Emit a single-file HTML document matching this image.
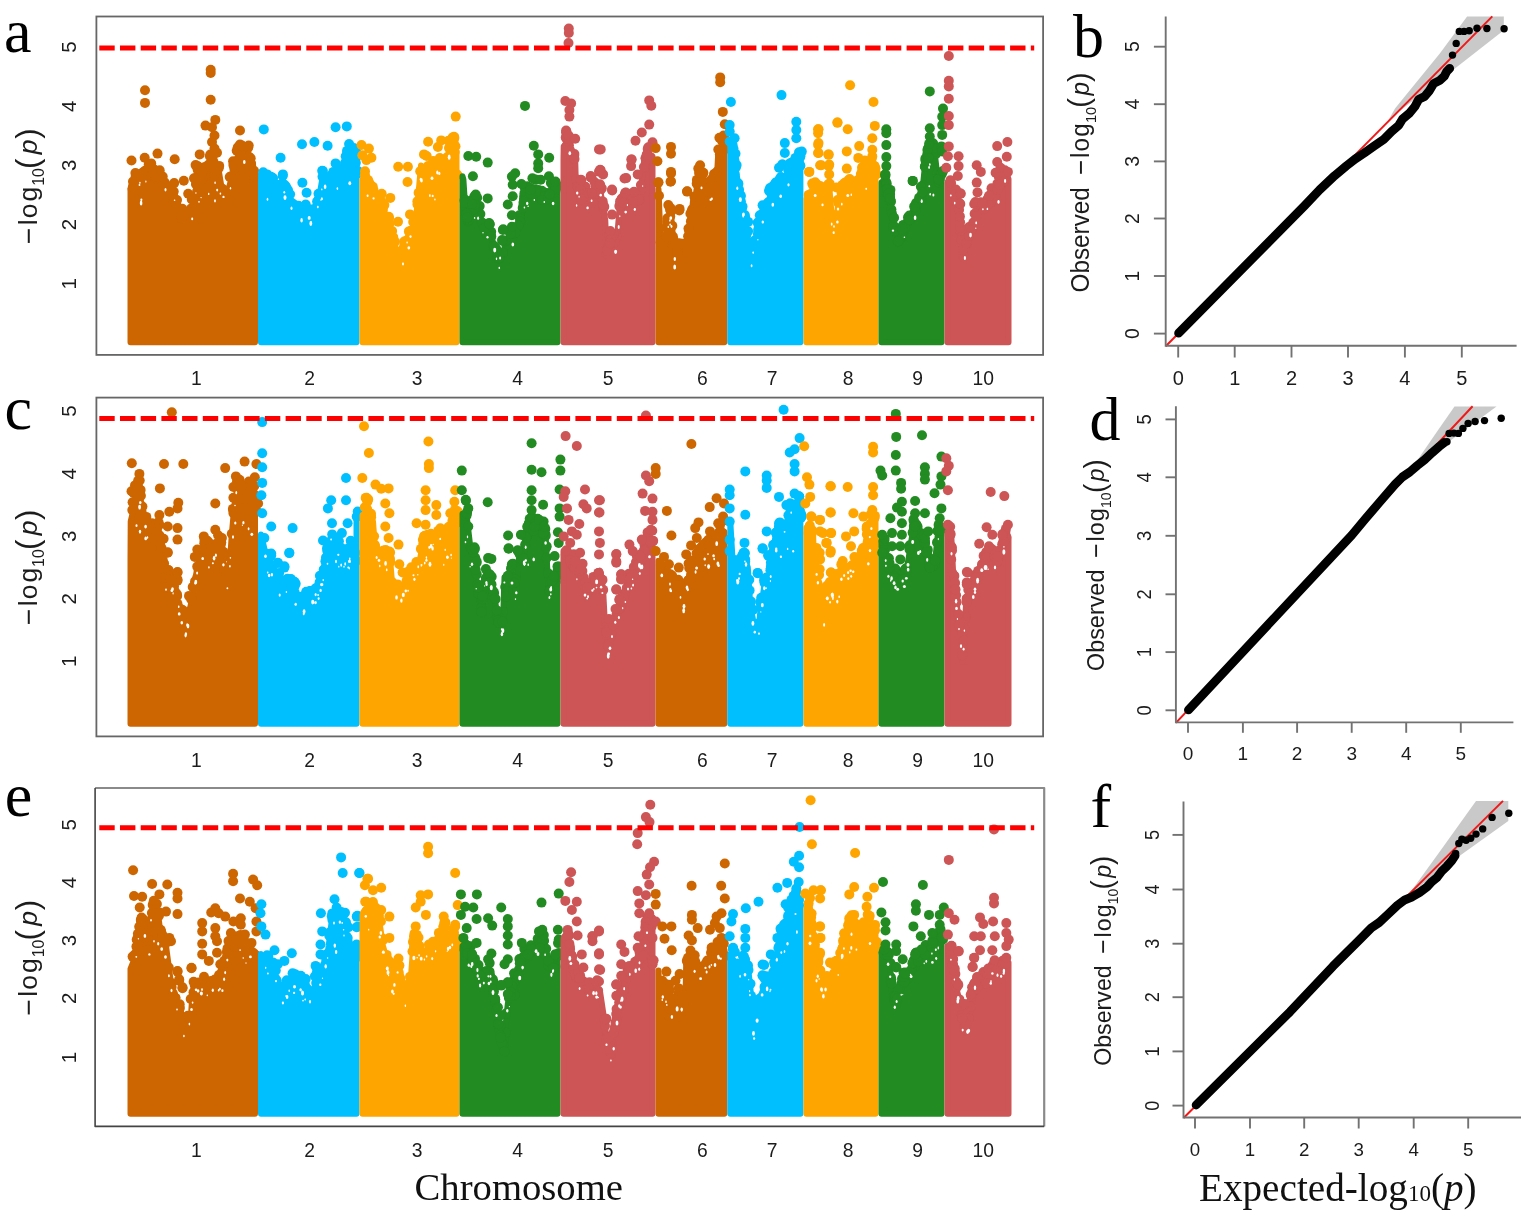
<!DOCTYPE html><html><head><meta charset="utf-8"><title>Manhattan and QQ plots</title><style>html,body{margin:0;padding:0;background:#fff}svg{display:block}.m circle{r:5px}</style></head><body><svg width="1535" height="1217" viewBox="0 0 1535 1217">
<rect width="100%" height="100%" fill="#fff"/>
<g class="m"><path d="M130.5,342.3L130.5,189.5L130.5,189.5L136.4,182.9L144.7,173.1L152.9,173.1L161.1,182.9L169.3,189.5L174.2,197.7L179.2,215.8L185.7,224.0L189.0,215.8L194.0,205.9L197.3,176.3L202.2,182.9L208.8,165.6L218.6,169.8L221.9,189.5L226.8,197.7L231.8,176.3L238.3,159.2L249.8,159.2L253.1,176.3L255.0,182.9L255.0,182.9L255.0,342.3Z" fill="#CD6600" stroke="#CD6600" stroke-width="6.0" stroke-linejoin="round"/>
<g fill="#CD6600"><circle cx="172.7" cy="196.3" r="5"/><circle cx="213.2" cy="169.0" r="5"/><circle cx="198.9" cy="178.6" r="5"/><circle cx="139.7" cy="177.8" r="5"/><circle cx="137.1" cy="181.5" r="5"/><circle cx="141.2" cy="178.8" r="5"/><circle cx="185.1" cy="217.4" r="5"/><circle cx="147.9" cy="173.9" r="5"/><circle cx="210.3" cy="154.6" r="5"/><circle cx="204.1" cy="177.5" r="5"/><circle cx="253.6" cy="179.6" r="5"/><circle cx="239.0" cy="158.9" r="5"/><circle cx="150.4" cy="174.5" r="5"/><circle cx="170.8" cy="186.3" r="5"/><circle cx="154.9" cy="173.6" r="5"/><circle cx="211.7" cy="166.5" r="5"/><circle cx="200.4" cy="182.3" r="5"/><circle cx="139.9" cy="179.7" r="5"/><circle cx="216.9" cy="168.4" r="5"/><circle cx="171.5" cy="191.1" r="5"/><circle cx="188.7" cy="217.0" r="5"/><circle cx="231.0" cy="176.3" r="5"/><circle cx="162.8" cy="182.4" r="5"/><circle cx="197.6" cy="169.5" r="5"/><circle cx="223.0" cy="191.7" r="5"/><circle cx="254.0" cy="181.0" r="5"/><circle cx="184.3" cy="217.9" r="5"/><circle cx="151.3" cy="172.0" r="5"/><circle cx="137.4" cy="178.8" r="5"/><circle cx="227.3" cy="193.8" r="5"/><circle cx="241.1" cy="158.6" r="5"/><circle cx="218.7" cy="168.3" r="5"/><circle cx="204.4" cy="176.1" r="5"/><circle cx="236.7" cy="150.7" r="5"/><circle cx="191.3" cy="208.4" r="5"/><circle cx="140.0" cy="175.2" r="5"/><circle cx="212.7" cy="155.8" r="5"/><circle cx="234.4" cy="168.9" r="5"/><circle cx="180.3" cy="214.3" r="5"/><circle cx="135.3" cy="183.4" r="5"/><circle cx="153.3" cy="175.1" r="5"/><circle cx="139.8" cy="174.3" r="5"/><circle cx="148.5" cy="173.8" r="5"/><circle cx="181.0" cy="210.8" r="5"/><circle cx="142.5" cy="175.0" r="5"/><circle cx="200.6" cy="173.2" r="5"/><circle cx="234.1" cy="162.4" r="5"/><circle cx="167.0" cy="187.2" r="5"/><circle cx="177.0" cy="200.1" r="5"/><circle cx="251.3" cy="166.9" r="5"/><circle cx="154.4" cy="175.6" r="5"/><circle cx="161.4" cy="182.2" r="5"/><circle cx="205.6" cy="174.3" r="5"/><circle cx="133.0" cy="186.3" r="5"/><circle cx="178.3" cy="210.8" r="5"/><circle cx="250.7" cy="158.3" r="5"/><circle cx="196.4" cy="181.5" r="5"/><circle cx="216.3" cy="170.4" r="5"/><circle cx="244.0" cy="150.9" r="5"/><circle cx="240.9" cy="150.3" r="5"/><circle cx="181.2" cy="218.0" r="5"/><circle cx="145.3" cy="170.5" r="5"/><circle cx="140.2" cy="180.1" r="5"/><circle cx="158.4" cy="180.9" r="5"/><circle cx="174.7" cy="201.0" r="5"/><circle cx="132.5" cy="188.5" r="5"/><circle cx="145.1" cy="173.0" r="5"/><circle cx="135.7" cy="176.4" r="5"/><circle cx="208.6" cy="167.0" r="5"/><circle cx="163.8" cy="185.1" r="5"/><circle cx="177.7" cy="211.6" r="5"/><circle cx="237.8" cy="147.3" r="5"/><circle cx="190.3" cy="212.3" r="5"/><circle cx="143.1" cy="176.4" r="5"/><circle cx="175.0" cy="201.1" r="5"/><circle cx="235.3" cy="167.5" r="5"/><circle cx="135.4" cy="173.1" r="5"/><circle cx="198.0" cy="178.6" r="5"/><circle cx="199.9" cy="181.7" r="5"/><circle cx="198.0" cy="166.3" r="5"/><circle cx="239.6" cy="153.1" r="5"/><circle cx="164.9" cy="185.9" r="5"/><circle cx="153.2" cy="168.8" r="5"/><circle cx="198.5" cy="173.3" r="5"/><circle cx="173.4" cy="197.1" r="5"/><circle cx="233.1" cy="161.3" r="5"/><circle cx="238.2" cy="150.4" r="5"/><circle cx="234.0" cy="165.7" r="5"/><circle cx="160.6" cy="181.1" r="5"/><circle cx="176.6" cy="208.2" r="5"/><circle cx="136.0" cy="184.0" r="5"/><circle cx="164.6" cy="182.4" r="5"/><circle cx="251.1" cy="163.9" r="5"/><circle cx="248.7" cy="145.6" r="5"/><circle cx="250.9" cy="163.7" r="5"/><circle cx="159.8" cy="182.3" r="5"/><circle cx="156.9" cy="178.8" r="5"/><circle cx="209.9" cy="156.3" r="5"/><circle cx="236.7" cy="161.2" r="5"/><circle cx="213.5" cy="161.9" r="5"/><circle cx="143.0" cy="172.2" r="5"/><circle cx="245.3" cy="150.8" r="5"/><circle cx="225.5" cy="194.6" r="5"/><circle cx="154.6" cy="170.2" r="5"/><circle cx="173.7" cy="191.6" r="5"/><circle cx="253.0" cy="175.2" r="5"/><circle cx="182.3" cy="208.7" r="5"/><circle cx="222.4" cy="191.4" r="5"/><circle cx="148.3" cy="174.3" r="5"/><circle cx="244.7" cy="150.0" r="5"/><circle cx="150.6" cy="167.2" r="5"/><circle cx="254.1" cy="176.8" r="5"/><circle cx="176.0" cy="202.4" r="5"/><circle cx="148.7" cy="175.0" r="5"/><circle cx="252.9" cy="172.1" r="5"/><circle cx="197.8" cy="166.9" r="5"/><circle cx="186.3" cy="215.4" r="5"/><circle cx="234.9" cy="168.0" r="5"/><circle cx="163.7" cy="185.5" r="5"/><circle cx="162.3" cy="181.9" r="5"/><circle cx="164.7" cy="185.3" r="5"/><circle cx="148.8" cy="164.2" r="5"/><circle cx="176.4" cy="204.8" r="5"/><circle cx="204.8" cy="167.1" r="5"/><circle cx="184.7" cy="213.4" r="5"/><circle cx="194.7" cy="197.9" r="5"/><circle cx="197.4" cy="178.5" r="5"/><circle cx="187.1" cy="221.8" r="5"/><circle cx="133.0" cy="181.5" r="5"/><circle cx="153.9" cy="173.4" r="5"/><circle cx="222.4" cy="188.7" r="5"/><circle cx="172.9" cy="194.2" r="5"/><circle cx="201.4" cy="176.9" r="5"/><circle cx="145.7" cy="171.4" r="5"/><circle cx="163.3" cy="185.2" r="5"/><circle cx="228.3" cy="190.4" r="5"/><circle cx="202.2" cy="178.5" r="5"/><circle cx="245.6" cy="157.2" r="5"/><circle cx="208.5" cy="164.7" r="5"/><circle cx="196.0" cy="184.2" r="5"/><circle cx="188.6" cy="215.5" r="5"/><circle cx="191.8" cy="199.5" r="5"/><circle cx="219.2" cy="165.9" r="5"/><circle cx="249.3" cy="159.1" r="5"/><circle cx="201.9" cy="171.6" r="5"/><circle cx="236.7" cy="164.3" r="5"/><circle cx="147.6" cy="172.4" r="5"/><circle cx="141.5" cy="177.6" r="5"/><circle cx="141.6" cy="173.8" r="5"/><circle cx="229.7" cy="177.0" r="5"/><circle cx="151.7" cy="169.4" r="5"/><circle cx="214.4" cy="169.1" r="5"/><circle cx="242.0" cy="145.6" r="5"/><circle cx="159.7" cy="170.3" r="5"/><circle cx="181.9" cy="218.2" r="5"/><circle cx="255.2" cy="176.9" r="5"/><circle cx="152.5" cy="172.5" r="5"/><circle cx="196.4" cy="183.8" r="5"/><circle cx="156.8" cy="178.0" r="5"/><circle cx="222.0" cy="191.6" r="5"/><circle cx="201.2" cy="181.0" r="5"/><circle cx="134.7" cy="185.0" r="5"/><circle cx="209.9" cy="164.4" r="5"/><circle cx="145.0" cy="90.3" r="5"/><circle cx="145.0" cy="102.9" r="5"/><circle cx="210.7" cy="69.7" r="5"/><circle cx="210.7" cy="73.0" r="5"/><circle cx="210.7" cy="99.8" r="5"/><circle cx="240.0" cy="130.5" r="5"/><circle cx="131.5" cy="160.5" r="5"/><circle cx="174.7" cy="159.3" r="5"/><circle cx="183.8" cy="180.7" r="5"/><circle cx="188.2" cy="193.8" r="5"/><circle cx="157.5" cy="153.6" r="5"/><circle cx="144.7" cy="157.7" r="5"/><circle cx="199.7" cy="154.4" r="5"/><circle cx="215.3" cy="119.9" r="5"/><circle cx="205.5" cy="125.6" r="5"/><circle cx="212.0" cy="127.3" r="5"/><circle cx="214.5" cy="135.5" r="5"/><circle cx="212.0" cy="142.0" r="5"/><circle cx="214.5" cy="148.6" r="5"/><circle cx="217.0" cy="152.7" r="5"/><circle cx="240.0" cy="144.5" r="5"/><circle cx="248.2" cy="147.8" r="5"/><circle cx="241.6" cy="155.2" r="5"/><circle cx="249.0" cy="156.8" r="5"/><circle cx="233.4" cy="165.1" r="5"/><circle cx="240.0" cy="165.1" r="5"/><circle cx="248.2" cy="165.1" r="5"/><circle cx="254.0" cy="170.8" r="5"/><circle cx="151.2" cy="163.4" r="5"/><circle cx="138.1" cy="174.9" r="5"/><circle cx="162.7" cy="176.6" r="5"/><circle cx="174.2" cy="183.1" r="5"/><circle cx="195.6" cy="165.1" r="5"/><circle cx="194.0" cy="178.2" r="5"/><circle cx="197.3" cy="191.4" r="5"/></g>
<g fill="#fff"><ellipse cx="141.1" cy="202.9" rx="1.3" ry="2.5"/><ellipse cx="145.9" cy="181.6" rx="0.6" ry="1.1"/><ellipse cx="165.5" cy="189.8" rx="1.0" ry="1.8"/><ellipse cx="230.5" cy="188.2" rx="0.7" ry="1.3"/><ellipse cx="201.1" cy="197.6" rx="0.7" ry="0.7"/><ellipse cx="215.1" cy="182.8" rx="0.7" ry="1.2"/><ellipse cx="208.7" cy="193.9" rx="0.7" ry="1.2"/><ellipse cx="141.4" cy="199.7" rx="1.0" ry="1.3"/><ellipse cx="199.0" cy="201.8" rx="0.8" ry="0.9"/><ellipse cx="195.9" cy="193.0" rx="0.7" ry="0.8"/><ellipse cx="139.5" cy="185.0" rx="0.9" ry="1.1"/><ellipse cx="223.5" cy="196.9" rx="1.1" ry="1.2"/><ellipse cx="174.6" cy="200.3" rx="0.8" ry="0.8"/><ellipse cx="220.4" cy="193.7" rx="0.8" ry="1.1"/><ellipse cx="244.3" cy="162.0" rx="1.3" ry="1.9"/><ellipse cx="192.2" cy="218.9" rx="1.0" ry="1.4"/><ellipse cx="215.0" cy="200.8" rx="0.9" ry="1.6"/><ellipse cx="217.2" cy="190.1" rx="1.0" ry="1.3"/><ellipse cx="139.9" cy="182.8" rx="0.7" ry="1.1"/></g>
<path d="M261.0,342.3L261.0,179.6L261.0,179.6L263.0,176.3L267.9,181.3L276.1,186.2L282.7,184.6L286.0,197.7L290.9,205.9L295.9,215.8L300.8,217.4L305.7,212.5L310.7,215.8L317.2,209.2L322.2,179.6L327.1,182.9L333.7,182.9L340.2,182.9L345.2,161.7L351.8,155.3L356.5,164.3L356.5,173.1L356.5,173.1L356.5,342.3Z" fill="#00BFFF" stroke="#00BFFF" stroke-width="6.0" stroke-linejoin="round"/>
<g fill="#00BFFF"><circle cx="287.3" cy="201.0" r="5"/><circle cx="271.0" cy="176.8" r="5"/><circle cx="345.7" cy="156.3" r="5"/><circle cx="289.8" cy="204.8" r="5"/><circle cx="290.8" cy="205.0" r="5"/><circle cx="278.0" cy="185.1" r="5"/><circle cx="288.0" cy="190.0" r="5"/><circle cx="355.4" cy="159.4" r="5"/><circle cx="286.2" cy="187.1" r="5"/><circle cx="292.4" cy="208.9" r="5"/><circle cx="263.1" cy="176.3" r="5"/><circle cx="308.1" cy="212.9" r="5"/><circle cx="282.1" cy="183.6" r="5"/><circle cx="263.5" cy="177.4" r="5"/><circle cx="271.5" cy="183.1" r="5"/><circle cx="267.0" cy="182.2" r="5"/><circle cx="291.9" cy="208.7" r="5"/><circle cx="318.6" cy="199.5" r="5"/><circle cx="334.3" cy="180.1" r="5"/><circle cx="331.0" cy="175.4" r="5"/><circle cx="300.0" cy="217.4" r="5"/><circle cx="356.5" cy="174.3" r="5"/><circle cx="331.8" cy="180.3" r="5"/><circle cx="267.2" cy="174.4" r="5"/><circle cx="347.7" cy="154.6" r="5"/><circle cx="332.7" cy="177.4" r="5"/><circle cx="276.2" cy="184.8" r="5"/><circle cx="310.9" cy="209.4" r="5"/><circle cx="339.4" cy="177.0" r="5"/><circle cx="318.5" cy="193.7" r="5"/><circle cx="327.9" cy="179.6" r="5"/><circle cx="284.8" cy="194.9" r="5"/><circle cx="275.6" cy="185.9" r="5"/><circle cx="273.0" cy="178.2" r="5"/><circle cx="316.1" cy="207.9" r="5"/><circle cx="322.5" cy="176.7" r="5"/><circle cx="309.5" cy="217.0" r="5"/><circle cx="338.8" cy="178.7" r="5"/><circle cx="310.8" cy="214.2" r="5"/><circle cx="325.6" cy="183.6" r="5"/><circle cx="333.0" cy="183.6" r="5"/><circle cx="270.1" cy="183.2" r="5"/><circle cx="332.3" cy="183.9" r="5"/><circle cx="333.3" cy="171.9" r="5"/><circle cx="309.9" cy="215.1" r="5"/><circle cx="308.5" cy="211.2" r="5"/><circle cx="335.9" cy="180.6" r="5"/><circle cx="324.1" cy="182.5" r="5"/><circle cx="277.0" cy="186.7" r="5"/><circle cx="333.6" cy="183.3" r="5"/><circle cx="316.9" cy="211.5" r="5"/><circle cx="268.8" cy="182.4" r="5"/><circle cx="326.8" cy="179.4" r="5"/><circle cx="327.2" cy="183.4" r="5"/><circle cx="312.1" cy="213.6" r="5"/><circle cx="307.3" cy="215.0" r="5"/><circle cx="347.9" cy="159.6" r="5"/><circle cx="355.9" cy="150.8" r="5"/><circle cx="264.7" cy="177.2" r="5"/><circle cx="340.9" cy="168.9" r="5"/><circle cx="305.7" cy="213.1" r="5"/><circle cx="282.9" cy="174.4" r="5"/><circle cx="283.0" cy="183.8" r="5"/><circle cx="276.5" cy="184.8" r="5"/><circle cx="353.5" cy="159.7" r="5"/><circle cx="340.9" cy="178.6" r="5"/><circle cx="347.3" cy="153.6" r="5"/><circle cx="285.0" cy="185.3" r="5"/><circle cx="309.2" cy="216.7" r="5"/><circle cx="263.3" cy="175.6" r="5"/><circle cx="305.8" cy="212.9" r="5"/><circle cx="276.4" cy="186.3" r="5"/><circle cx="293.0" cy="203.9" r="5"/><circle cx="263.2" cy="172.3" r="5"/><circle cx="342.7" cy="172.8" r="5"/><circle cx="351.0" cy="148.6" r="5"/><circle cx="348.6" cy="158.0" r="5"/><circle cx="298.4" cy="216.4" r="5"/><circle cx="357.9" cy="171.1" r="5"/><circle cx="297.3" cy="215.7" r="5"/><circle cx="289.1" cy="204.7" r="5"/><circle cx="272.7" cy="178.0" r="5"/><circle cx="290.1" cy="194.2" r="5"/><circle cx="286.7" cy="199.4" r="5"/><circle cx="311.5" cy="216.0" r="5"/><circle cx="298.5" cy="205.7" r="5"/><circle cx="347.0" cy="150.9" r="5"/><circle cx="322.9" cy="171.1" r="5"/><circle cx="352.4" cy="152.5" r="5"/><circle cx="331.4" cy="184.7" r="5"/><circle cx="332.6" cy="182.2" r="5"/><circle cx="334.5" cy="180.3" r="5"/><circle cx="290.2" cy="206.5" r="5"/><circle cx="351.0" cy="157.0" r="5"/><circle cx="307.9" cy="214.0" r="5"/><circle cx="291.3" cy="202.6" r="5"/><circle cx="355.7" cy="163.1" r="5"/><circle cx="325.3" cy="182.1" r="5"/><circle cx="315.9" cy="210.3" r="5"/><circle cx="278.9" cy="186.7" r="5"/><circle cx="282.7" cy="176.0" r="5"/><circle cx="310.2" cy="216.4" r="5"/><circle cx="349.1" cy="144.0" r="5"/><circle cx="305.7" cy="213.8" r="5"/><circle cx="281.3" cy="186.5" r="5"/><circle cx="295.5" cy="216.6" r="5"/><circle cx="285.7" cy="197.2" r="5"/><circle cx="317.1" cy="201.5" r="5"/><circle cx="334.2" cy="182.5" r="5"/><circle cx="302.3" cy="214.6" r="5"/><circle cx="298.8" cy="216.9" r="5"/><circle cx="268.9" cy="182.4" r="5"/><circle cx="354.9" cy="162.5" r="5"/><circle cx="310.8" cy="213.2" r="5"/><circle cx="345.0" cy="163.1" r="5"/><circle cx="288.7" cy="203.0" r="5"/><circle cx="301.0" cy="216.6" r="5"/><circle cx="353.6" cy="147.9" r="5"/><circle cx="345.9" cy="162.9" r="5"/><circle cx="266.1" cy="175.8" r="5"/><circle cx="348.1" cy="156.5" r="5"/><circle cx="318.8" cy="202.0" r="5"/><circle cx="300.2" cy="207.5" r="5"/><circle cx="341.4" cy="170.7" r="5"/><circle cx="355.4" cy="162.4" r="5"/><circle cx="273.4" cy="185.8" r="5"/><circle cx="263.8" cy="129.4" r="5"/><circle cx="280.6" cy="157.7" r="5"/><circle cx="302.0" cy="144.2" r="5"/><circle cx="314.4" cy="142.0" r="5"/><circle cx="327.6" cy="145.8" r="5"/><circle cx="335.6" cy="127.3" r="5"/><circle cx="346.8" cy="126.4" r="5"/><circle cx="335.6" cy="163.4" r="5"/><circle cx="302.4" cy="182.8" r="5"/><circle cx="306.6" cy="192.7" r="5"/><circle cx="305.7" cy="204.5" r="5"/><circle cx="322.2" cy="170.8" r="5"/></g>
<g fill="#fff"><ellipse cx="310.8" cy="223.5" rx="1.4" ry="2.4"/><ellipse cx="321.9" cy="198.8" rx="1.0" ry="1.5"/><ellipse cx="267.5" cy="199.2" rx="0.8" ry="1.5"/><ellipse cx="321.8" cy="189.4" rx="0.7" ry="0.9"/><ellipse cx="320.9" cy="200.0" rx="0.7" ry="0.7"/><ellipse cx="310.9" cy="222.3" rx="0.9" ry="1.1"/><ellipse cx="317.8" cy="207.0" rx="0.9" ry="1.2"/><ellipse cx="349.8" cy="183.2" rx="1.4" ry="2.0"/><ellipse cx="285.0" cy="197.6" rx="1.5" ry="2.4"/><ellipse cx="291.5" cy="208.3" rx="1.0" ry="1.7"/><ellipse cx="301.6" cy="220.2" rx="1.2" ry="2.2"/><ellipse cx="284.3" cy="192.3" rx="0.9" ry="1.2"/><ellipse cx="325.1" cy="186.8" rx="1.3" ry="2.2"/><ellipse cx="309.2" cy="217.9" rx="1.5" ry="1.9"/><ellipse cx="337.4" cy="188.6" rx="0.8" ry="1.3"/></g>
<path d="M362.5,342.3L362.5,179.6L362.5,179.6L366.4,179.6L373.0,189.5L377.9,205.9L382.9,214.1L389.4,222.4L392.7,247.0L397.0,258.0L401.0,264.0L407.5,238.8L414.1,230.6L417.4,205.9L421.0,165.6L422.3,197.7L427.3,164.3L432.2,173.1L437.1,166.9L443.7,173.1L445.3,189.5L448.6,154.1L456.5,151.5L456.5,173.1L456.5,173.1L456.5,342.3Z" fill="#FFA500" stroke="#FFA500" stroke-width="6.0" stroke-linejoin="round"/>
<g fill="#FFA500"><circle cx="392.1" cy="231.1" r="5"/><circle cx="410.9" cy="235.7" r="5"/><circle cx="385.4" cy="216.9" r="5"/><circle cx="426.7" cy="156.0" r="5"/><circle cx="378.2" cy="206.1" r="5"/><circle cx="384.4" cy="205.1" r="5"/><circle cx="377.8" cy="207.1" r="5"/><circle cx="370.1" cy="184.9" r="5"/><circle cx="448.5" cy="140.7" r="5"/><circle cx="433.0" cy="161.0" r="5"/><circle cx="451.6" cy="151.7" r="5"/><circle cx="381.8" cy="202.1" r="5"/><circle cx="434.3" cy="172.1" r="5"/><circle cx="426.6" cy="167.5" r="5"/><circle cx="399.5" cy="261.9" r="5"/><circle cx="380.3" cy="211.9" r="5"/><circle cx="390.7" cy="231.5" r="5"/><circle cx="453.8" cy="153.2" r="5"/><circle cx="454.7" cy="152.1" r="5"/><circle cx="397.8" cy="253.5" r="5"/><circle cx="441.4" cy="170.2" r="5"/><circle cx="369.1" cy="182.7" r="5"/><circle cx="399.3" cy="252.2" r="5"/><circle cx="382.5" cy="213.6" r="5"/><circle cx="448.4" cy="158.2" r="5"/><circle cx="402.9" cy="251.1" r="5"/><circle cx="436.2" cy="169.7" r="5"/><circle cx="367.8" cy="183.3" r="5"/><circle cx="450.5" cy="153.0" r="5"/><circle cx="434.4" cy="161.8" r="5"/><circle cx="396.2" cy="256.5" r="5"/><circle cx="454.0" cy="146.1" r="5"/><circle cx="389.0" cy="218.1" r="5"/><circle cx="394.1" cy="251.1" r="5"/><circle cx="364.9" cy="175.3" r="5"/><circle cx="450.2" cy="147.3" r="5"/><circle cx="452.7" cy="154.5" r="5"/><circle cx="386.4" cy="217.6" r="5"/><circle cx="454.0" cy="136.8" r="5"/><circle cx="400.6" cy="264.2" r="5"/><circle cx="404.7" cy="248.7" r="5"/><circle cx="451.3" cy="153.5" r="5"/><circle cx="439.5" cy="164.9" r="5"/><circle cx="441.4" cy="166.1" r="5"/><circle cx="421.3" cy="171.9" r="5"/><circle cx="394.4" cy="251.2" r="5"/><circle cx="437.6" cy="168.9" r="5"/><circle cx="382.9" cy="210.0" r="5"/><circle cx="387.6" cy="221.8" r="5"/><circle cx="367.7" cy="179.9" r="5"/><circle cx="395.0" cy="241.7" r="5"/><circle cx="447.1" cy="157.2" r="5"/><circle cx="389.3" cy="223.7" r="5"/><circle cx="373.5" cy="190.1" r="5"/><circle cx="430.9" cy="169.8" r="5"/><circle cx="386.4" cy="218.1" r="5"/><circle cx="422.5" cy="193.4" r="5"/><circle cx="434.4" cy="163.6" r="5"/><circle cx="426.6" cy="169.1" r="5"/><circle cx="443.1" cy="172.9" r="5"/><circle cx="417.5" cy="204.5" r="5"/><circle cx="433.5" cy="172.3" r="5"/><circle cx="387.6" cy="220.8" r="5"/><circle cx="378.8" cy="199.7" r="5"/><circle cx="418.6" cy="192.7" r="5"/><circle cx="401.5" cy="250.9" r="5"/><circle cx="411.9" cy="234.1" r="5"/><circle cx="440.1" cy="166.7" r="5"/><circle cx="457.2" cy="174.6" r="5"/><circle cx="408.9" cy="231.4" r="5"/><circle cx="443.1" cy="163.4" r="5"/><circle cx="368.3" cy="182.8" r="5"/><circle cx="375.6" cy="199.3" r="5"/><circle cx="455.5" cy="146.2" r="5"/><circle cx="451.5" cy="151.2" r="5"/><circle cx="445.5" cy="187.0" r="5"/><circle cx="388.8" cy="216.8" r="5"/><circle cx="452.9" cy="153.7" r="5"/><circle cx="420.2" cy="171.2" r="5"/><circle cx="384.8" cy="216.5" r="5"/><circle cx="377.7" cy="206.2" r="5"/><circle cx="388.3" cy="218.9" r="5"/><circle cx="425.4" cy="176.9" r="5"/><circle cx="365.6" cy="179.8" r="5"/><circle cx="427.9" cy="166.3" r="5"/><circle cx="393.7" cy="250.5" r="5"/><circle cx="438.9" cy="166.7" r="5"/><circle cx="370.4" cy="187.1" r="5"/><circle cx="401.5" cy="260.6" r="5"/><circle cx="424.3" cy="185.7" r="5"/><circle cx="379.8" cy="205.7" r="5"/><circle cx="402.8" cy="257.5" r="5"/><circle cx="393.3" cy="237.4" r="5"/><circle cx="393.7" cy="247.8" r="5"/><circle cx="397.9" cy="258.9" r="5"/><circle cx="445.3" cy="178.2" r="5"/><circle cx="398.5" cy="261.3" r="5"/><circle cx="432.6" cy="173.5" r="5"/><circle cx="365.0" cy="171.2" r="5"/><circle cx="404.1" cy="246.2" r="5"/><circle cx="402.5" cy="250.6" r="5"/><circle cx="407.6" cy="239.9" r="5"/><circle cx="365.9" cy="178.0" r="5"/><circle cx="424.4" cy="174.3" r="5"/><circle cx="372.8" cy="186.8" r="5"/><circle cx="399.2" cy="260.1" r="5"/><circle cx="378.1" cy="206.8" r="5"/><circle cx="413.2" cy="222.0" r="5"/><circle cx="374.7" cy="194.0" r="5"/><circle cx="439.8" cy="158.1" r="5"/><circle cx="383.0" cy="215.6" r="5"/><circle cx="452.7" cy="137.4" r="5"/><circle cx="409.6" cy="237.9" r="5"/><circle cx="451.1" cy="151.2" r="5"/><circle cx="449.0" cy="148.0" r="5"/><circle cx="441.6" cy="172.2" r="5"/><circle cx="438.0" cy="168.4" r="5"/><circle cx="402.3" cy="252.5" r="5"/><circle cx="442.0" cy="172.5" r="5"/><circle cx="384.9" cy="216.4" r="5"/><circle cx="412.9" cy="231.9" r="5"/><circle cx="376.0" cy="200.2" r="5"/><circle cx="432.3" cy="164.7" r="5"/><circle cx="368.3" cy="180.8" r="5"/><circle cx="435.3" cy="170.7" r="5"/><circle cx="361.5" cy="145.0" r="5"/><circle cx="368.9" cy="148.6" r="5"/><circle cx="362.3" cy="155.2" r="5"/><circle cx="371.4" cy="157.7" r="5"/><circle cx="366.4" cy="160.1" r="5"/><circle cx="398.2" cy="166.7" r="5"/><circle cx="407.9" cy="166.7" r="5"/><circle cx="407.5" cy="182.0" r="5"/><circle cx="381.7" cy="193.8" r="5"/><circle cx="390.3" cy="197.9" r="5"/><circle cx="428.1" cy="141.7" r="5"/><circle cx="441.2" cy="140.4" r="5"/><circle cx="437.9" cy="147.0" r="5"/><circle cx="455.7" cy="116.6" r="5"/><circle cx="454.4" cy="137.9" r="5"/><circle cx="453.6" cy="142.0" r="5"/><circle cx="424.0" cy="154.4" r="5"/><circle cx="398.0" cy="221.8" r="5"/><circle cx="410.0" cy="214.4" r="5"/><circle cx="404.2" cy="241.5" r="5"/><circle cx="417.4" cy="201.2" r="5"/><circle cx="410.8" cy="230.8" r="5"/></g>
<g fill="#fff"><ellipse cx="439.3" cy="173.4" rx="1.1" ry="1.7"/><ellipse cx="420.7" cy="179.3" rx="1.0" ry="1.5"/><ellipse cx="403.0" cy="264.0" rx="1.0" ry="1.4"/><ellipse cx="367.6" cy="195.8" rx="1.0" ry="1.3"/><ellipse cx="432.7" cy="195.9" rx="1.0" ry="1.2"/><ellipse cx="407.1" cy="242.4" rx="0.7" ry="1.0"/><ellipse cx="373.6" cy="198.4" rx="1.1" ry="1.1"/><ellipse cx="421.5" cy="180.4" rx="1.3" ry="2.1"/><ellipse cx="410.5" cy="236.6" rx="1.1" ry="1.4"/><ellipse cx="449.2" cy="157.2" rx="1.4" ry="2.6"/><ellipse cx="429.9" cy="195.6" rx="0.8" ry="1.5"/><ellipse cx="408.8" cy="247.8" rx="1.4" ry="1.6"/><ellipse cx="434.9" cy="199.5" rx="0.7" ry="0.9"/><ellipse cx="432.0" cy="178.3" rx="1.4" ry="1.8"/><ellipse cx="437.3" cy="172.5" rx="1.1" ry="1.9"/></g>
<path d="M462.5,342.3L462.5,176.3L462.5,176.3L463.4,179.6L465.1,205.9L468.3,222.4L471.6,209.2L476.6,205.9L481.5,222.4L486.4,232.2L491.4,235.5L493.8,245.6L494.6,247.0L498.0,260.1L504.2,249.7L508.4,237.2L511.1,238.8L516.0,230.6L520.9,219.1L524.2,199.4L529.2,196.1L535.7,189.5L542.3,199.4L547.2,197.7L552.2,192.8L557.1,187.8L557.5,187.8L557.5,342.3Z" fill="#228B22" stroke="#228B22" stroke-width="6.0" stroke-linejoin="round"/>
<g fill="#228B22"><circle cx="484.2" cy="228.4" r="5"/><circle cx="512.3" cy="237.0" r="5"/><circle cx="468.0" cy="221.6" r="5"/><circle cx="479.7" cy="206.1" r="5"/><circle cx="528.7" cy="188.2" r="5"/><circle cx="480.4" cy="214.0" r="5"/><circle cx="475.4" cy="205.3" r="5"/><circle cx="524.6" cy="199.1" r="5"/><circle cx="547.0" cy="196.1" r="5"/><circle cx="519.3" cy="215.2" r="5"/><circle cx="474.4" cy="196.4" r="5"/><circle cx="524.0" cy="200.4" r="5"/><circle cx="539.9" cy="196.3" r="5"/><circle cx="558.1" cy="186.0" r="5"/><circle cx="498.5" cy="254.7" r="5"/><circle cx="506.3" cy="244.7" r="5"/><circle cx="534.8" cy="192.2" r="5"/><circle cx="542.0" cy="199.5" r="5"/><circle cx="524.9" cy="187.9" r="5"/><circle cx="519.9" cy="218.7" r="5"/><circle cx="494.0" cy="248.0" r="5"/><circle cx="467.7" cy="220.4" r="5"/><circle cx="522.7" cy="207.9" r="5"/><circle cx="512.9" cy="227.5" r="5"/><circle cx="477.0" cy="208.2" r="5"/><circle cx="526.2" cy="199.9" r="5"/><circle cx="464.7" cy="201.0" r="5"/><circle cx="474.6" cy="207.3" r="5"/><circle cx="485.7" cy="228.8" r="5"/><circle cx="520.2" cy="221.8" r="5"/><circle cx="523.5" cy="203.1" r="5"/><circle cx="477.2" cy="197.8" r="5"/><circle cx="487.5" cy="234.2" r="5"/><circle cx="473.6" cy="205.4" r="5"/><circle cx="546.8" cy="193.0" r="5"/><circle cx="502.5" cy="253.3" r="5"/><circle cx="465.6" cy="205.9" r="5"/><circle cx="517.6" cy="226.8" r="5"/><circle cx="525.5" cy="197.9" r="5"/><circle cx="553.1" cy="187.9" r="5"/><circle cx="488.0" cy="224.7" r="5"/><circle cx="468.7" cy="219.7" r="5"/><circle cx="502.9" cy="252.8" r="5"/><circle cx="470.0" cy="210.9" r="5"/><circle cx="465.7" cy="207.4" r="5"/><circle cx="553.4" cy="192.8" r="5"/><circle cx="483.4" cy="223.9" r="5"/><circle cx="512.4" cy="234.0" r="5"/><circle cx="541.4" cy="199.1" r="5"/><circle cx="493.7" cy="245.7" r="5"/><circle cx="469.1" cy="211.5" r="5"/><circle cx="538.5" cy="190.0" r="5"/><circle cx="465.1" cy="199.8" r="5"/><circle cx="534.9" cy="189.5" r="5"/><circle cx="534.6" cy="189.9" r="5"/><circle cx="485.9" cy="232.6" r="5"/><circle cx="486.5" cy="234.1" r="5"/><circle cx="496.2" cy="248.9" r="5"/><circle cx="530.2" cy="188.6" r="5"/><circle cx="531.8" cy="194.1" r="5"/><circle cx="516.8" cy="228.1" r="5"/><circle cx="539.0" cy="193.1" r="5"/><circle cx="489.6" cy="231.7" r="5"/><circle cx="555.7" cy="190.1" r="5"/><circle cx="547.7" cy="199.2" r="5"/><circle cx="489.1" cy="234.8" r="5"/><circle cx="534.8" cy="179.4" r="5"/><circle cx="535.0" cy="190.4" r="5"/><circle cx="547.7" cy="197.5" r="5"/><circle cx="487.1" cy="224.0" r="5"/><circle cx="524.1" cy="196.8" r="5"/><circle cx="527.4" cy="186.3" r="5"/><circle cx="508.9" cy="231.3" r="5"/><circle cx="530.4" cy="188.0" r="5"/><circle cx="505.8" cy="241.2" r="5"/><circle cx="518.4" cy="225.4" r="5"/><circle cx="484.5" cy="226.1" r="5"/><circle cx="471.9" cy="200.2" r="5"/><circle cx="478.2" cy="213.1" r="5"/><circle cx="474.6" cy="197.3" r="5"/><circle cx="497.1" cy="258.0" r="5"/><circle cx="467.2" cy="218.5" r="5"/><circle cx="530.0" cy="192.8" r="5"/><circle cx="530.4" cy="190.9" r="5"/><circle cx="470.7" cy="210.9" r="5"/><circle cx="498.8" cy="253.1" r="5"/><circle cx="541.9" cy="190.8" r="5"/><circle cx="470.7" cy="205.7" r="5"/><circle cx="550.9" cy="183.0" r="5"/><circle cx="474.6" cy="208.2" r="5"/><circle cx="475.1" cy="208.8" r="5"/><circle cx="544.6" cy="193.1" r="5"/><circle cx="524.4" cy="193.4" r="5"/><circle cx="524.2" cy="200.1" r="5"/><circle cx="473.9" cy="209.2" r="5"/><circle cx="536.1" cy="191.0" r="5"/><circle cx="494.7" cy="246.6" r="5"/><circle cx="466.5" cy="213.7" r="5"/><circle cx="491.2" cy="231.8" r="5"/><circle cx="499.3" cy="258.2" r="5"/><circle cx="555.6" cy="188.2" r="5"/><circle cx="545.0" cy="196.1" r="5"/><circle cx="467.4" cy="217.4" r="5"/><circle cx="505.7" cy="240.5" r="5"/><circle cx="497.3" cy="253.9" r="5"/><circle cx="515.3" cy="232.6" r="5"/><circle cx="546.0" cy="199.7" r="5"/><circle cx="542.0" cy="200.0" r="5"/><circle cx="464.6" cy="200.0" r="5"/><circle cx="536.5" cy="179.7" r="5"/><circle cx="464.9" cy="202.6" r="5"/><circle cx="510.9" cy="233.6" r="5"/><circle cx="481.9" cy="222.2" r="5"/><circle cx="497.3" cy="251.5" r="5"/><circle cx="489.1" cy="223.1" r="5"/><circle cx="491.3" cy="236.4" r="5"/><circle cx="530.6" cy="193.5" r="5"/><circle cx="474.9" cy="204.5" r="5"/><circle cx="472.1" cy="203.9" r="5"/><circle cx="530.4" cy="189.9" r="5"/><circle cx="523.8" cy="201.7" r="5"/><circle cx="502.4" cy="252.5" r="5"/><circle cx="548.6" cy="197.9" r="5"/><circle cx="548.5" cy="198.4" r="5"/><circle cx="484.0" cy="228.0" r="5"/><circle cx="549.7" cy="194.2" r="5"/><circle cx="468.3" cy="156.0" r="5"/><circle cx="476.2" cy="156.8" r="5"/><circle cx="487.7" cy="162.6" r="5"/><circle cx="472.9" cy="176.2" r="5"/><circle cx="475.7" cy="194.6" r="5"/><circle cx="487.7" cy="198.4" r="5"/><circle cx="525.0" cy="105.9" r="5"/><circle cx="533.8" cy="145.7" r="5"/><circle cx="538.2" cy="154.4" r="5"/><circle cx="549.2" cy="157.7" r="5"/><circle cx="538.2" cy="163.4" r="5"/><circle cx="538.2" cy="168.3" r="5"/><circle cx="548.9" cy="176.2" r="5"/><circle cx="515.2" cy="173.3" r="5"/><circle cx="511.9" cy="176.6" r="5"/><circle cx="512.7" cy="184.8" r="5"/><circle cx="521.4" cy="184.0" r="5"/><circle cx="512.7" cy="196.3" r="5"/><circle cx="507.8" cy="204.5" r="5"/><circle cx="511.9" cy="215.2" r="5"/><circle cx="511.9" cy="226.7" r="5"/><circle cx="502.9" cy="230.0" r="5"/><circle cx="502.5" cy="240.7" r="5"/><circle cx="489.7" cy="224.2" r="5"/><circle cx="532.4" cy="178.2" r="5"/><circle cx="540.7" cy="179.8" r="5"/><circle cx="555.5" cy="181.5" r="5"/><circle cx="503.2" cy="229.2" r="5"/><circle cx="502.1" cy="240.1" r="5"/><circle cx="489.6" cy="224.0" r="5"/></g>
<g fill="#fff"><ellipse cx="499.3" cy="267.9" rx="0.8" ry="1.1"/><ellipse cx="512.8" cy="244.5" rx="1.3" ry="2.0"/><ellipse cx="496.5" cy="258.7" rx="0.7" ry="1.3"/><ellipse cx="524.4" cy="207.6" rx="0.8" ry="1.0"/><ellipse cx="534.3" cy="200.0" rx="0.7" ry="1.0"/><ellipse cx="544.3" cy="202.1" rx="0.8" ry="1.0"/><ellipse cx="528.1" cy="206.2" rx="0.7" ry="0.8"/><ellipse cx="487.5" cy="237.2" rx="1.1" ry="1.2"/><ellipse cx="494.7" cy="250.1" rx="1.5" ry="2.4"/><ellipse cx="474.6" cy="217.9" rx="0.7" ry="0.9"/><ellipse cx="553.1" cy="203.5" rx="1.3" ry="1.8"/><ellipse cx="483.0" cy="232.7" rx="0.7" ry="0.8"/><ellipse cx="500.1" cy="258.0" rx="1.0" ry="1.6"/><ellipse cx="527.2" cy="203.4" rx="1.2" ry="1.7"/><ellipse cx="478.1" cy="218.2" rx="1.0" ry="1.6"/></g>
<path d="M563.5,342.3L563.5,159.2L563.5,159.2L563.7,146.4L570.2,151.5L575.2,159.2L576.0,189.5L580.1,197.7L586.7,197.7L593.3,194.4L600.0,189.5L600.1,189.3L605.3,220.5L606.4,253.9L610.5,241.4L616.8,241.4L619.9,203.9L629.3,201.8L639.7,199.7L642.6,172.5L647.5,160.0L652.5,156.2L652.5,166.4L652.5,166.4L652.5,342.3Z" fill="#CD5555" stroke="#CD5555" stroke-width="6.0" stroke-linejoin="round"/>
<g fill="#CD5555"><circle cx="645.9" cy="162.8" r="5"/><circle cx="616.3" cy="237.2" r="5"/><circle cx="602.8" cy="206.0" r="5"/><circle cx="629.4" cy="194.2" r="5"/><circle cx="634.0" cy="197.4" r="5"/><circle cx="640.9" cy="185.1" r="5"/><circle cx="622.3" cy="202.6" r="5"/><circle cx="593.2" cy="192.0" r="5"/><circle cx="574.2" cy="155.7" r="5"/><circle cx="634.7" cy="197.1" r="5"/><circle cx="621.2" cy="204.3" r="5"/><circle cx="603.0" cy="205.7" r="5"/><circle cx="620.5" cy="203.4" r="5"/><circle cx="625.3" cy="192.7" r="5"/><circle cx="581.7" cy="194.9" r="5"/><circle cx="634.4" cy="200.6" r="5"/><circle cx="608.9" cy="235.5" r="5"/><circle cx="568.9" cy="145.3" r="5"/><circle cx="579.7" cy="192.1" r="5"/><circle cx="648.7" cy="156.1" r="5"/><circle cx="574.4" cy="154.0" r="5"/><circle cx="613.4" cy="237.7" r="5"/><circle cx="610.8" cy="238.8" r="5"/><circle cx="638.9" cy="198.5" r="5"/><circle cx="601.8" cy="188.4" r="5"/><circle cx="584.1" cy="194.5" r="5"/><circle cx="600.2" cy="185.5" r="5"/><circle cx="576.3" cy="179.2" r="5"/><circle cx="597.0" cy="193.5" r="5"/><circle cx="589.8" cy="195.9" r="5"/><circle cx="566.7" cy="145.6" r="5"/><circle cx="602.7" cy="201.4" r="5"/><circle cx="596.7" cy="192.5" r="5"/><circle cx="585.4" cy="193.6" r="5"/><circle cx="648.7" cy="156.0" r="5"/><circle cx="584.9" cy="192.4" r="5"/><circle cx="600.2" cy="190.6" r="5"/><circle cx="576.9" cy="186.6" r="5"/><circle cx="637.1" cy="197.7" r="5"/><circle cx="607.0" cy="250.3" r="5"/><circle cx="585.5" cy="186.7" r="5"/><circle cx="596.8" cy="189.3" r="5"/><circle cx="638.0" cy="194.4" r="5"/><circle cx="606.9" cy="252.7" r="5"/><circle cx="614.0" cy="242.8" r="5"/><circle cx="639.3" cy="199.8" r="5"/><circle cx="640.8" cy="190.3" r="5"/><circle cx="598.8" cy="191.1" r="5"/><circle cx="603.2" cy="208.9" r="5"/><circle cx="565.7" cy="137.6" r="5"/><circle cx="590.4" cy="196.6" r="5"/><circle cx="592.2" cy="194.0" r="5"/><circle cx="603.4" cy="206.5" r="5"/><circle cx="623.8" cy="203.0" r="5"/><circle cx="647.7" cy="149.1" r="5"/><circle cx="570.6" cy="138.8" r="5"/><circle cx="645.7" cy="158.0" r="5"/><circle cx="577.9" cy="187.3" r="5"/><circle cx="621.5" cy="205.4" r="5"/><circle cx="566.5" cy="132.0" r="5"/><circle cx="623.6" cy="203.8" r="5"/><circle cx="574.5" cy="159.0" r="5"/><circle cx="586.2" cy="193.0" r="5"/><circle cx="596.2" cy="193.6" r="5"/><circle cx="645.5" cy="158.3" r="5"/><circle cx="580.4" cy="189.7" r="5"/><circle cx="619.3" cy="206.1" r="5"/><circle cx="624.7" cy="194.7" r="5"/><circle cx="635.2" cy="194.4" r="5"/><circle cx="583.0" cy="194.4" r="5"/><circle cx="612.5" cy="237.3" r="5"/><circle cx="604.3" cy="206.8" r="5"/><circle cx="614.6" cy="242.0" r="5"/><circle cx="586.2" cy="199.0" r="5"/><circle cx="609.1" cy="247.3" r="5"/><circle cx="606.8" cy="253.8" r="5"/><circle cx="609.0" cy="245.0" r="5"/><circle cx="613.2" cy="234.4" r="5"/><circle cx="566.1" cy="132.6" r="5"/><circle cx="606.9" cy="250.6" r="5"/><circle cx="624.4" cy="196.6" r="5"/><circle cx="598.7" cy="190.0" r="5"/><circle cx="650.5" cy="159.1" r="5"/><circle cx="621.9" cy="200.9" r="5"/><circle cx="568.0" cy="143.1" r="5"/><circle cx="625.9" cy="192.5" r="5"/><circle cx="594.7" cy="182.3" r="5"/><circle cx="610.7" cy="240.4" r="5"/><circle cx="644.9" cy="167.9" r="5"/><circle cx="629.1" cy="199.4" r="5"/><circle cx="595.5" cy="185.9" r="5"/><circle cx="597.9" cy="190.1" r="5"/><circle cx="612.0" cy="236.8" r="5"/><circle cx="584.1" cy="197.1" r="5"/><circle cx="602.9" cy="204.2" r="5"/><circle cx="638.7" cy="200.3" r="5"/><circle cx="638.8" cy="199.6" r="5"/><circle cx="610.1" cy="243.4" r="5"/><circle cx="610.3" cy="231.1" r="5"/><circle cx="623.4" cy="198.0" r="5"/><circle cx="594.8" cy="193.6" r="5"/><circle cx="592.0" cy="193.1" r="5"/><circle cx="621.7" cy="198.6" r="5"/><circle cx="569.0" cy="141.0" r="5"/><circle cx="643.9" cy="167.1" r="5"/><circle cx="569.9" cy="150.1" r="5"/><circle cx="566.0" cy="148.2" r="5"/><circle cx="647.0" cy="157.2" r="5"/><circle cx="623.7" cy="198.0" r="5"/><circle cx="646.0" cy="160.2" r="5"/><circle cx="620.1" cy="201.4" r="5"/><circle cx="627.1" cy="200.2" r="5"/><circle cx="625.8" cy="203.5" r="5"/><circle cx="624.5" cy="202.1" r="5"/><circle cx="633.0" cy="202.6" r="5"/><circle cx="581.5" cy="199.5" r="5"/><circle cx="634.0" cy="191.8" r="5"/><circle cx="623.5" cy="203.0" r="5"/><circle cx="565.3" cy="101.0" r="5"/><circle cx="571.1" cy="103.4" r="5"/><circle cx="569.4" cy="110.0" r="5"/><circle cx="569.4" cy="116.6" r="5"/><circle cx="566.1" cy="130.5" r="5"/><circle cx="568.6" cy="135.5" r="5"/><circle cx="575.2" cy="138.8" r="5"/><circle cx="599.0" cy="149.4" r="5"/><circle cx="580.9" cy="179.8" r="5"/><circle cx="590.8" cy="177.4" r="5"/><circle cx="599.0" cy="171.6" r="5"/><circle cx="600.7" cy="149.4" r="5"/><circle cx="600.7" cy="170.3" r="5"/><circle cx="603.1" cy="174.4" r="5"/><circle cx="591.6" cy="177.7" r="5"/><circle cx="612.2" cy="190.5" r="5"/><circle cx="599.9" cy="184.2" r="5"/><circle cx="649.2" cy="100.4" r="5"/><circle cx="651.3" cy="105.8" r="5"/><circle cx="649.2" cy="124.6" r="5"/><circle cx="641.8" cy="132.5" r="5"/><circle cx="635.5" cy="140.7" r="5"/><circle cx="652.5" cy="142.3" r="5"/><circle cx="648.3" cy="147.2" r="5"/><circle cx="646.7" cy="154.6" r="5"/><circle cx="631.6" cy="159.6" r="5"/><circle cx="631.1" cy="166.1" r="5"/><circle cx="624.5" cy="178.5" r="5"/><circle cx="637.7" cy="174.4" r="5"/><circle cx="612.0" cy="189.6" r="5"/><circle cx="612.0" cy="214.6" r="5"/><circle cx="600.1" cy="169.8" r="5"/><circle cx="590.7" cy="176.1" r="5"/><circle cx="581.4" cy="180.2" r="5"/><circle cx="631.4" cy="159.4" r="5"/><circle cx="626.2" cy="178.1" r="5"/><circle cx="568.8" cy="28.5" r="5"/><circle cx="568.8" cy="33.0" r="5"/><circle cx="568.5" cy="43.0" r="5"/></g>
<g fill="#fff"><ellipse cx="634.8" cy="209.5" rx="1.1" ry="1.4"/><ellipse cx="591.6" cy="200.7" rx="0.9" ry="1.2"/><ellipse cx="619.8" cy="216.2" rx="0.6" ry="1.0"/><ellipse cx="569.8" cy="153.2" rx="1.3" ry="2.0"/><ellipse cx="642.7" cy="186.1" rx="0.6" ry="0.8"/><ellipse cx="615.6" cy="251.8" rx="1.5" ry="2.1"/><ellipse cx="600.7" cy="195.2" rx="1.2" ry="1.4"/><ellipse cx="579.1" cy="196.8" rx="0.6" ry="1.0"/><ellipse cx="576.6" cy="205.5" rx="0.7" ry="1.2"/><ellipse cx="577.2" cy="193.1" rx="1.2" ry="1.5"/><ellipse cx="627.4" cy="205.1" rx="0.6" ry="1.1"/><ellipse cx="625.7" cy="212.1" rx="1.3" ry="1.4"/><ellipse cx="618.7" cy="227.0" rx="1.0" ry="1.9"/><ellipse cx="587.6" cy="207.9" rx="1.2" ry="1.3"/></g>
<path d="M658.5,342.3L658.5,189.3L658.5,189.3L660.6,241.4L663.7,258.1L667.9,216.4L671.0,214.3L675.2,262.2L679.3,241.4L683.5,258.1L689.8,231.0L693.6,195.5L696.0,193.4L698.5,175.8L705.1,190.6L708.3,207.0L711.6,187.3L716.6,182.4L718.2,153.6L724.3,151.1L724.3,151.1L724.3,342.3Z" fill="#CD6600" stroke="#CD6600" stroke-width="6.0" stroke-linejoin="round"/>
<g fill="#CD6600"><circle cx="661.5" cy="243.4" r="5"/><circle cx="713.9" cy="186.7" r="5"/><circle cx="680.8" cy="243.4" r="5"/><circle cx="671.3" cy="211.3" r="5"/><circle cx="692.3" cy="209.3" r="5"/><circle cx="684.5" cy="251.9" r="5"/><circle cx="689.1" cy="230.5" r="5"/><circle cx="670.0" cy="209.8" r="5"/><circle cx="684.2" cy="252.3" r="5"/><circle cx="701.6" cy="182.4" r="5"/><circle cx="685.7" cy="243.7" r="5"/><circle cx="722.2" cy="140.7" r="5"/><circle cx="697.5" cy="183.2" r="5"/><circle cx="664.5" cy="239.5" r="5"/><circle cx="706.4" cy="191.5" r="5"/><circle cx="682.2" cy="250.6" r="5"/><circle cx="724.3" cy="137.3" r="5"/><circle cx="699.8" cy="179.0" r="5"/><circle cx="688.5" cy="228.6" r="5"/><circle cx="685.1" cy="248.0" r="5"/><circle cx="699.8" cy="170.6" r="5"/><circle cx="713.2" cy="186.2" r="5"/><circle cx="660.6" cy="242.2" r="5"/><circle cx="688.1" cy="236.2" r="5"/><circle cx="713.8" cy="177.3" r="5"/><circle cx="663.3" cy="249.6" r="5"/><circle cx="713.5" cy="178.3" r="5"/><circle cx="697.8" cy="180.9" r="5"/><circle cx="716.1" cy="177.4" r="5"/><circle cx="705.2" cy="182.3" r="5"/><circle cx="683.1" cy="258.2" r="5"/><circle cx="696.7" cy="183.7" r="5"/><circle cx="673.6" cy="239.8" r="5"/><circle cx="721.3" cy="152.0" r="5"/><circle cx="700.1" cy="176.4" r="5"/><circle cx="690.9" cy="221.4" r="5"/><circle cx="677.1" cy="248.2" r="5"/><circle cx="712.2" cy="186.0" r="5"/><circle cx="666.2" cy="227.5" r="5"/><circle cx="710.9" cy="192.4" r="5"/><circle cx="698.3" cy="168.5" r="5"/><circle cx="718.3" cy="149.5" r="5"/><circle cx="691.6" cy="211.6" r="5"/><circle cx="672.9" cy="236.6" r="5"/><circle cx="672.3" cy="225.8" r="5"/><circle cx="684.2" cy="253.4" r="5"/><circle cx="686.8" cy="242.6" r="5"/><circle cx="670.2" cy="216.6" r="5"/><circle cx="725.6" cy="148.9" r="5"/><circle cx="667.4" cy="218.3" r="5"/><circle cx="711.9" cy="188.2" r="5"/><circle cx="699.5" cy="178.2" r="5"/><circle cx="694.4" cy="196.7" r="5"/><circle cx="662.7" cy="241.7" r="5"/><circle cx="717.1" cy="171.5" r="5"/><circle cx="697.5" cy="183.2" r="5"/><circle cx="711.4" cy="188.3" r="5"/><circle cx="722.3" cy="141.3" r="5"/><circle cx="714.0" cy="174.0" r="5"/><circle cx="677.1" cy="254.5" r="5"/><circle cx="673.6" cy="245.5" r="5"/><circle cx="666.0" cy="237.3" r="5"/><circle cx="696.9" cy="179.9" r="5"/><circle cx="690.4" cy="213.8" r="5"/><circle cx="719.9" cy="154.3" r="5"/><circle cx="699.6" cy="177.9" r="5"/><circle cx="668.3" cy="205.1" r="5"/><circle cx="677.3" cy="249.9" r="5"/><circle cx="702.3" cy="173.5" r="5"/><circle cx="704.2" cy="188.5" r="5"/><circle cx="689.8" cy="232.1" r="5"/><circle cx="723.6" cy="135.6" r="5"/><circle cx="675.0" cy="261.8" r="5"/><circle cx="677.2" cy="252.1" r="5"/><circle cx="719.4" cy="137.8" r="5"/><circle cx="715.2" cy="185.5" r="5"/><circle cx="711.9" cy="183.5" r="5"/><circle cx="702.7" cy="174.3" r="5"/><circle cx="664.1" cy="255.0" r="5"/><circle cx="709.8" cy="187.7" r="5"/><circle cx="704.7" cy="190.2" r="5"/><circle cx="699.1" cy="172.9" r="5"/><circle cx="667.4" cy="221.5" r="5"/><circle cx="677.3" cy="253.1" r="5"/><circle cx="691.9" cy="211.9" r="5"/><circle cx="676.1" cy="259.0" r="5"/><circle cx="704.8" cy="191.8" r="5"/><circle cx="707.3" cy="203.0" r="5"/><circle cx="662.9" cy="243.7" r="5"/><circle cx="655.7" cy="148.1" r="5"/><circle cx="657.4" cy="161.2" r="5"/><circle cx="658.2" cy="182.6" r="5"/><circle cx="659.0" cy="195.7" r="5"/><circle cx="671.0" cy="146.9" r="5"/><circle cx="671.0" cy="153.8" r="5"/><circle cx="671.0" cy="173.5" r="5"/><circle cx="670.5" cy="181.8" r="5"/><circle cx="687.0" cy="191.6" r="5"/><circle cx="670.5" cy="208.1" r="5"/><circle cx="679.6" cy="208.9" r="5"/><circle cx="700.1" cy="165.3" r="5"/><circle cx="703.4" cy="172.7" r="5"/><circle cx="698.5" cy="182.6" r="5"/><circle cx="720.2" cy="77.4" r="5"/><circle cx="720.2" cy="82.3" r="5"/><circle cx="722.8" cy="111.9" r="5"/><circle cx="724.8" cy="124.2" r="5"/><circle cx="723.1" cy="138.2" r="5"/><circle cx="711.6" cy="179.3" r="5"/><circle cx="671.0" cy="171.9" r="5"/><circle cx="671.0" cy="181.3" r="5"/><circle cx="658.5" cy="182.3" r="5"/><circle cx="687.3" cy="191.3" r="5"/><circle cx="679.3" cy="210.5" r="5"/><circle cx="671.0" cy="209.4" r="5"/></g>
<g fill="#fff"><ellipse cx="674.7" cy="267.0" rx="1.4" ry="2.5"/><ellipse cx="669.9" cy="220.5" rx="0.7" ry="1.3"/><ellipse cx="711.9" cy="198.8" rx="1.0" ry="1.3"/><ellipse cx="710.7" cy="199.8" rx="1.2" ry="1.3"/><ellipse cx="674.8" cy="259.0" rx="1.2" ry="1.9"/><ellipse cx="670.2" cy="224.6" rx="0.8" ry="1.2"/><ellipse cx="670.8" cy="218.1" rx="1.4" ry="1.8"/><ellipse cx="671.5" cy="226.3" rx="0.9" ry="1.6"/><ellipse cx="668.3" cy="226.9" rx="0.7" ry="1.2"/><ellipse cx="701.5" cy="187.9" rx="1.0" ry="1.3"/></g>
<path d="M730.3,342.3L730.3,140.8L730.3,140.8L733.0,151.1L737.9,182.4L740.8,199.7L745.0,220.5L747.1,249.7L751.3,256.0L755.4,241.4L759.6,226.8L763.8,212.2L769.2,202.1L770.0,197.6L775.7,188.9L780.7,175.8L787.2,182.4L792.2,166.4L800.4,163.9L800.4,163.9L800.4,342.3Z" fill="#00BFFF" stroke="#00BFFF" stroke-width="6.0" stroke-linejoin="round"/>
<g fill="#00BFFF"><circle cx="750.2" cy="255.4" r="5"/><circle cx="757.7" cy="222.6" r="5"/><circle cx="801.8" cy="151.6" r="5"/><circle cx="739.1" cy="189.7" r="5"/><circle cx="794.7" cy="167.4" r="5"/><circle cx="782.9" cy="178.4" r="5"/><circle cx="800.4" cy="165.8" r="5"/><circle cx="788.5" cy="178.4" r="5"/><circle cx="742.1" cy="207.7" r="5"/><circle cx="790.2" cy="171.0" r="5"/><circle cx="745.2" cy="223.0" r="5"/><circle cx="795.8" cy="166.0" r="5"/><circle cx="772.1" cy="195.8" r="5"/><circle cx="744.8" cy="215.0" r="5"/><circle cx="781.8" cy="178.0" r="5"/><circle cx="737.8" cy="183.1" r="5"/><circle cx="774.7" cy="189.5" r="5"/><circle cx="751.4" cy="256.6" r="5"/><circle cx="774.9" cy="186.6" r="5"/><circle cx="788.8" cy="175.3" r="5"/><circle cx="746.4" cy="241.3" r="5"/><circle cx="783.3" cy="178.1" r="5"/><circle cx="782.5" cy="179.4" r="5"/><circle cx="788.7" cy="177.6" r="5"/><circle cx="790.9" cy="163.2" r="5"/><circle cx="766.6" cy="208.8" r="5"/><circle cx="795.7" cy="164.0" r="5"/><circle cx="793.0" cy="166.6" r="5"/><circle cx="745.2" cy="217.8" r="5"/><circle cx="757.9" cy="234.1" r="5"/><circle cx="758.1" cy="229.9" r="5"/><circle cx="732.6" cy="144.9" r="5"/><circle cx="763.3" cy="212.5" r="5"/><circle cx="740.7" cy="195.2" r="5"/><circle cx="789.1" cy="169.0" r="5"/><circle cx="754.6" cy="240.6" r="5"/><circle cx="758.8" cy="225.2" r="5"/><circle cx="736.6" cy="165.0" r="5"/><circle cx="798.7" cy="162.7" r="5"/><circle cx="768.0" cy="202.8" r="5"/><circle cx="769.7" cy="201.2" r="5"/><circle cx="799.6" cy="164.7" r="5"/><circle cx="745.0" cy="221.9" r="5"/><circle cx="749.7" cy="248.0" r="5"/><circle cx="734.4" cy="160.3" r="5"/><circle cx="780.9" cy="177.1" r="5"/><circle cx="733.5" cy="148.7" r="5"/><circle cx="772.4" cy="192.6" r="5"/><circle cx="781.2" cy="177.8" r="5"/><circle cx="792.8" cy="161.9" r="5"/><circle cx="735.4" cy="166.4" r="5"/><circle cx="766.7" cy="205.7" r="5"/><circle cx="751.8" cy="255.7" r="5"/><circle cx="760.5" cy="224.9" r="5"/><circle cx="773.5" cy="185.5" r="5"/><circle cx="742.5" cy="206.4" r="5"/><circle cx="784.3" cy="180.6" r="5"/><circle cx="789.8" cy="163.4" r="5"/><circle cx="759.4" cy="227.2" r="5"/><circle cx="790.7" cy="169.3" r="5"/><circle cx="759.8" cy="215.2" r="5"/><circle cx="786.4" cy="181.6" r="5"/><circle cx="749.0" cy="252.8" r="5"/><circle cx="762.6" cy="205.3" r="5"/><circle cx="788.3" cy="169.9" r="5"/><circle cx="789.0" cy="169.9" r="5"/><circle cx="736.0" cy="167.1" r="5"/><circle cx="799.0" cy="152.2" r="5"/><circle cx="749.7" cy="253.1" r="5"/><circle cx="776.3" cy="187.3" r="5"/><circle cx="769.2" cy="203.3" r="5"/><circle cx="762.4" cy="215.7" r="5"/><circle cx="733.7" cy="156.2" r="5"/><circle cx="799.8" cy="157.7" r="5"/><circle cx="797.5" cy="161.4" r="5"/><circle cx="788.6" cy="170.0" r="5"/><circle cx="793.9" cy="167.7" r="5"/><circle cx="777.0" cy="186.3" r="5"/><circle cx="779.5" cy="179.4" r="5"/><circle cx="770.0" cy="188.0" r="5"/><circle cx="775.5" cy="189.9" r="5"/><circle cx="768.5" cy="202.7" r="5"/><circle cx="798.5" cy="164.6" r="5"/><circle cx="753.6" cy="245.3" r="5"/><circle cx="740.7" cy="196.6" r="5"/><circle cx="798.8" cy="162.4" r="5"/><circle cx="751.0" cy="254.7" r="5"/><circle cx="769.5" cy="201.8" r="5"/><circle cx="740.9" cy="201.5" r="5"/><circle cx="752.7" cy="250.5" r="5"/><circle cx="752.4" cy="252.9" r="5"/><circle cx="738.4" cy="183.7" r="5"/><circle cx="790.7" cy="168.4" r="5"/><circle cx="772.0" cy="191.9" r="5"/><circle cx="746.3" cy="235.0" r="5"/><circle cx="730.9" cy="102.0" r="5"/><circle cx="729.7" cy="125.1" r="5"/><circle cx="729.7" cy="131.6" r="5"/><circle cx="734.6" cy="138.2" r="5"/><circle cx="729.7" cy="141.5" r="5"/><circle cx="735.5" cy="153.8" r="5"/><circle cx="733.0" cy="164.5" r="5"/><circle cx="734.6" cy="174.4" r="5"/><circle cx="736.3" cy="184.2" r="5"/><circle cx="737.9" cy="194.1" r="5"/><circle cx="739.6" cy="204.0" r="5"/><circle cx="781.5" cy="95.1" r="5"/><circle cx="796.3" cy="121.8" r="5"/><circle cx="796.3" cy="130.0" r="5"/><circle cx="796.3" cy="138.2" r="5"/><circle cx="784.8" cy="143.1" r="5"/><circle cx="784.8" cy="153.0" r="5"/><circle cx="782.3" cy="164.5" r="5"/><circle cx="779.0" cy="167.8" r="5"/><circle cx="775.7" cy="182.6" r="5"/><circle cx="770.0" cy="191.6" r="5"/><circle cx="765.0" cy="205.6" r="5"/><circle cx="800.4" cy="156.3" r="5"/><circle cx="795.5" cy="157.9" r="5"/><circle cx="748.1" cy="221.9" r="5"/><circle cx="748.1" cy="231.3" r="5"/><circle cx="748.1" cy="241.7" r="5"/><circle cx="782.5" cy="164.6" r="5"/><circle cx="769.0" cy="190.7" r="5"/></g>
<g fill="#fff"><ellipse cx="762.8" cy="222.0" rx="1.2" ry="1.6"/><ellipse cx="753.2" cy="252.6" rx="0.8" ry="1.2"/><ellipse cx="757.9" cy="239.8" rx="0.6" ry="0.8"/><ellipse cx="788.5" cy="184.8" rx="1.1" ry="1.6"/><ellipse cx="751.6" cy="265.8" rx="0.9" ry="1.5"/><ellipse cx="743.5" cy="214.4" rx="1.4" ry="1.9"/><ellipse cx="737.3" cy="188.2" rx="1.0" ry="1.7"/><ellipse cx="740.3" cy="199.7" rx="1.5" ry="2.4"/><ellipse cx="743.2" cy="215.9" rx="0.9" ry="1.5"/><ellipse cx="772.8" cy="204.7" rx="1.3" ry="2.0"/><ellipse cx="780.7" cy="196.3" rx="1.3" ry="1.8"/></g>
<path d="M806.4,342.3L806.4,198.8L806.4,198.8L809.9,192.2L821.4,188.9L829.6,190.6L832.6,226.8L836.7,220.5L837.8,207.0L842.7,195.5L849.3,190.6L855.9,182.4L862.5,174.1L869.0,166.4L874.0,163.9L875.5,174.1L875.5,174.1L875.5,342.3Z" fill="#FFA500" stroke="#FFA500" stroke-width="6.0" stroke-linejoin="round"/>
<g fill="#FFA500"><circle cx="862.2" cy="170.9" r="5"/><circle cx="871.1" cy="166.6" r="5"/><circle cx="868.1" cy="169.3" r="5"/><circle cx="860.9" cy="174.1" r="5"/><circle cx="842.6" cy="184.9" r="5"/><circle cx="847.6" cy="191.4" r="5"/><circle cx="862.2" cy="167.2" r="5"/><circle cx="850.1" cy="189.5" r="5"/><circle cx="839.4" cy="202.5" r="5"/><circle cx="858.0" cy="180.2" r="5"/><circle cx="835.2" cy="221.2" r="5"/><circle cx="834.8" cy="223.7" r="5"/><circle cx="862.4" cy="167.7" r="5"/><circle cx="842.7" cy="195.0" r="5"/><circle cx="821.0" cy="189.4" r="5"/><circle cx="818.3" cy="187.9" r="5"/><circle cx="848.3" cy="192.9" r="5"/><circle cx="871.5" cy="165.1" r="5"/><circle cx="866.3" cy="163.2" r="5"/><circle cx="874.2" cy="165.9" r="5"/><circle cx="837.7" cy="200.1" r="5"/><circle cx="809.1" cy="195.4" r="5"/><circle cx="847.2" cy="191.1" r="5"/><circle cx="871.5" cy="159.3" r="5"/><circle cx="845.3" cy="182.6" r="5"/><circle cx="843.9" cy="193.4" r="5"/><circle cx="855.4" cy="182.7" r="5"/><circle cx="832.9" cy="224.2" r="5"/><circle cx="832.5" cy="214.8" r="5"/><circle cx="854.8" cy="182.4" r="5"/><circle cx="815.2" cy="190.6" r="5"/><circle cx="835.9" cy="220.1" r="5"/><circle cx="847.8" cy="184.2" r="5"/><circle cx="874.6" cy="166.2" r="5"/><circle cx="838.6" cy="202.8" r="5"/><circle cx="876.7" cy="174.3" r="5"/><circle cx="844.8" cy="188.4" r="5"/><circle cx="820.1" cy="189.6" r="5"/><circle cx="875.5" cy="168.3" r="5"/><circle cx="843.6" cy="196.4" r="5"/><circle cx="869.8" cy="162.1" r="5"/><circle cx="864.7" cy="160.4" r="5"/><circle cx="869.3" cy="165.6" r="5"/><circle cx="819.1" cy="190.0" r="5"/><circle cx="843.5" cy="193.8" r="5"/><circle cx="821.3" cy="190.1" r="5"/><circle cx="851.6" cy="185.5" r="5"/><circle cx="832.6" cy="215.7" r="5"/><circle cx="852.1" cy="188.9" r="5"/><circle cx="836.6" cy="215.7" r="5"/><circle cx="829.4" cy="187.3" r="5"/><circle cx="808.7" cy="194.9" r="5"/><circle cx="866.2" cy="167.5" r="5"/><circle cx="854.2" cy="185.4" r="5"/><circle cx="842.6" cy="194.3" r="5"/><circle cx="826.6" cy="187.3" r="5"/><circle cx="844.9" cy="182.9" r="5"/><circle cx="847.8" cy="191.3" r="5"/><circle cx="816.7" cy="191.5" r="5"/><circle cx="860.5" cy="178.1" r="5"/><circle cx="815.3" cy="191.8" r="5"/><circle cx="844.2" cy="188.6" r="5"/><circle cx="850.5" cy="183.8" r="5"/><circle cx="812.7" cy="193.4" r="5"/><circle cx="861.3" cy="175.9" r="5"/><circle cx="857.5" cy="180.4" r="5"/><circle cx="820.0" cy="189.9" r="5"/><circle cx="815.2" cy="182.2" r="5"/><circle cx="848.3" cy="191.4" r="5"/><circle cx="839.3" cy="203.4" r="5"/><circle cx="812.2" cy="183.6" r="5"/><circle cx="848.4" cy="180.3" r="5"/><circle cx="838.6" cy="202.9" r="5"/><circle cx="825.5" cy="191.6" r="5"/><circle cx="872.3" cy="156.4" r="5"/><circle cx="830.0" cy="187.2" r="5"/><circle cx="864.4" cy="172.1" r="5"/><circle cx="849.7" cy="179.1" r="5"/><circle cx="842.4" cy="185.3" r="5"/><circle cx="825.1" cy="189.5" r="5"/><circle cx="857.7" cy="181.0" r="5"/><circle cx="829.6" cy="183.5" r="5"/><circle cx="841.6" cy="193.0" r="5"/><circle cx="825.1" cy="190.8" r="5"/><circle cx="833.0" cy="227.2" r="5"/><circle cx="875.0" cy="171.2" r="5"/><circle cx="846.9" cy="193.8" r="5"/><circle cx="845.0" cy="193.6" r="5"/><circle cx="836.1" cy="223.3" r="5"/><circle cx="816.9" cy="184.4" r="5"/><circle cx="832.5" cy="226.6" r="5"/><circle cx="821.5" cy="189.5" r="5"/><circle cx="824.7" cy="191.4" r="5"/><circle cx="837.4" cy="122.6" r="5"/><circle cx="818.5" cy="129.2" r="5"/><circle cx="818.5" cy="143.1" r="5"/><circle cx="818.5" cy="153.0" r="5"/><circle cx="809.4" cy="171.9" r="5"/><circle cx="820.1" cy="165.3" r="5"/><circle cx="828.3" cy="154.6" r="5"/><circle cx="829.2" cy="164.5" r="5"/><circle cx="829.2" cy="174.4" r="5"/><circle cx="813.5" cy="185.9" r="5"/><circle cx="820.1" cy="185.9" r="5"/><circle cx="828.3" cy="184.2" r="5"/><circle cx="836.5" cy="187.5" r="5"/><circle cx="850.1" cy="85.3" r="5"/><circle cx="873.5" cy="102.0" r="5"/><circle cx="837.5" cy="122.6" r="5"/><circle cx="847.7" cy="129.2" r="5"/><circle cx="874.8" cy="125.9" r="5"/><circle cx="818.1" cy="129.2" r="5"/><circle cx="818.1" cy="133.3" r="5"/><circle cx="818.1" cy="144.8" r="5"/><circle cx="818.1" cy="153.0" r="5"/><circle cx="828.8" cy="154.6" r="5"/><circle cx="828.8" cy="166.1" r="5"/><circle cx="821.4" cy="165.3" r="5"/><circle cx="809.0" cy="171.9" r="5"/><circle cx="846.8" cy="151.4" r="5"/><circle cx="859.2" cy="146.1" r="5"/><circle cx="858.3" cy="157.9" r="5"/><circle cx="846.8" cy="168.6" r="5"/><circle cx="872.3" cy="138.2" r="5"/><circle cx="872.3" cy="149.7" r="5"/></g>
<g fill="#fff"><ellipse cx="851.3" cy="194.7" rx="0.7" ry="1.2"/><ellipse cx="815.2" cy="195.5" rx="1.4" ry="1.5"/><ellipse cx="837.4" cy="221.9" rx="1.3" ry="1.5"/><ellipse cx="831.7" cy="224.1" rx="0.9" ry="1.7"/><ellipse cx="822.5" cy="204.9" rx="1.1" ry="1.3"/><ellipse cx="838.0" cy="209.0" rx="1.2" ry="1.5"/><ellipse cx="866.2" cy="188.8" rx="0.9" ry="1.1"/><ellipse cx="847.8" cy="195.6" rx="1.4" ry="1.5"/><ellipse cx="841.8" cy="204.2" rx="0.8" ry="1.4"/><ellipse cx="833.7" cy="232.7" rx="1.1" ry="1.4"/><ellipse cx="834.0" cy="226.5" rx="0.8" ry="1.3"/></g>
<path d="M881.5,342.3L881.5,182.4L881.5,182.4L885.5,179.1L888.9,199.7L890.4,198.8L893.0,226.8L897.2,241.4L901.4,235.1L907.6,220.5L913.9,214.3L920.1,195.5L921.6,198.8L924.9,166.4L929.8,153.6L934.8,153.6L938.1,182.4L941.5,175.8L941.5,175.8L941.5,342.3Z" fill="#228B22" stroke="#228B22" stroke-width="6.0" stroke-linejoin="round"/>
<g fill="#228B22"><circle cx="902.6" cy="229.4" r="5"/><circle cx="890.0" cy="197.3" r="5"/><circle cx="905.0" cy="225.5" r="5"/><circle cx="901.2" cy="237.1" r="5"/><circle cx="902.0" cy="234.4" r="5"/><circle cx="891.0" cy="201.6" r="5"/><circle cx="900.3" cy="236.4" r="5"/><circle cx="937.6" cy="172.8" r="5"/><circle cx="936.0" cy="154.0" r="5"/><circle cx="891.4" cy="209.6" r="5"/><circle cx="885.3" cy="176.1" r="5"/><circle cx="923.0" cy="185.3" r="5"/><circle cx="908.0" cy="217.3" r="5"/><circle cx="925.1" cy="166.5" r="5"/><circle cx="933.9" cy="152.1" r="5"/><circle cx="920.9" cy="198.3" r="5"/><circle cx="890.4" cy="189.9" r="5"/><circle cx="927.2" cy="154.5" r="5"/><circle cx="885.9" cy="183.6" r="5"/><circle cx="893.1" cy="228.2" r="5"/><circle cx="901.5" cy="234.6" r="5"/><circle cx="885.8" cy="181.6" r="5"/><circle cx="921.5" cy="199.6" r="5"/><circle cx="933.4" cy="148.7" r="5"/><circle cx="926.1" cy="163.6" r="5"/><circle cx="909.4" cy="215.6" r="5"/><circle cx="904.3" cy="230.4" r="5"/><circle cx="933.1" cy="143.3" r="5"/><circle cx="900.5" cy="238.2" r="5"/><circle cx="934.3" cy="147.9" r="5"/><circle cx="886.3" cy="185.0" r="5"/><circle cx="890.1" cy="193.9" r="5"/><circle cx="896.0" cy="228.2" r="5"/><circle cx="928.1" cy="159.5" r="5"/><circle cx="924.8" cy="166.7" r="5"/><circle cx="928.0" cy="148.2" r="5"/><circle cx="900.2" cy="238.4" r="5"/><circle cx="939.8" cy="178.5" r="5"/><circle cx="938.8" cy="177.6" r="5"/><circle cx="927.4" cy="150.1" r="5"/><circle cx="920.9" cy="196.4" r="5"/><circle cx="886.7" cy="183.4" r="5"/><circle cx="909.0" cy="217.9" r="5"/><circle cx="938.7" cy="182.5" r="5"/><circle cx="928.8" cy="157.9" r="5"/><circle cx="925.3" cy="158.9" r="5"/><circle cx="899.0" cy="237.1" r="5"/><circle cx="941.2" cy="173.8" r="5"/><circle cx="915.9" cy="209.0" r="5"/><circle cx="887.0" cy="188.6" r="5"/><circle cx="908.0" cy="221.2" r="5"/><circle cx="902.0" cy="235.0" r="5"/><circle cx="925.6" cy="160.8" r="5"/><circle cx="897.7" cy="241.5" r="5"/><circle cx="914.2" cy="212.8" r="5"/><circle cx="939.2" cy="180.3" r="5"/><circle cx="901.3" cy="227.5" r="5"/><circle cx="891.9" cy="213.5" r="5"/><circle cx="903.3" cy="224.9" r="5"/><circle cx="916.1" cy="203.1" r="5"/><circle cx="893.6" cy="225.8" r="5"/><circle cx="919.1" cy="197.8" r="5"/><circle cx="929.1" cy="143.9" r="5"/><circle cx="890.3" cy="199.3" r="5"/><circle cx="904.9" cy="227.7" r="5"/><circle cx="887.1" cy="189.5" r="5"/><circle cx="895.2" cy="231.1" r="5"/><circle cx="910.2" cy="219.5" r="5"/><circle cx="902.8" cy="230.9" r="5"/><circle cx="905.1" cy="227.6" r="5"/><circle cx="887.8" cy="195.1" r="5"/><circle cx="942.5" cy="171.5" r="5"/><circle cx="888.5" cy="193.8" r="5"/><circle cx="941.8" cy="174.1" r="5"/><circle cx="890.0" cy="198.0" r="5"/><circle cx="909.3" cy="219.9" r="5"/><circle cx="915.8" cy="210.4" r="5"/><circle cx="938.2" cy="179.4" r="5"/><circle cx="920.9" cy="186.8" r="5"/><circle cx="922.3" cy="192.5" r="5"/><circle cx="898.1" cy="241.3" r="5"/><circle cx="885.1" cy="174.6" r="5"/><circle cx="886.3" cy="129.2" r="5"/><circle cx="886.3" cy="133.3" r="5"/><circle cx="886.3" cy="145.1" r="5"/><circle cx="886.3" cy="157.1" r="5"/><circle cx="886.3" cy="166.1" r="5"/><circle cx="885.5" cy="174.4" r="5"/><circle cx="912.6" cy="180.9" r="5"/><circle cx="914.2" cy="206.4" r="5"/><circle cx="929.8" cy="91.4" r="5"/><circle cx="943.0" cy="108.6" r="5"/><circle cx="942.2" cy="116.8" r="5"/><circle cx="942.2" cy="125.1" r="5"/><circle cx="942.2" cy="134.9" r="5"/><circle cx="929.8" cy="128.3" r="5"/><circle cx="929.8" cy="136.6" r="5"/><circle cx="941.4" cy="146.4" r="5"/><circle cx="942.2" cy="151.4" r="5"/><circle cx="928.2" cy="157.9" r="5"/><circle cx="943.0" cy="171.1" r="5"/><circle cx="912.8" cy="180.9" r="5"/><circle cx="914.9" cy="207.3" r="5"/><circle cx="894.1" cy="217.8" r="5"/><circle cx="902.4" cy="229.2" r="5"/></g>
<g fill="#fff"><ellipse cx="929.8" cy="164.5" rx="0.8" ry="1.2"/><ellipse cx="930.2" cy="194.2" rx="0.8" ry="1.3"/><ellipse cx="929.3" cy="186.2" rx="0.9" ry="1.0"/><ellipse cx="929.1" cy="167.5" rx="0.9" ry="1.4"/><ellipse cx="904.4" cy="237.3" rx="0.8" ry="0.8"/><ellipse cx="915.1" cy="217.8" rx="1.3" ry="2.2"/><ellipse cx="933.4" cy="195.1" rx="1.0" ry="1.5"/><ellipse cx="893.0" cy="230.6" rx="1.1" ry="1.2"/><ellipse cx="921.7" cy="201.2" rx="1.0" ry="1.9"/></g>
<path d="M947.5,342.3L947.5,182.4L947.5,182.4L951.2,182.4L954.5,198.8L957.6,199.7L961.8,241.4L963.9,256.0L968.1,237.2L972.2,226.8L978.5,210.1L986.8,205.9L990.7,200.4L997.2,190.6L1003.8,179.1L1008.5,179.1L1008.5,179.1L1008.5,342.3Z" fill="#CD5555" stroke="#CD5555" stroke-width="6.0" stroke-linejoin="round"/>
<g fill="#CD5555"><circle cx="954.6" cy="200.6" r="5"/><circle cx="974.6" cy="221.7" r="5"/><circle cx="990.7" cy="202.4" r="5"/><circle cx="997.4" cy="183.6" r="5"/><circle cx="994.4" cy="194.4" r="5"/><circle cx="965.6" cy="245.3" r="5"/><circle cx="978.8" cy="209.5" r="5"/><circle cx="968.8" cy="234.8" r="5"/><circle cx="987.5" cy="199.2" r="5"/><circle cx="1001.0" cy="185.1" r="5"/><circle cx="966.4" cy="244.3" r="5"/><circle cx="981.6" cy="208.6" r="5"/><circle cx="960.6" cy="231.2" r="5"/><circle cx="968.0" cy="237.0" r="5"/><circle cx="1004.9" cy="170.3" r="5"/><circle cx="998.8" cy="176.8" r="5"/><circle cx="1004.3" cy="176.7" r="5"/><circle cx="995.7" cy="194.6" r="5"/><circle cx="988.1" cy="202.0" r="5"/><circle cx="966.4" cy="242.8" r="5"/><circle cx="1003.8" cy="178.1" r="5"/><circle cx="986.4" cy="206.6" r="5"/><circle cx="969.1" cy="227.0" r="5"/><circle cx="951.1" cy="183.4" r="5"/><circle cx="988.2" cy="203.3" r="5"/><circle cx="954.4" cy="195.2" r="5"/><circle cx="970.7" cy="228.7" r="5"/><circle cx="973.2" cy="222.7" r="5"/><circle cx="981.7" cy="208.2" r="5"/><circle cx="956.0" cy="200.3" r="5"/><circle cx="1000.2" cy="183.8" r="5"/><circle cx="955.9" cy="192.3" r="5"/><circle cx="963.9" cy="257.3" r="5"/><circle cx="979.8" cy="210.2" r="5"/><circle cx="977.4" cy="211.4" r="5"/><circle cx="962.4" cy="243.7" r="5"/><circle cx="955.9" cy="198.0" r="5"/><circle cx="983.0" cy="209.5" r="5"/><circle cx="972.8" cy="227.1" r="5"/><circle cx="974.6" cy="213.7" r="5"/><circle cx="980.9" cy="205.3" r="5"/><circle cx="992.6" cy="198.9" r="5"/><circle cx="1006.0" cy="175.3" r="5"/><circle cx="955.3" cy="193.1" r="5"/><circle cx="971.8" cy="228.9" r="5"/><circle cx="1004.2" cy="177.4" r="5"/><circle cx="993.7" cy="197.3" r="5"/><circle cx="993.7" cy="197.6" r="5"/><circle cx="963.0" cy="249.6" r="5"/><circle cx="950.4" cy="180.3" r="5"/><circle cx="961.6" cy="240.1" r="5"/><circle cx="989.8" cy="201.2" r="5"/><circle cx="1000.2" cy="183.1" r="5"/><circle cx="999.2" cy="185.4" r="5"/><circle cx="1001.8" cy="175.4" r="5"/><circle cx="959.1" cy="209.8" r="5"/><circle cx="969.0" cy="230.5" r="5"/><circle cx="988.3" cy="198.0" r="5"/><circle cx="956.5" cy="199.3" r="5"/><circle cx="991.5" cy="188.2" r="5"/><circle cx="990.6" cy="202.3" r="5"/><circle cx="983.9" cy="208.9" r="5"/><circle cx="980.8" cy="203.7" r="5"/><circle cx="955.9" cy="189.5" r="5"/><circle cx="988.0" cy="205.0" r="5"/><circle cx="960.5" cy="227.6" r="5"/><circle cx="997.3" cy="188.6" r="5"/><circle cx="956.0" cy="201.1" r="5"/><circle cx="955.8" cy="193.9" r="5"/><circle cx="960.1" cy="222.2" r="5"/><circle cx="966.0" cy="243.2" r="5"/><circle cx="971.2" cy="230.7" r="5"/><circle cx="999.4" cy="185.3" r="5"/><circle cx="988.8" cy="197.7" r="5"/><circle cx="1003.6" cy="181.4" r="5"/><circle cx="969.0" cy="236.1" r="5"/><circle cx="978.1" cy="203.9" r="5"/><circle cx="995.1" cy="195.6" r="5"/><circle cx="959.9" cy="216.4" r="5"/><circle cx="988.2" cy="203.7" r="5"/><circle cx="976.6" cy="216.3" r="5"/><circle cx="997.7" cy="189.6" r="5"/><circle cx="999.3" cy="184.8" r="5"/><circle cx="948.8" cy="56.0" r="5"/><circle cx="948.8" cy="80.7" r="5"/><circle cx="948.8" cy="86.4" r="5"/><circle cx="948.8" cy="98.8" r="5"/><circle cx="948.8" cy="116.0" r="5"/><circle cx="948.8" cy="125.1" r="5"/><circle cx="948.8" cy="146.4" r="5"/><circle cx="947.9" cy="156.3" r="5"/><circle cx="946.3" cy="167.8" r="5"/><circle cx="958.6" cy="156.3" r="5"/><circle cx="958.6" cy="166.1" r="5"/><circle cx="957.8" cy="176.0" r="5"/><circle cx="960.3" cy="193.3" r="5"/><circle cx="960.3" cy="204.0" r="5"/><circle cx="976.7" cy="165.3" r="5"/><circle cx="980.8" cy="171.9" r="5"/><circle cx="976.7" cy="182.6" r="5"/><circle cx="977.5" cy="192.4" r="5"/><circle cx="974.2" cy="204.0" r="5"/><circle cx="980.8" cy="202.3" r="5"/><circle cx="997.2" cy="146.1" r="5"/><circle cx="1007.4" cy="142.0" r="5"/><circle cx="1006.8" cy="156.8" r="5"/><circle cx="997.2" cy="162.0" r="5"/><circle cx="1000.5" cy="167.8" r="5"/><circle cx="995.6" cy="172.7" r="5"/><circle cx="1007.9" cy="171.9" r="5"/><circle cx="989.0" cy="195.7" r="5"/><circle cx="960.8" cy="193.8" r="5"/><circle cx="959.7" cy="203.2" r="5"/><circle cx="975.4" cy="202.1" r="5"/><circle cx="982.7" cy="204.2" r="5"/></g>
<g fill="#fff"><ellipse cx="954.7" cy="203.1" rx="0.8" ry="1.4"/><ellipse cx="982.9" cy="209.3" rx="0.8" ry="1.0"/><ellipse cx="976.2" cy="222.9" rx="0.9" ry="1.3"/><ellipse cx="950.8" cy="195.5" rx="0.9" ry="0.9"/><ellipse cx="975.8" cy="228.3" rx="0.6" ry="0.7"/><ellipse cx="987.4" cy="208.9" rx="0.8" ry="1.2"/><ellipse cx="964.9" cy="258.1" rx="1.1" ry="2.0"/><ellipse cx="1005.1" cy="180.9" rx="1.1" ry="1.9"/><ellipse cx="998.5" cy="201.9" rx="1.2" ry="1.8"/><ellipse cx="970.5" cy="235.1" rx="1.3" ry="2.3"/></g></g>
<line x1="99.3" x2="1034.2" y1="48.0" y2="48.0" stroke="#FF0000" stroke-width="5" stroke-dasharray="15.4 5.3"/>
<rect x="96.4" y="16.5" width="946.7" height="338.4" fill="none" stroke="#666" stroke-width="1.8"/>
<text transform="translate(76.2,47.1) rotate(-90) scale(1,1.00)" text-anchor="middle" font-family="Liberation Sans, Arial, sans-serif" font-size="20.5" fill="#1c1c1c">5</text><text transform="translate(76.2,106.3) rotate(-90) scale(1,1.00)" text-anchor="middle" font-family="Liberation Sans, Arial, sans-serif" font-size="20.5" fill="#1c1c1c">4</text><text transform="translate(76.2,165.4) rotate(-90) scale(1,1.00)" text-anchor="middle" font-family="Liberation Sans, Arial, sans-serif" font-size="20.5" fill="#1c1c1c">3</text><text transform="translate(76.2,224.6) rotate(-90) scale(1,1.00)" text-anchor="middle" font-family="Liberation Sans, Arial, sans-serif" font-size="20.5" fill="#1c1c1c">2</text><text transform="translate(76.2,283.8) rotate(-90) scale(1,1.00)" text-anchor="middle" font-family="Liberation Sans, Arial, sans-serif" font-size="20.5" fill="#1c1c1c">1</text>
<text transform="translate(36.9,242.8) rotate(-90)" font-family="Liberation Sans, Arial, sans-serif" fill="#1c1c1c" font-size="26.5"><tspan x="-1.33" y="1.59" font-size="28.4">−</tspan><tspan x="17.60 24.67 41.39" y="0">log</tspan><tspan x="56.96" y="7.16" font-size="15.9">10</tspan><tspan x="73.88" y="0.79" font-size="31.3">(</tspan><tspan x="88.64" y="0" font-style="italic">p</tspan><tspan x="103.95" y="0.79" font-size="31.3">)</tspan></text>
<text x="196.4" y="384.5" text-anchor="middle" font-family="Liberation Sans, Arial, sans-serif" font-size="19.3" fill="#1c1c1c">1</text><text x="309.6" y="384.5" text-anchor="middle" font-family="Liberation Sans, Arial, sans-serif" font-size="19.3" fill="#1c1c1c">2</text><text x="417.0" y="384.5" text-anchor="middle" font-family="Liberation Sans, Arial, sans-serif" font-size="19.3" fill="#1c1c1c">3</text><text x="517.7" y="384.5" text-anchor="middle" font-family="Liberation Sans, Arial, sans-serif" font-size="19.3" fill="#1c1c1c">4</text><text x="608.0" y="384.5" text-anchor="middle" font-family="Liberation Sans, Arial, sans-serif" font-size="19.3" fill="#1c1c1c">5</text><text x="702.3" y="384.5" text-anchor="middle" font-family="Liberation Sans, Arial, sans-serif" font-size="19.3" fill="#1c1c1c">6</text><text x="772.0" y="384.5" text-anchor="middle" font-family="Liberation Sans, Arial, sans-serif" font-size="19.3" fill="#1c1c1c">7</text><text x="848.0" y="384.5" text-anchor="middle" font-family="Liberation Sans, Arial, sans-serif" font-size="19.3" fill="#1c1c1c">8</text><text x="917.6" y="384.5" text-anchor="middle" font-family="Liberation Sans, Arial, sans-serif" font-size="19.3" fill="#1c1c1c">9</text><text x="983.2" y="384.5" text-anchor="middle" font-family="Liberation Sans, Arial, sans-serif" font-size="19.3" fill="#1c1c1c">10</text>
<text x="4.0" y="52.3" font-family="Liberation Serif, Times New Roman, serif" font-size="62.0" fill="#000">a</text>
<g class="m"><path d="M130.5,723.8L130.5,559.1L130.5,559.1L130.7,521.4L133.1,511.1L138.1,490.9L143.0,508.6L146.3,529.1L152.9,531.7L157.8,526.5L161.1,550.9L164.4,567.4L164.4,585.8L174.2,587.4L177.5,602.2L182.5,617.0L185.7,630.2L189.0,613.7L192.3,597.3L197.3,567.4L197.3,589.1L202.2,550.9L208.8,550.9L215.3,542.7L221.9,550.9L225.2,575.6L228.5,583.8L231.8,534.5L235.1,497.5L241.6,500.8L248.2,494.2L254.8,492.5L255.0,508.6L255.0,508.6L255.0,723.8Z" fill="#CD6600" stroke="#CD6600" stroke-width="6.0" stroke-linejoin="round"/>
<g fill="#CD6600"><circle cx="248.9" cy="481.6" r="5"/><circle cx="170.2" cy="582.3" r="5"/><circle cx="224.2" cy="566.9" r="5"/><circle cx="211.3" cy="547.9" r="5"/><circle cx="200.8" cy="561.4" r="5"/><circle cx="140.0" cy="495.4" r="5"/><circle cx="172.6" cy="576.2" r="5"/><circle cx="192.2" cy="597.8" r="5"/><circle cx="162.7" cy="559.7" r="5"/><circle cx="175.8" cy="595.8" r="5"/><circle cx="133.4" cy="492.8" r="5"/><circle cx="188.7" cy="614.8" r="5"/><circle cx="203.0" cy="551.3" r="5"/><circle cx="153.4" cy="532.7" r="5"/><circle cx="169.9" cy="587.1" r="5"/><circle cx="222.6" cy="554.6" r="5"/><circle cx="248.7" cy="490.8" r="5"/><circle cx="246.7" cy="486.6" r="5"/><circle cx="142.4" cy="506.5" r="5"/><circle cx="204.5" cy="539.9" r="5"/><circle cx="176.8" cy="594.1" r="5"/><circle cx="185.6" cy="622.5" r="5"/><circle cx="140.9" cy="495.8" r="5"/><circle cx="244.0" cy="496.3" r="5"/><circle cx="164.4" cy="587.7" r="5"/><circle cx="152.9" cy="532.1" r="5"/><circle cx="219.8" cy="549.2" r="5"/><circle cx="182.0" cy="616.8" r="5"/><circle cx="207.3" cy="543.9" r="5"/><circle cx="212.9" cy="546.8" r="5"/><circle cx="223.5" cy="551.9" r="5"/><circle cx="207.0" cy="552.6" r="5"/><circle cx="232.9" cy="508.9" r="5"/><circle cx="174.8" cy="591.3" r="5"/><circle cx="155.8" cy="526.2" r="5"/><circle cx="241.1" cy="489.6" r="5"/><circle cx="246.9" cy="494.4" r="5"/><circle cx="173.0" cy="583.0" r="5"/><circle cx="213.0" cy="545.3" r="5"/><circle cx="216.7" cy="544.6" r="5"/><circle cx="139.6" cy="492.3" r="5"/><circle cx="138.1" cy="480.7" r="5"/><circle cx="174.0" cy="586.3" r="5"/><circle cx="206.6" cy="551.6" r="5"/><circle cx="190.0" cy="611.1" r="5"/><circle cx="247.2" cy="486.7" r="5"/><circle cx="255.0" cy="506.9" r="5"/><circle cx="208.6" cy="547.1" r="5"/><circle cx="173.3" cy="588.9" r="5"/><circle cx="151.9" cy="532.5" r="5"/><circle cx="227.6" cy="583.3" r="5"/><circle cx="233.4" cy="513.1" r="5"/><circle cx="199.3" cy="571.3" r="5"/><circle cx="201.3" cy="554.8" r="5"/><circle cx="207.1" cy="551.1" r="5"/><circle cx="224.4" cy="570.2" r="5"/><circle cx="220.7" cy="545.0" r="5"/><circle cx="228.7" cy="580.5" r="5"/><circle cx="228.3" cy="572.4" r="5"/><circle cx="188.7" cy="616.0" r="5"/><circle cx="197.4" cy="577.3" r="5"/><circle cx="148.9" cy="532.0" r="5"/><circle cx="191.5" cy="598.6" r="5"/><circle cx="228.5" cy="583.6" r="5"/><circle cx="255.2" cy="507.8" r="5"/><circle cx="226.3" cy="580.0" r="5"/><circle cx="136.0" cy="500.9" r="5"/><circle cx="140.0" cy="491.6" r="5"/><circle cx="201.4" cy="558.5" r="5"/><circle cx="249.0" cy="490.2" r="5"/><circle cx="151.0" cy="531.9" r="5"/><circle cx="224.0" cy="557.0" r="5"/><circle cx="152.6" cy="533.4" r="5"/><circle cx="229.0" cy="577.0" r="5"/><circle cx="254.3" cy="485.9" r="5"/><circle cx="211.4" cy="547.8" r="5"/><circle cx="231.8" cy="533.8" r="5"/><circle cx="172.7" cy="578.7" r="5"/><circle cx="145.9" cy="520.2" r="5"/><circle cx="140.6" cy="490.0" r="5"/><circle cx="182.3" cy="609.7" r="5"/><circle cx="139.9" cy="489.9" r="5"/><circle cx="183.3" cy="611.2" r="5"/><circle cx="249.7" cy="483.4" r="5"/><circle cx="160.3" cy="545.2" r="5"/><circle cx="165.0" cy="585.4" r="5"/><circle cx="161.2" cy="552.4" r="5"/><circle cx="226.6" cy="576.6" r="5"/><circle cx="169.5" cy="575.7" r="5"/><circle cx="159.4" cy="535.3" r="5"/><circle cx="151.9" cy="523.3" r="5"/><circle cx="240.3" cy="498.2" r="5"/><circle cx="225.7" cy="571.0" r="5"/><circle cx="167.5" cy="586.5" r="5"/><circle cx="192.7" cy="587.0" r="5"/><circle cx="152.5" cy="527.9" r="5"/><circle cx="206.6" cy="550.2" r="5"/><circle cx="204.3" cy="543.3" r="5"/><circle cx="158.5" cy="522.1" r="5"/><circle cx="177.2" cy="595.9" r="5"/><circle cx="239.6" cy="499.2" r="5"/><circle cx="239.6" cy="479.8" r="5"/><circle cx="169.4" cy="588.5" r="5"/><circle cx="146.3" cy="516.9" r="5"/><circle cx="133.7" cy="491.5" r="5"/><circle cx="151.2" cy="526.2" r="5"/><circle cx="144.6" cy="518.9" r="5"/><circle cx="217.2" cy="546.6" r="5"/><circle cx="174.6" cy="579.8" r="5"/><circle cx="221.3" cy="542.6" r="5"/><circle cx="254.0" cy="494.3" r="5"/><circle cx="161.6" cy="548.4" r="5"/><circle cx="218.0" cy="547.9" r="5"/><circle cx="195.1" cy="581.3" r="5"/><circle cx="185.9" cy="631.0" r="5"/><circle cx="135.0" cy="485.4" r="5"/><circle cx="171.7" cy="579.5" r="5"/><circle cx="147.4" cy="527.9" r="5"/><circle cx="149.3" cy="529.3" r="5"/><circle cx="154.7" cy="525.5" r="5"/><circle cx="150.8" cy="526.0" r="5"/><circle cx="194.6" cy="585.0" r="5"/><circle cx="176.3" cy="595.8" r="5"/><circle cx="246.4" cy="492.6" r="5"/><circle cx="159.2" cy="524.6" r="5"/><circle cx="242.0" cy="485.8" r="5"/><circle cx="166.3" cy="587.3" r="5"/><circle cx="165.3" cy="587.6" r="5"/><circle cx="137.9" cy="485.0" r="5"/><circle cx="183.1" cy="618.0" r="5"/><circle cx="177.5" cy="603.9" r="5"/><circle cx="217.8" cy="543.1" r="5"/><circle cx="200.0" cy="566.6" r="5"/><circle cx="218.1" cy="535.2" r="5"/><circle cx="240.9" cy="486.4" r="5"/><circle cx="182.0" cy="616.0" r="5"/><circle cx="184.5" cy="614.1" r="5"/><circle cx="180.5" cy="611.0" r="5"/><circle cx="183.3" cy="621.8" r="5"/><circle cx="256.3" cy="510.5" r="5"/><circle cx="207.9" cy="541.2" r="5"/><circle cx="164.1" cy="563.6" r="5"/><circle cx="179.2" cy="608.1" r="5"/><circle cx="157.1" cy="528.5" r="5"/><circle cx="237.0" cy="481.2" r="5"/><circle cx="245.2" cy="498.6" r="5"/><circle cx="218.6" cy="547.0" r="5"/><circle cx="212.6" cy="544.5" r="5"/><circle cx="171.6" cy="576.0" r="5"/><circle cx="132.6" cy="502.3" r="5"/><circle cx="238.3" cy="492.1" r="5"/><circle cx="205.9" cy="539.9" r="5"/><circle cx="161.6" cy="550.9" r="5"/><circle cx="224.7" cy="571.5" r="5"/><circle cx="220.8" cy="549.3" r="5"/><circle cx="197.8" cy="582.9" r="5"/><circle cx="216.5" cy="544.4" r="5"/><circle cx="210.5" cy="547.2" r="5"/><circle cx="160.2" cy="541.4" r="5"/><circle cx="165.4" cy="577.2" r="5"/><circle cx="191.2" cy="599.2" r="5"/><circle cx="197.2" cy="566.6" r="5"/><circle cx="159.9" cy="543.0" r="5"/><circle cx="171.8" cy="412.3" r="5"/><circle cx="131.8" cy="463.2" r="5"/><circle cx="164.0" cy="464.0" r="5"/><circle cx="183.3" cy="464.0" r="5"/><circle cx="225.2" cy="468.1" r="5"/><circle cx="244.6" cy="461.6" r="5"/><circle cx="256.4" cy="464.0" r="5"/><circle cx="159.9" cy="488.4" r="5"/><circle cx="215.3" cy="503.5" r="5"/><circle cx="139.4" cy="473.9" r="5"/><circle cx="139.7" cy="480.5" r="5"/><circle cx="131.5" cy="491.2" r="5"/><circle cx="132.3" cy="510.1" r="5"/><circle cx="178.3" cy="502.7" r="5"/><circle cx="177.5" cy="508.4" r="5"/><circle cx="169.3" cy="511.7" r="5"/><circle cx="167.7" cy="526.5" r="5"/><circle cx="177.5" cy="528.1" r="5"/><circle cx="177.5" cy="539.6" r="5"/><circle cx="163.6" cy="538.8" r="5"/><circle cx="167.7" cy="552.8" r="5"/><circle cx="168.5" cy="570.0" r="5"/><circle cx="177.5" cy="572.5" r="5"/><circle cx="177.5" cy="580.7" r="5"/><circle cx="215.3" cy="529.8" r="5"/><circle cx="203.8" cy="536.4" r="5"/><circle cx="221.9" cy="538.0" r="5"/><circle cx="197.3" cy="549.5" r="5"/><circle cx="194.8" cy="556.9" r="5"/><circle cx="235.9" cy="476.4" r="5"/><circle cx="233.4" cy="487.0" r="5"/><circle cx="233.4" cy="497.7" r="5"/><circle cx="233.4" cy="510.1" r="5"/><circle cx="254.8" cy="477.2" r="5"/><circle cx="249.8" cy="487.0" r="5"/><circle cx="251.5" cy="500.2" r="5"/><circle cx="258.1" cy="503.5" r="5"/><circle cx="194.8" cy="586.5" r="5"/><circle cx="159.4" cy="515.0" r="5"/><circle cx="167.7" cy="552.3" r="5"/><circle cx="168.5" cy="570.4" r="5"/><circle cx="177.5" cy="572.1" r="5"/><circle cx="189.0" cy="595.9" r="5"/><circle cx="194.8" cy="587.7" r="5"/><circle cx="177.5" cy="579.4" r="5"/></g>
<g fill="#fff"><ellipse cx="243.4" cy="522.7" rx="1.1" ry="1.6"/><ellipse cx="229.9" cy="566.2" rx="0.8" ry="1.3"/><ellipse cx="188.0" cy="626.1" rx="1.3" ry="2.4"/><ellipse cx="236.3" cy="492.7" rx="0.9" ry="1.6"/><ellipse cx="230.4" cy="557.8" rx="0.7" ry="0.9"/><ellipse cx="145.7" cy="538.4" rx="1.3" ry="1.9"/><ellipse cx="187.2" cy="625.0" rx="1.0" ry="1.8"/><ellipse cx="215.9" cy="555.2" rx="1.0" ry="1.8"/><ellipse cx="223.4" cy="564.8" rx="1.2" ry="1.6"/><ellipse cx="195.2" cy="583.2" rx="0.9" ry="1.2"/><ellipse cx="178.7" cy="606.8" rx="0.8" ry="1.2"/><ellipse cx="140.3" cy="502.6" rx="1.2" ry="1.6"/><ellipse cx="171.9" cy="590.5" rx="1.4" ry="1.5"/><ellipse cx="208.9" cy="567.4" rx="0.8" ry="1.1"/><ellipse cx="227.4" cy="588.3" rx="0.9" ry="1.0"/><ellipse cx="185.9" cy="633.9" rx="1.2" ry="1.6"/><ellipse cx="181.8" cy="622.7" rx="1.3" ry="1.8"/><ellipse cx="179.2" cy="613.9" rx="1.4" ry="1.7"/><ellipse cx="248.6" cy="528.8" rx="0.9" ry="1.5"/><ellipse cx="172.5" cy="588.9" rx="1.3" ry="1.7"/><ellipse cx="195.8" cy="582.1" rx="1.4" ry="2.4"/><ellipse cx="136.5" cy="525.7" rx="1.0" ry="1.4"/><ellipse cx="233.0" cy="537.0" rx="1.0" ry="1.8"/><ellipse cx="185.6" cy="635.6" rx="1.1" ry="1.8"/><ellipse cx="212.9" cy="563.2" rx="1.0" ry="1.0"/><ellipse cx="214.1" cy="558.2" rx="1.3" ry="2.2"/><ellipse cx="147.5" cy="537.5" rx="0.7" ry="1.2"/><ellipse cx="145.6" cy="526.6" rx="1.3" ry="1.9"/><ellipse cx="140.0" cy="531.5" rx="1.2" ry="1.8"/><ellipse cx="140.0" cy="532.0" rx="1.0" ry="1.5"/><ellipse cx="251.8" cy="534.3" rx="1.4" ry="1.6"/><ellipse cx="173.1" cy="593.4" rx="0.6" ry="1.1"/><ellipse cx="166.0" cy="589.7" rx="0.9" ry="1.1"/><ellipse cx="235.3" cy="522.9" rx="1.1" ry="1.5"/><ellipse cx="139.6" cy="507.1" rx="1.4" ry="2.4"/><ellipse cx="235.0" cy="505.5" rx="0.8" ry="0.8"/><ellipse cx="197.1" cy="572.9" rx="1.0" ry="1.5"/><ellipse cx="202.7" cy="558.5" rx="1.3" ry="1.6"/><ellipse cx="242.4" cy="525.3" rx="0.6" ry="0.8"/></g>
<path d="M261.0,723.8L261.0,534.5L261.0,534.5L263.0,542.7L267.9,564.1L274.5,575.6L281.1,587.1L287.7,587.4L294.2,592.4L299.2,600.6L302.4,603.9L309.0,600.6L314.0,595.7L320.5,585.8L323.8,567.4L327.1,550.9L332.0,534.5L337.0,547.6L341.9,559.1L350.1,550.9L356.5,559.1L356.5,521.4L356.5,521.4L356.5,723.8Z" fill="#00BFFF" stroke="#00BFFF" stroke-width="6.0" stroke-linejoin="round"/>
<g fill="#00BFFF"><circle cx="313.6" cy="595.6" r="5"/><circle cx="316.7" cy="591.8" r="5"/><circle cx="289.0" cy="583.3" r="5"/><circle cx="290.7" cy="586.2" r="5"/><circle cx="339.2" cy="550.9" r="5"/><circle cx="306.2" cy="591.7" r="5"/><circle cx="305.3" cy="595.0" r="5"/><circle cx="268.5" cy="564.5" r="5"/><circle cx="323.7" cy="569.6" r="5"/><circle cx="344.9" cy="557.8" r="5"/><circle cx="319.6" cy="588.2" r="5"/><circle cx="350.6" cy="549.9" r="5"/><circle cx="339.1" cy="551.4" r="5"/><circle cx="327.0" cy="548.3" r="5"/><circle cx="291.0" cy="590.9" r="5"/><circle cx="342.6" cy="559.7" r="5"/><circle cx="350.2" cy="552.0" r="5"/><circle cx="272.6" cy="573.8" r="5"/><circle cx="337.5" cy="537.9" r="5"/><circle cx="302.4" cy="601.0" r="5"/><circle cx="287.5" cy="578.8" r="5"/><circle cx="328.2" cy="548.6" r="5"/><circle cx="268.4" cy="561.5" r="5"/><circle cx="267.0" cy="553.8" r="5"/><circle cx="290.9" cy="590.7" r="5"/><circle cx="318.3" cy="589.4" r="5"/><circle cx="316.3" cy="593.5" r="5"/><circle cx="349.6" cy="551.6" r="5"/><circle cx="342.9" cy="559.4" r="5"/><circle cx="338.9" cy="541.3" r="5"/><circle cx="300.2" cy="603.5" r="5"/><circle cx="299.1" cy="597.9" r="5"/><circle cx="284.2" cy="585.7" r="5"/><circle cx="271.9" cy="570.2" r="5"/><circle cx="332.2" cy="534.4" r="5"/><circle cx="327.5" cy="551.1" r="5"/><circle cx="341.7" cy="560.1" r="5"/><circle cx="350.7" cy="540.7" r="5"/><circle cx="352.2" cy="552.3" r="5"/><circle cx="290.6" cy="589.8" r="5"/><circle cx="334.3" cy="539.4" r="5"/><circle cx="351.3" cy="554.1" r="5"/><circle cx="309.1" cy="593.6" r="5"/><circle cx="319.8" cy="585.4" r="5"/><circle cx="271.4" cy="571.5" r="5"/><circle cx="288.8" cy="580.2" r="5"/><circle cx="343.3" cy="558.6" r="5"/><circle cx="350.8" cy="553.7" r="5"/><circle cx="319.9" cy="575.8" r="5"/><circle cx="295.7" cy="583.8" r="5"/><circle cx="325.4" cy="561.3" r="5"/><circle cx="294.6" cy="592.4" r="5"/><circle cx="286.5" cy="583.3" r="5"/><circle cx="280.0" cy="580.2" r="5"/><circle cx="291.3" cy="591.9" r="5"/><circle cx="316.1" cy="594.0" r="5"/><circle cx="315.4" cy="588.5" r="5"/><circle cx="319.6" cy="586.4" r="5"/><circle cx="266.2" cy="555.4" r="5"/><circle cx="272.2" cy="568.9" r="5"/><circle cx="275.5" cy="575.5" r="5"/><circle cx="296.5" cy="596.1" r="5"/><circle cx="326.0" cy="557.6" r="5"/><circle cx="279.1" cy="572.9" r="5"/><circle cx="294.5" cy="586.5" r="5"/><circle cx="346.0" cy="554.1" r="5"/><circle cx="277.2" cy="581.8" r="5"/><circle cx="346.5" cy="556.0" r="5"/><circle cx="310.1" cy="598.0" r="5"/><circle cx="274.2" cy="574.2" r="5"/><circle cx="278.6" cy="581.3" r="5"/><circle cx="311.1" cy="598.4" r="5"/><circle cx="281.8" cy="586.8" r="5"/><circle cx="282.3" cy="588.5" r="5"/><circle cx="285.8" cy="580.1" r="5"/><circle cx="310.7" cy="591.0" r="5"/><circle cx="264.4" cy="538.0" r="5"/><circle cx="309.4" cy="595.2" r="5"/><circle cx="317.2" cy="587.6" r="5"/><circle cx="284.8" cy="583.1" r="5"/><circle cx="277.6" cy="581.6" r="5"/><circle cx="265.9" cy="555.2" r="5"/><circle cx="312.2" cy="597.8" r="5"/><circle cx="347.6" cy="555.0" r="5"/><circle cx="318.0" cy="590.5" r="5"/><circle cx="319.6" cy="582.4" r="5"/><circle cx="330.5" cy="541.2" r="5"/><circle cx="286.3" cy="585.3" r="5"/><circle cx="356.4" cy="560.8" r="5"/><circle cx="321.7" cy="575.7" r="5"/><circle cx="340.4" cy="555.8" r="5"/><circle cx="340.0" cy="553.9" r="5"/><circle cx="350.5" cy="553.4" r="5"/><circle cx="352.3" cy="553.4" r="5"/><circle cx="301.7" cy="604.7" r="5"/><circle cx="286.3" cy="583.4" r="5"/><circle cx="327.5" cy="550.9" r="5"/><circle cx="295.7" cy="596.2" r="5"/><circle cx="281.8" cy="588.0" r="5"/><circle cx="294.5" cy="581.8" r="5"/><circle cx="357.7" cy="511.6" r="5"/><circle cx="308.6" cy="599.7" r="5"/><circle cx="337.0" cy="539.1" r="5"/><circle cx="334.4" cy="538.2" r="5"/><circle cx="281.9" cy="584.7" r="5"/><circle cx="343.3" cy="552.7" r="5"/><circle cx="271.8" cy="567.1" r="5"/><circle cx="296.2" cy="596.8" r="5"/><circle cx="354.7" cy="553.9" r="5"/><circle cx="333.8" cy="540.6" r="5"/><circle cx="341.7" cy="548.2" r="5"/><circle cx="349.0" cy="547.9" r="5"/><circle cx="342.1" cy="553.7" r="5"/><circle cx="319.1" cy="587.4" r="5"/><circle cx="341.4" cy="553.1" r="5"/><circle cx="345.7" cy="555.7" r="5"/><circle cx="354.3" cy="554.9" r="5"/><circle cx="352.9" cy="555.9" r="5"/><circle cx="355.0" cy="552.3" r="5"/><circle cx="286.9" cy="581.2" r="5"/><circle cx="285.0" cy="588.3" r="5"/><circle cx="306.5" cy="602.6" r="5"/><circle cx="309.8" cy="591.1" r="5"/><circle cx="328.1" cy="544.0" r="5"/><circle cx="300.2" cy="596.8" r="5"/><circle cx="338.4" cy="547.8" r="5"/><circle cx="262.2" cy="422.1" r="5"/><circle cx="262.2" cy="453.3" r="5"/><circle cx="262.2" cy="467.3" r="5"/><circle cx="262.2" cy="482.9" r="5"/><circle cx="261.4" cy="495.3" r="5"/><circle cx="262.2" cy="513.3" r="5"/><circle cx="271.2" cy="526.5" r="5"/><circle cx="292.6" cy="528.1" r="5"/><circle cx="346.0" cy="478.0" r="5"/><circle cx="346.0" cy="500.2" r="5"/><circle cx="331.2" cy="500.2" r="5"/><circle cx="327.9" cy="508.4" r="5"/><circle cx="332.0" cy="523.2" r="5"/><circle cx="347.6" cy="523.2" r="5"/><circle cx="341.9" cy="533.1" r="5"/><circle cx="323.0" cy="540.5" r="5"/><circle cx="289.3" cy="552.8" r="5"/><circle cx="271.2" cy="553.6" r="5"/><circle cx="277.8" cy="562.7" r="5"/><circle cx="284.4" cy="567.6" r="5"/><circle cx="290.9" cy="579.1" r="5"/><circle cx="351.8" cy="542.9" r="5"/><circle cx="356.7" cy="516.6" r="5"/><circle cx="289.3" cy="553.1" r="5"/><circle cx="271.2" cy="555.6" r="5"/><circle cx="277.8" cy="563.0" r="5"/><circle cx="284.4" cy="566.3" r="5"/><circle cx="290.9" cy="579.4" r="5"/></g>
<g fill="#fff"><ellipse cx="348.3" cy="567.5" rx="1.0" ry="1.0"/><ellipse cx="322.4" cy="584.7" rx="0.9" ry="1.4"/><ellipse cx="338.8" cy="566.7" rx="0.6" ry="0.9"/><ellipse cx="265.5" cy="556.2" rx="1.3" ry="1.8"/><ellipse cx="318.1" cy="595.0" rx="0.9" ry="1.1"/><ellipse cx="295.7" cy="604.2" rx="1.2" ry="1.5"/><ellipse cx="271.9" cy="574.7" rx="1.2" ry="1.7"/><ellipse cx="323.2" cy="580.1" rx="0.7" ry="1.1"/><ellipse cx="267.7" cy="572.4" rx="0.8" ry="1.0"/><ellipse cx="349.7" cy="558.8" rx="0.8" ry="1.4"/><ellipse cx="318.6" cy="598.6" rx="1.0" ry="1.4"/><ellipse cx="349.5" cy="561.4" rx="1.5" ry="1.7"/><ellipse cx="338.3" cy="554.8" rx="1.1" ry="1.1"/><ellipse cx="279.7" cy="595.1" rx="1.0" ry="1.7"/><ellipse cx="286.4" cy="591.9" rx="0.7" ry="1.0"/><ellipse cx="341.2" cy="565.1" rx="0.9" ry="1.7"/><ellipse cx="344.0" cy="566.8" rx="0.7" ry="1.0"/><ellipse cx="303.7" cy="613.8" rx="0.9" ry="1.5"/><ellipse cx="320.6" cy="590.4" rx="1.1" ry="1.7"/><ellipse cx="345.2" cy="563.9" rx="0.9" ry="1.7"/><ellipse cx="269.1" cy="575.5" rx="1.2" ry="1.8"/><ellipse cx="304.1" cy="611.6" rx="1.4" ry="2.3"/><ellipse cx="331.1" cy="539.6" rx="0.9" ry="1.0"/><ellipse cx="349.3" cy="568.3" rx="0.7" ry="1.1"/><ellipse cx="315.6" cy="594.6" rx="1.0" ry="1.6"/><ellipse cx="321.4" cy="584.6" rx="1.3" ry="1.6"/><ellipse cx="312.7" cy="602.1" rx="1.5" ry="2.3"/><ellipse cx="336.0" cy="561.5" rx="0.9" ry="1.8"/><ellipse cx="327.5" cy="563.8" rx="0.8" ry="1.0"/><ellipse cx="315.5" cy="602.6" rx="1.3" ry="1.7"/></g>
<path d="M362.5,723.8L362.5,515.0L362.5,515.0L368.1,513.7L373.0,521.4L374.7,544.4L377.9,559.1L384.5,559.1L389.4,550.9L391.9,580.9L396.0,595.7L404.2,592.4L409.2,580.9L412.5,570.7L412.5,572.7L419.0,564.1L422.3,547.6L432.2,544.4L440.4,534.5L447.0,539.4L451.9,527.8L456.5,521.4L456.5,521.4L456.5,723.8Z" fill="#FFA500" stroke="#FFA500" stroke-width="6.0" stroke-linejoin="round"/>
<g fill="#FFA500"><circle cx="377.6" cy="556.2" r="5"/><circle cx="446.5" cy="540.3" r="5"/><circle cx="433.5" cy="543.9" r="5"/><circle cx="393.7" cy="588.9" r="5"/><circle cx="392.3" cy="582.2" r="5"/><circle cx="454.9" cy="509.9" r="5"/><circle cx="382.0" cy="559.5" r="5"/><circle cx="452.7" cy="527.3" r="5"/><circle cx="394.5" cy="589.6" r="5"/><circle cx="374.6" cy="544.7" r="5"/><circle cx="401.3" cy="593.3" r="5"/><circle cx="454.6" cy="523.9" r="5"/><circle cx="383.6" cy="550.4" r="5"/><circle cx="406.6" cy="580.7" r="5"/><circle cx="424.1" cy="542.3" r="5"/><circle cx="393.9" cy="589.4" r="5"/><circle cx="435.3" cy="539.8" r="5"/><circle cx="416.7" cy="564.1" r="5"/><circle cx="434.9" cy="541.7" r="5"/><circle cx="398.4" cy="585.5" r="5"/><circle cx="414.0" cy="571.1" r="5"/><circle cx="423.4" cy="547.9" r="5"/><circle cx="436.6" cy="540.8" r="5"/><circle cx="441.8" cy="533.8" r="5"/><circle cx="397.6" cy="584.4" r="5"/><circle cx="389.3" cy="551.9" r="5"/><circle cx="371.0" cy="513.7" r="5"/><circle cx="435.0" cy="537.9" r="5"/><circle cx="403.1" cy="587.4" r="5"/><circle cx="374.9" cy="545.8" r="5"/><circle cx="424.8" cy="535.8" r="5"/><circle cx="423.8" cy="543.9" r="5"/><circle cx="436.9" cy="538.4" r="5"/><circle cx="452.4" cy="520.9" r="5"/><circle cx="396.5" cy="595.3" r="5"/><circle cx="439.8" cy="535.2" r="5"/><circle cx="381.9" cy="551.9" r="5"/><circle cx="414.2" cy="569.0" r="5"/><circle cx="427.1" cy="537.6" r="5"/><circle cx="377.0" cy="555.0" r="5"/><circle cx="370.7" cy="515.2" r="5"/><circle cx="411.4" cy="567.2" r="5"/><circle cx="426.9" cy="544.2" r="5"/><circle cx="402.2" cy="591.3" r="5"/><circle cx="390.1" cy="552.5" r="5"/><circle cx="438.2" cy="530.9" r="5"/><circle cx="378.6" cy="556.1" r="5"/><circle cx="435.0" cy="539.8" r="5"/><circle cx="448.5" cy="527.1" r="5"/><circle cx="434.0" cy="536.5" r="5"/><circle cx="425.2" cy="539.2" r="5"/><circle cx="376.8" cy="550.4" r="5"/><circle cx="430.3" cy="542.7" r="5"/><circle cx="390.2" cy="562.0" r="5"/><circle cx="420.9" cy="548.9" r="5"/><circle cx="390.0" cy="558.9" r="5"/><circle cx="385.4" cy="559.2" r="5"/><circle cx="427.7" cy="534.8" r="5"/><circle cx="439.5" cy="535.6" r="5"/><circle cx="429.9" cy="546.8" r="5"/><circle cx="442.9" cy="536.6" r="5"/><circle cx="364.8" cy="507.3" r="5"/><circle cx="377.5" cy="557.6" r="5"/><circle cx="370.0" cy="513.6" r="5"/><circle cx="416.4" cy="562.1" r="5"/><circle cx="368.2" cy="499.4" r="5"/><circle cx="374.8" cy="546.0" r="5"/><circle cx="423.4" cy="547.4" r="5"/><circle cx="395.5" cy="591.8" r="5"/><circle cx="384.9" cy="553.5" r="5"/><circle cx="384.0" cy="552.9" r="5"/><circle cx="440.1" cy="533.4" r="5"/><circle cx="367.4" cy="501.7" r="5"/><circle cx="367.2" cy="509.3" r="5"/><circle cx="404.1" cy="594.1" r="5"/><circle cx="423.4" cy="543.5" r="5"/><circle cx="419.2" cy="563.0" r="5"/><circle cx="412.4" cy="568.9" r="5"/><circle cx="385.7" cy="550.1" r="5"/><circle cx="457.6" cy="511.2" r="5"/><circle cx="454.4" cy="523.7" r="5"/><circle cx="456.7" cy="522.8" r="5"/><circle cx="409.2" cy="582.2" r="5"/><circle cx="406.9" cy="582.9" r="5"/><circle cx="430.7" cy="544.1" r="5"/><circle cx="396.4" cy="596.5" r="5"/><circle cx="402.2" cy="593.7" r="5"/><circle cx="382.7" cy="555.2" r="5"/><circle cx="412.8" cy="571.7" r="5"/><circle cx="383.0" cy="555.7" r="5"/><circle cx="382.9" cy="559.8" r="5"/><circle cx="416.9" cy="563.4" r="5"/><circle cx="455.5" cy="515.0" r="5"/><circle cx="453.2" cy="513.0" r="5"/><circle cx="432.1" cy="540.7" r="5"/><circle cx="370.4" cy="517.3" r="5"/><circle cx="365.7" cy="497.9" r="5"/><circle cx="432.0" cy="541.9" r="5"/><circle cx="389.2" cy="551.4" r="5"/><circle cx="379.8" cy="556.6" r="5"/><circle cx="457.2" cy="520.7" r="5"/><circle cx="368.6" cy="514.8" r="5"/><circle cx="397.7" cy="586.7" r="5"/><circle cx="439.7" cy="534.6" r="5"/><circle cx="374.1" cy="536.2" r="5"/><circle cx="378.9" cy="554.4" r="5"/><circle cx="408.6" cy="571.3" r="5"/><circle cx="449.7" cy="526.8" r="5"/><circle cx="409.0" cy="575.4" r="5"/><circle cx="376.5" cy="554.1" r="5"/><circle cx="417.2" cy="565.3" r="5"/><circle cx="384.1" cy="559.8" r="5"/><circle cx="366.5" cy="497.7" r="5"/><circle cx="430.9" cy="533.8" r="5"/><circle cx="456.2" cy="519.6" r="5"/><circle cx="433.0" cy="543.2" r="5"/><circle cx="440.4" cy="528.2" r="5"/><circle cx="377.0" cy="556.9" r="5"/><circle cx="384.5" cy="557.2" r="5"/><circle cx="399.9" cy="596.1" r="5"/><circle cx="442.1" cy="530.9" r="5"/><circle cx="407.9" cy="585.7" r="5"/><circle cx="447.6" cy="536.3" r="5"/><circle cx="371.1" cy="517.3" r="5"/><circle cx="422.9" cy="539.7" r="5"/><circle cx="364.0" cy="426.2" r="5"/><circle cx="368.9" cy="453.0" r="5"/><circle cx="362.3" cy="478.0" r="5"/><circle cx="375.5" cy="484.6" r="5"/><circle cx="381.2" cy="488.7" r="5"/><circle cx="388.6" cy="488.4" r="5"/><circle cx="428.4" cy="441.5" r="5"/><circle cx="428.9" cy="464.0" r="5"/><circle cx="428.9" cy="468.1" r="5"/><circle cx="425.6" cy="490.3" r="5"/><circle cx="425.6" cy="500.2" r="5"/><circle cx="425.6" cy="510.1" r="5"/><circle cx="436.3" cy="505.1" r="5"/><circle cx="436.3" cy="515.0" r="5"/><circle cx="455.2" cy="490.3" r="5"/><circle cx="454.4" cy="501.8" r="5"/><circle cx="450.3" cy="513.3" r="5"/><circle cx="385.3" cy="503.5" r="5"/><circle cx="389.4" cy="513.3" r="5"/><circle cx="385.3" cy="526.5" r="5"/><circle cx="388.6" cy="538.0" r="5"/><circle cx="398.5" cy="544.6" r="5"/><circle cx="416.6" cy="523.2" r="5"/><circle cx="425.6" cy="524.8" r="5"/><circle cx="424.0" cy="536.4" r="5"/><circle cx="399.3" cy="564.3" r="5"/><circle cx="402.6" cy="572.5" r="5"/></g>
<g fill="#fff"><ellipse cx="408.1" cy="590.7" rx="0.8" ry="1.0"/><ellipse cx="445.2" cy="549.9" rx="0.7" ry="1.1"/><ellipse cx="376.6" cy="557.4" rx="1.0" ry="1.5"/><ellipse cx="421.5" cy="565.0" rx="1.0" ry="1.1"/><ellipse cx="429.3" cy="547.5" rx="1.0" ry="1.4"/><ellipse cx="424.7" cy="563.1" rx="0.8" ry="1.3"/><ellipse cx="426.4" cy="557.6" rx="0.7" ry="1.3"/><ellipse cx="418.2" cy="566.8" rx="0.8" ry="1.5"/><ellipse cx="385.6" cy="563.4" rx="1.3" ry="2.3"/><ellipse cx="421.3" cy="566.1" rx="0.6" ry="0.7"/><ellipse cx="451.4" cy="558.1" rx="0.6" ry="0.7"/><ellipse cx="386.7" cy="569.9" rx="0.8" ry="1.3"/><ellipse cx="447.4" cy="557.3" rx="1.4" ry="1.8"/><ellipse cx="379.0" cy="560.4" rx="1.3" ry="1.4"/><ellipse cx="451.1" cy="555.0" rx="0.8" ry="1.3"/><ellipse cx="379.8" cy="566.0" rx="0.7" ry="1.2"/><ellipse cx="443.8" cy="564.8" rx="0.6" ry="1.1"/><ellipse cx="414.4" cy="579.3" rx="1.1" ry="1.6"/><ellipse cx="417.8" cy="574.7" rx="0.7" ry="0.7"/><ellipse cx="413.5" cy="575.2" rx="1.0" ry="1.0"/><ellipse cx="431.1" cy="546.3" rx="1.3" ry="2.3"/><ellipse cx="405.8" cy="591.0" rx="1.2" ry="1.4"/><ellipse cx="403.3" cy="594.9" rx="1.5" ry="2.2"/><ellipse cx="396.5" cy="597.4" rx="1.3" ry="2.2"/><ellipse cx="440.2" cy="538.9" rx="0.9" ry="1.2"/><ellipse cx="432.6" cy="548.4" rx="1.1" ry="2.2"/><ellipse cx="433.2" cy="544.4" rx="0.7" ry="0.7"/><ellipse cx="426.4" cy="560.3" rx="1.1" ry="1.5"/><ellipse cx="401.4" cy="600.6" rx="1.2" ry="2.2"/><ellipse cx="430.0" cy="564.2" rx="1.4" ry="2.5"/></g>
<path d="M462.5,723.8L462.5,513.7L462.5,513.7L466.7,516.3L470.0,544.4L474.9,554.2L476.6,584.2L481.5,610.5L484.8,580.9L489.7,577.6L494.6,597.3L497.9,620.3L502.9,625.3L504.5,577.2L505.3,597.3L512.7,573.9L516.0,594.0L517.7,567.4L522.6,560.8L527.5,531.7L532.4,529.1L539.0,529.1L545.6,534.5L547.2,567.4L548.9,592.4L552.2,580.5L557.1,580.5L557.5,567.4L557.5,567.4L557.5,723.8Z" fill="#228B22" stroke="#228B22" stroke-width="6.0" stroke-linejoin="round"/>
<g fill="#228B22"><circle cx="532.2" cy="531.0" r="5"/><circle cx="528.8" cy="523.3" r="5"/><circle cx="505.2" cy="587.0" r="5"/><circle cx="481.5" cy="599.6" r="5"/><circle cx="506.2" cy="590.9" r="5"/><circle cx="488.4" cy="578.9" r="5"/><circle cx="497.4" cy="617.1" r="5"/><circle cx="473.5" cy="550.6" r="5"/><circle cx="557.2" cy="574.7" r="5"/><circle cx="552.6" cy="576.0" r="5"/><circle cx="543.6" cy="521.5" r="5"/><circle cx="535.6" cy="529.3" r="5"/><circle cx="488.1" cy="578.3" r="5"/><circle cx="466.5" cy="515.8" r="5"/><circle cx="548.3" cy="573.4" r="5"/><circle cx="495.6" cy="599.1" r="5"/><circle cx="537.7" cy="518.8" r="5"/><circle cx="539.6" cy="527.4" r="5"/><circle cx="474.4" cy="547.3" r="5"/><circle cx="494.1" cy="592.9" r="5"/><circle cx="499.2" cy="620.1" r="5"/><circle cx="555.8" cy="581.7" r="5"/><circle cx="514.7" cy="583.1" r="5"/><circle cx="515.4" cy="579.7" r="5"/><circle cx="503.0" cy="611.9" r="5"/><circle cx="529.7" cy="518.8" r="5"/><circle cx="473.0" cy="551.2" r="5"/><circle cx="491.7" cy="576.7" r="5"/><circle cx="465.8" cy="515.0" r="5"/><circle cx="532.1" cy="517.1" r="5"/><circle cx="481.2" cy="608.1" r="5"/><circle cx="529.4" cy="526.6" r="5"/><circle cx="535.0" cy="523.3" r="5"/><circle cx="488.0" cy="579.4" r="5"/><circle cx="467.1" cy="512.1" r="5"/><circle cx="484.3" cy="586.1" r="5"/><circle cx="555.6" cy="577.9" r="5"/><circle cx="520.4" cy="561.0" r="5"/><circle cx="521.0" cy="559.6" r="5"/><circle cx="493.2" cy="593.3" r="5"/><circle cx="470.8" cy="548.0" r="5"/><circle cx="498.7" cy="622.4" r="5"/><circle cx="475.2" cy="557.7" r="5"/><circle cx="556.1" cy="577.3" r="5"/><circle cx="490.3" cy="575.5" r="5"/><circle cx="481.3" cy="611.0" r="5"/><circle cx="493.1" cy="591.0" r="5"/><circle cx="529.7" cy="529.5" r="5"/><circle cx="533.3" cy="530.5" r="5"/><circle cx="552.6" cy="580.6" r="5"/><circle cx="543.2" cy="534.2" r="5"/><circle cx="542.8" cy="532.8" r="5"/><circle cx="545.3" cy="528.9" r="5"/><circle cx="527.9" cy="531.9" r="5"/><circle cx="465.4" cy="515.6" r="5"/><circle cx="550.0" cy="589.5" r="5"/><circle cx="526.8" cy="533.5" r="5"/><circle cx="527.0" cy="535.5" r="5"/><circle cx="478.1" cy="593.8" r="5"/><circle cx="557.4" cy="571.6" r="5"/><circle cx="526.1" cy="537.7" r="5"/><circle cx="485.6" cy="582.0" r="5"/><circle cx="465.9" cy="500.7" r="5"/><circle cx="476.8" cy="574.4" r="5"/><circle cx="498.9" cy="617.5" r="5"/><circle cx="477.6" cy="584.6" r="5"/><circle cx="488.3" cy="578.5" r="5"/><circle cx="513.9" cy="582.8" r="5"/><circle cx="488.0" cy="573.6" r="5"/><circle cx="491.5" cy="584.4" r="5"/><circle cx="536.8" cy="529.7" r="5"/><circle cx="482.8" cy="599.3" r="5"/><circle cx="500.8" cy="623.2" r="5"/><circle cx="525.1" cy="544.7" r="5"/><circle cx="546.7" cy="558.0" r="5"/><circle cx="527.2" cy="526.8" r="5"/><circle cx="486.7" cy="581.5" r="5"/><circle cx="505.9" cy="596.9" r="5"/><circle cx="508.0" cy="585.4" r="5"/><circle cx="473.4" cy="552.5" r="5"/><circle cx="509.8" cy="584.3" r="5"/><circle cx="486.3" cy="579.2" r="5"/><circle cx="475.7" cy="569.8" r="5"/><circle cx="498.6" cy="620.2" r="5"/><circle cx="553.0" cy="578.9" r="5"/><circle cx="471.3" cy="547.8" r="5"/><circle cx="534.8" cy="526.5" r="5"/><circle cx="546.7" cy="546.3" r="5"/><circle cx="545.6" cy="535.9" r="5"/><circle cx="553.7" cy="579.2" r="5"/><circle cx="487.2" cy="580.4" r="5"/><circle cx="546.2" cy="547.7" r="5"/><circle cx="472.4" cy="549.7" r="5"/><circle cx="551.8" cy="581.0" r="5"/><circle cx="533.6" cy="530.7" r="5"/><circle cx="507.3" cy="591.3" r="5"/><circle cx="483.9" cy="585.9" r="5"/><circle cx="498.6" cy="622.5" r="5"/><circle cx="557.5" cy="566.4" r="5"/><circle cx="481.5" cy="612.3" r="5"/><circle cx="526.2" cy="537.8" r="5"/><circle cx="466.8" cy="513.7" r="5"/><circle cx="534.5" cy="526.8" r="5"/><circle cx="486.6" cy="578.5" r="5"/><circle cx="521.7" cy="559.3" r="5"/><circle cx="478.2" cy="587.6" r="5"/><circle cx="553.9" cy="576.4" r="5"/><circle cx="545.5" cy="534.4" r="5"/><circle cx="549.8" cy="590.1" r="5"/><circle cx="485.9" cy="578.0" r="5"/><circle cx="549.7" cy="591.0" r="5"/><circle cx="485.0" cy="582.6" r="5"/><circle cx="506.0" cy="596.5" r="5"/><circle cx="482.6" cy="596.3" r="5"/><circle cx="519.6" cy="554.1" r="5"/><circle cx="502.5" cy="621.8" r="5"/><circle cx="465.7" cy="499.7" r="5"/><circle cx="486.5" cy="578.8" r="5"/><circle cx="512.9" cy="563.7" r="5"/><circle cx="511.0" cy="568.4" r="5"/><circle cx="523.2" cy="558.0" r="5"/><circle cx="543.3" cy="533.4" r="5"/><circle cx="559.0" cy="566.6" r="5"/><circle cx="485.9" cy="569.1" r="5"/><circle cx="494.9" cy="598.8" r="5"/><circle cx="496.9" cy="610.4" r="5"/><circle cx="461.8" cy="470.6" r="5"/><circle cx="461.8" cy="490.3" r="5"/><circle cx="487.7" cy="502.2" r="5"/><circle cx="531.6" cy="443.2" r="5"/><circle cx="531.6" cy="469.8" r="5"/><circle cx="541.5" cy="472.3" r="5"/><circle cx="560.4" cy="459.6" r="5"/><circle cx="560.4" cy="470.6" r="5"/><circle cx="531.6" cy="490.3" r="5"/><circle cx="531.6" cy="500.2" r="5"/><circle cx="531.6" cy="510.1" r="5"/><circle cx="543.1" cy="504.8" r="5"/><circle cx="559.6" cy="489.5" r="5"/><circle cx="559.6" cy="508.4" r="5"/><circle cx="559.6" cy="516.6" r="5"/><circle cx="557.9" cy="532.2" r="5"/><circle cx="558.7" cy="542.9" r="5"/><circle cx="554.6" cy="556.1" r="5"/><circle cx="508.1" cy="535.5" r="5"/><circle cx="520.9" cy="534.7" r="5"/><circle cx="508.6" cy="548.7" r="5"/><circle cx="517.7" cy="550.3" r="5"/><circle cx="476.6" cy="562.7" r="5"/><circle cx="489.7" cy="558.5" r="5"/><circle cx="468.3" cy="508.4" r="5"/><circle cx="468.3" cy="526.5" r="5"/><circle cx="474.9" cy="548.7" r="5"/><circle cx="489.7" cy="574.2" r="5"/><circle cx="489.7" cy="582.4" r="5"/><circle cx="507.8" cy="575.8" r="5"/><circle cx="511.9" cy="564.3" r="5"/><circle cx="539.0" cy="519.9" r="5"/><circle cx="544.0" cy="526.5" r="5"/><circle cx="508.6" cy="548.2" r="5"/><circle cx="517.7" cy="550.7" r="5"/><circle cx="476.6" cy="561.4" r="5"/><circle cx="488.1" cy="558.1" r="5"/><circle cx="491.4" cy="558.9" r="5"/></g>
<g fill="#fff"><ellipse cx="467.5" cy="536.9" rx="0.7" ry="1.3"/><ellipse cx="465.5" cy="542.1" rx="0.8" ry="1.2"/><ellipse cx="515.5" cy="599.1" rx="0.7" ry="0.9"/><ellipse cx="476.2" cy="588.7" rx="0.7" ry="0.8"/><ellipse cx="512.0" cy="583.1" rx="1.4" ry="1.5"/><ellipse cx="486.4" cy="582.5" rx="1.1" ry="1.6"/><ellipse cx="501.9" cy="634.2" rx="1.2" ry="2.1"/><ellipse cx="550.7" cy="589.6" rx="1.4" ry="2.0"/><ellipse cx="470.1" cy="566.7" rx="0.7" ry="0.7"/><ellipse cx="491.3" cy="587.7" rx="1.5" ry="2.6"/><ellipse cx="502.9" cy="630.7" rx="1.4" ry="2.4"/><ellipse cx="523.7" cy="563.2" rx="0.7" ry="0.9"/><ellipse cx="524.1" cy="563.0" rx="1.3" ry="2.4"/><ellipse cx="551.2" cy="587.1" rx="0.7" ry="1.2"/><ellipse cx="516.3" cy="592.8" rx="1.2" ry="1.5"/><ellipse cx="486.6" cy="584.4" rx="1.1" ry="1.7"/><ellipse cx="472.0" cy="564.3" rx="1.2" ry="1.7"/><ellipse cx="525.3" cy="564.0" rx="0.6" ry="0.9"/><ellipse cx="525.8" cy="560.6" rx="1.2" ry="1.4"/><ellipse cx="550.8" cy="594.3" rx="0.8" ry="1.1"/><ellipse cx="550.8" cy="588.7" rx="1.0" ry="1.8"/><ellipse cx="545.6" cy="543.0" rx="1.3" ry="1.7"/><ellipse cx="524.5" cy="565.1" rx="0.7" ry="0.9"/><ellipse cx="484.6" cy="585.9" rx="0.6" ry="0.7"/><ellipse cx="501.6" cy="629.2" rx="0.7" ry="1.0"/><ellipse cx="549.4" cy="597.4" rx="0.9" ry="1.5"/><ellipse cx="504.4" cy="582.6" rx="1.0" ry="1.0"/><ellipse cx="525.7" cy="547.3" rx="0.9" ry="1.7"/><ellipse cx="533.7" cy="559.4" rx="1.2" ry="1.9"/><ellipse cx="528.2" cy="564.8" rx="0.8" ry="1.3"/></g>
<path d="M563.5,723.8L563.5,550.9L563.5,550.9L568.6,557.5L575.2,567.4L583.4,575.6L586.7,599.0L590.0,583.8L591.6,580.9L594.9,580.5L599.9,570.7L603.1,589.1L604.8,622.0L608.1,646.6L613.0,626.9L614.7,613.7L621.2,605.5L626.2,589.1L629.4,583.8L636.0,567.4L642.6,559.1L647.5,542.7L652.5,539.4L652.5,539.4L652.5,723.8Z" fill="#CD5555" stroke="#CD5555" stroke-width="6.0" stroke-linejoin="round"/>
<g fill="#CD5555"><circle cx="592.1" cy="581.5" r="5"/><circle cx="638.2" cy="562.5" r="5"/><circle cx="640.7" cy="554.2" r="5"/><circle cx="617.6" cy="611.1" r="5"/><circle cx="566.8" cy="553.8" r="5"/><circle cx="629.7" cy="583.7" r="5"/><circle cx="571.7" cy="564.1" r="5"/><circle cx="580.8" cy="569.7" r="5"/><circle cx="565.8" cy="554.8" r="5"/><circle cx="589.0" cy="585.0" r="5"/><circle cx="652.9" cy="541.3" r="5"/><circle cx="575.6" cy="557.5" r="5"/><circle cx="651.3" cy="541.5" r="5"/><circle cx="595.2" cy="578.7" r="5"/><circle cx="593.8" cy="580.2" r="5"/><circle cx="607.9" cy="645.8" r="5"/><circle cx="570.4" cy="561.7" r="5"/><circle cx="579.9" cy="573.6" r="5"/><circle cx="620.7" cy="602.8" r="5"/><circle cx="588.8" cy="584.4" r="5"/><circle cx="630.0" cy="582.5" r="5"/><circle cx="609.0" cy="643.9" r="5"/><circle cx="647.7" cy="540.9" r="5"/><circle cx="570.0" cy="560.9" r="5"/><circle cx="626.8" cy="587.9" r="5"/><circle cx="629.0" cy="585.4" r="5"/><circle cx="636.0" cy="562.0" r="5"/><circle cx="573.8" cy="563.4" r="5"/><circle cx="582.4" cy="571.1" r="5"/><circle cx="636.7" cy="561.5" r="5"/><circle cx="586.0" cy="595.4" r="5"/><circle cx="624.2" cy="593.8" r="5"/><circle cx="577.7" cy="571.0" r="5"/><circle cx="617.1" cy="612.2" r="5"/><circle cx="621.6" cy="605.0" r="5"/><circle cx="588.4" cy="590.7" r="5"/><circle cx="612.7" cy="624.4" r="5"/><circle cx="568.2" cy="553.2" r="5"/><circle cx="585.1" cy="587.8" r="5"/><circle cx="622.1" cy="599.3" r="5"/><circle cx="619.9" cy="598.7" r="5"/><circle cx="583.6" cy="577.4" r="5"/><circle cx="624.1" cy="596.5" r="5"/><circle cx="579.4" cy="572.5" r="5"/><circle cx="633.8" cy="567.1" r="5"/><circle cx="628.9" cy="573.7" r="5"/><circle cx="635.8" cy="568.3" r="5"/><circle cx="593.4" cy="576.9" r="5"/><circle cx="570.4" cy="558.0" r="5"/><circle cx="573.4" cy="566.5" r="5"/><circle cx="611.0" cy="636.3" r="5"/><circle cx="648.0" cy="535.0" r="5"/><circle cx="606.4" cy="634.8" r="5"/><circle cx="576.1" cy="567.1" r="5"/><circle cx="611.6" cy="632.4" r="5"/><circle cx="628.9" cy="583.3" r="5"/><circle cx="634.1" cy="573.6" r="5"/><circle cx="571.7" cy="561.9" r="5"/><circle cx="608.3" cy="646.5" r="5"/><circle cx="624.7" cy="594.9" r="5"/><circle cx="593.7" cy="579.7" r="5"/><circle cx="628.5" cy="580.6" r="5"/><circle cx="598.4" cy="572.9" r="5"/><circle cx="647.6" cy="532.4" r="5"/><circle cx="620.3" cy="608.2" r="5"/><circle cx="605.8" cy="627.2" r="5"/><circle cx="590.2" cy="585.3" r="5"/><circle cx="652.3" cy="530.7" r="5"/><circle cx="576.9" cy="568.3" r="5"/><circle cx="620.3" cy="607.1" r="5"/><circle cx="571.6" cy="557.7" r="5"/><circle cx="633.7" cy="572.6" r="5"/><circle cx="573.1" cy="564.0" r="5"/><circle cx="573.8" cy="554.3" r="5"/><circle cx="570.0" cy="560.1" r="5"/><circle cx="633.5" cy="575.1" r="5"/><circle cx="574.9" cy="568.7" r="5"/><circle cx="580.0" cy="570.8" r="5"/><circle cx="639.2" cy="564.5" r="5"/><circle cx="580.9" cy="568.5" r="5"/><circle cx="603.2" cy="589.9" r="5"/><circle cx="576.4" cy="569.3" r="5"/><circle cx="651.5" cy="541.5" r="5"/><circle cx="588.5" cy="586.7" r="5"/><circle cx="644.4" cy="544.5" r="5"/><circle cx="607.3" cy="630.1" r="5"/><circle cx="619.0" cy="608.8" r="5"/><circle cx="606.7" cy="632.4" r="5"/><circle cx="630.5" cy="582.7" r="5"/><circle cx="582.6" cy="563.8" r="5"/><circle cx="575.0" cy="561.5" r="5"/><circle cx="595.5" cy="580.1" r="5"/><circle cx="588.1" cy="591.7" r="5"/><circle cx="653.2" cy="540.7" r="5"/><circle cx="641.1" cy="561.2" r="5"/><circle cx="580.8" cy="568.8" r="5"/><circle cx="595.7" cy="580.0" r="5"/><circle cx="602.5" cy="579.9" r="5"/><circle cx="641.9" cy="558.2" r="5"/><circle cx="566.4" cy="550.2" r="5"/><circle cx="619.2" cy="599.8" r="5"/><circle cx="649.8" cy="541.5" r="5"/><circle cx="640.6" cy="556.0" r="5"/><circle cx="589.0" cy="588.1" r="5"/><circle cx="598.7" cy="573.1" r="5"/><circle cx="599.0" cy="573.9" r="5"/><circle cx="585.6" cy="582.4" r="5"/><circle cx="601.8" cy="579.2" r="5"/><circle cx="644.0" cy="550.0" r="5"/><circle cx="587.1" cy="587.6" r="5"/><circle cx="636.7" cy="555.6" r="5"/><circle cx="629.9" cy="578.3" r="5"/><circle cx="637.5" cy="566.3" r="5"/><circle cx="623.6" cy="597.6" r="5"/><circle cx="639.8" cy="564.0" r="5"/><circle cx="613.2" cy="625.4" r="5"/><circle cx="638.1" cy="564.8" r="5"/><circle cx="640.2" cy="555.7" r="5"/><circle cx="565.6" cy="436.1" r="5"/><circle cx="576.8" cy="446.0" r="5"/><circle cx="585.0" cy="489.5" r="5"/><circle cx="565.3" cy="491.2" r="5"/><circle cx="563.7" cy="496.9" r="5"/><circle cx="583.4" cy="504.3" r="5"/><circle cx="586.7" cy="508.4" r="5"/><circle cx="599.0" cy="500.2" r="5"/><circle cx="599.0" cy="512.5" r="5"/><circle cx="567.0" cy="508.4" r="5"/><circle cx="568.6" cy="519.9" r="5"/><circle cx="579.3" cy="524.0" r="5"/><circle cx="571.9" cy="531.4" r="5"/><circle cx="576.8" cy="534.7" r="5"/><circle cx="563.7" cy="536.4" r="5"/><circle cx="570.2" cy="542.9" r="5"/><circle cx="580.1" cy="552.8" r="5"/><circle cx="645.9" cy="415.5" r="5"/><circle cx="599.9" cy="500.2" r="5"/><circle cx="599.5" cy="512.5" r="5"/><circle cx="645.9" cy="475.5" r="5"/><circle cx="649.2" cy="481.3" r="5"/><circle cx="642.6" cy="493.6" r="5"/><circle cx="652.5" cy="498.6" r="5"/><circle cx="645.1" cy="510.9" r="5"/><circle cx="652.5" cy="511.7" r="5"/><circle cx="652.5" cy="519.9" r="5"/><circle cx="599.0" cy="531.4" r="5"/><circle cx="599.9" cy="542.9" r="5"/><circle cx="599.0" cy="554.4" r="5"/><circle cx="616.3" cy="554.4" r="5"/><circle cx="616.3" cy="562.7" r="5"/><circle cx="621.2" cy="574.2" r="5"/><circle cx="621.2" cy="579.1" r="5"/><circle cx="616.3" cy="589.8" r="5"/><circle cx="629.4" cy="544.6" r="5"/><circle cx="632.7" cy="551.1" r="5"/><circle cx="641.8" cy="539.6" r="5"/><circle cx="650.8" cy="529.8" r="5"/><circle cx="616.3" cy="554.0" r="5"/><circle cx="616.3" cy="561.4" r="5"/><circle cx="621.2" cy="574.5" r="5"/><circle cx="621.2" cy="579.4" r="5"/><circle cx="616.3" cy="589.3" r="5"/><circle cx="620.4" cy="600.8" r="5"/><circle cx="615.5" cy="609.0" r="5"/><circle cx="608.9" cy="618.9" r="5"/></g>
<g fill="#fff"><ellipse cx="639.4" cy="565.5" rx="1.4" ry="2.4"/><ellipse cx="622.7" cy="608.2" rx="0.6" ry="1.1"/><ellipse cx="612.0" cy="636.6" rx="0.9" ry="1.5"/><ellipse cx="631.4" cy="588.6" rx="0.8" ry="1.0"/><ellipse cx="587.2" cy="598.6" rx="0.9" ry="0.9"/><ellipse cx="632.6" cy="579.2" rx="0.7" ry="0.7"/><ellipse cx="628.0" cy="589.1" rx="1.0" ry="1.4"/><ellipse cx="633.1" cy="585.2" rx="0.9" ry="1.4"/><ellipse cx="640.8" cy="567.1" rx="1.4" ry="2.3"/><ellipse cx="592.4" cy="590.5" rx="1.1" ry="1.2"/><ellipse cx="615.3" cy="622.3" rx="1.1" ry="1.5"/><ellipse cx="601.1" cy="587.2" rx="1.2" ry="1.4"/><ellipse cx="596.6" cy="581.9" rx="1.5" ry="2.4"/><ellipse cx="576.9" cy="579.2" rx="0.6" ry="1.0"/><ellipse cx="602.4" cy="593.0" rx="1.0" ry="1.1"/><ellipse cx="610.0" cy="648.3" rx="1.3" ry="1.7"/><ellipse cx="585.0" cy="595.1" rx="1.3" ry="1.6"/><ellipse cx="639.8" cy="573.6" rx="1.0" ry="1.3"/><ellipse cx="625.4" cy="601.9" rx="0.8" ry="1.0"/><ellipse cx="593.8" cy="589.0" rx="0.8" ry="1.1"/><ellipse cx="608.0" cy="653.9" rx="0.7" ry="1.4"/><ellipse cx="649.5" cy="556.8" rx="1.3" ry="1.5"/><ellipse cx="642.0" cy="566.9" rx="1.3" ry="2.3"/><ellipse cx="596.5" cy="587.6" rx="0.8" ry="0.8"/><ellipse cx="608.2" cy="656.1" rx="1.4" ry="2.6"/><ellipse cx="608.9" cy="653.7" rx="1.1" ry="1.2"/><ellipse cx="618.9" cy="617.5" rx="1.0" ry="1.5"/><ellipse cx="588.0" cy="596.7" rx="1.0" ry="1.4"/></g>
<path d="M658.5,723.8L658.5,560.8L658.5,560.8L662.3,567.4L664.0,592.4L667.3,577.2L668.9,580.9L675.5,582.5L682.0,590.7L684.5,605.5L687.0,580.9L688.6,580.5L695.2,564.1L701.8,557.5L708.3,550.9L714.9,542.7L721.5,534.5L724.3,531.7L724.3,531.7L724.3,723.8Z" fill="#CD6600" stroke="#CD6600" stroke-width="6.0" stroke-linejoin="round"/>
<g fill="#CD6600"><circle cx="691.1" cy="575.9" r="5"/><circle cx="660.9" cy="565.0" r="5"/><circle cx="707.3" cy="547.7" r="5"/><circle cx="676.0" cy="583.8" r="5"/><circle cx="694.2" cy="567.6" r="5"/><circle cx="699.9" cy="550.8" r="5"/><circle cx="673.7" cy="580.1" r="5"/><circle cx="707.6" cy="547.5" r="5"/><circle cx="707.0" cy="548.7" r="5"/><circle cx="678.3" cy="579.8" r="5"/><circle cx="720.9" cy="537.0" r="5"/><circle cx="722.2" cy="533.1" r="5"/><circle cx="666.1" cy="584.0" r="5"/><circle cx="712.5" cy="542.6" r="5"/><circle cx="669.8" cy="580.3" r="5"/><circle cx="702.2" cy="546.1" r="5"/><circle cx="682.4" cy="588.6" r="5"/><circle cx="676.5" cy="584.8" r="5"/><circle cx="671.0" cy="581.0" r="5"/><circle cx="700.9" cy="558.8" r="5"/><circle cx="671.1" cy="582.3" r="5"/><circle cx="666.0" cy="583.8" r="5"/><circle cx="681.1" cy="588.4" r="5"/><circle cx="672.5" cy="580.8" r="5"/><circle cx="689.2" cy="568.0" r="5"/><circle cx="692.3" cy="560.4" r="5"/><circle cx="691.3" cy="574.9" r="5"/><circle cx="699.2" cy="561.4" r="5"/><circle cx="671.5" cy="583.2" r="5"/><circle cx="706.3" cy="542.0" r="5"/><circle cx="686.8" cy="582.2" r="5"/><circle cx="688.3" cy="580.6" r="5"/><circle cx="705.6" cy="553.4" r="5"/><circle cx="670.4" cy="574.3" r="5"/><circle cx="697.9" cy="563.4" r="5"/><circle cx="716.0" cy="537.5" r="5"/><circle cx="683.6" cy="597.9" r="5"/><circle cx="720.6" cy="535.3" r="5"/><circle cx="688.7" cy="580.6" r="5"/><circle cx="696.7" cy="559.7" r="5"/><circle cx="708.5" cy="539.7" r="5"/><circle cx="670.0" cy="581.1" r="5"/><circle cx="716.1" cy="536.2" r="5"/><circle cx="699.0" cy="557.2" r="5"/><circle cx="682.7" cy="583.7" r="5"/><circle cx="696.4" cy="562.6" r="5"/><circle cx="672.4" cy="583.2" r="5"/><circle cx="719.1" cy="532.2" r="5"/><circle cx="662.2" cy="567.5" r="5"/><circle cx="691.8" cy="571.4" r="5"/><circle cx="684.2" cy="595.7" r="5"/><circle cx="683.3" cy="597.1" r="5"/><circle cx="721.2" cy="532.3" r="5"/><circle cx="691.6" cy="573.1" r="5"/><circle cx="685.8" cy="590.6" r="5"/><circle cx="711.8" cy="547.2" r="5"/><circle cx="684.7" cy="603.5" r="5"/><circle cx="684.2" cy="594.6" r="5"/><circle cx="695.7" cy="564.1" r="5"/><circle cx="682.2" cy="585.9" r="5"/><circle cx="671.0" cy="578.1" r="5"/><circle cx="661.9" cy="567.7" r="5"/><circle cx="664.4" cy="585.1" r="5"/><circle cx="670.1" cy="582.0" r="5"/><circle cx="664.3" cy="591.6" r="5"/><circle cx="708.4" cy="547.1" r="5"/><circle cx="719.9" cy="525.4" r="5"/><circle cx="696.5" cy="553.3" r="5"/><circle cx="666.4" cy="571.7" r="5"/><circle cx="688.8" cy="581.0" r="5"/><circle cx="709.3" cy="542.9" r="5"/><circle cx="685.7" cy="595.3" r="5"/><circle cx="717.5" cy="535.2" r="5"/><circle cx="699.5" cy="548.8" r="5"/><circle cx="663.0" cy="579.3" r="5"/><circle cx="668.6" cy="582.1" r="5"/><circle cx="706.8" cy="550.0" r="5"/><circle cx="667.8" cy="579.7" r="5"/><circle cx="672.3" cy="579.5" r="5"/><circle cx="704.4" cy="543.9" r="5"/><circle cx="684.0" cy="591.8" r="5"/><circle cx="688.9" cy="579.7" r="5"/><circle cx="677.0" cy="585.3" r="5"/><circle cx="724.1" cy="520.4" r="5"/><circle cx="706.6" cy="553.8" r="5"/><circle cx="672.2" cy="583.0" r="5"/><circle cx="683.4" cy="595.0" r="5"/><circle cx="664.3" cy="589.2" r="5"/><circle cx="705.0" cy="556.2" r="5"/><circle cx="655.7" cy="468.1" r="5"/><circle cx="655.7" cy="473.9" r="5"/><circle cx="691.4" cy="444.0" r="5"/><circle cx="666.9" cy="510.9" r="5"/><circle cx="671.4" cy="535.5" r="5"/><circle cx="716.6" cy="498.2" r="5"/><circle cx="724.0" cy="503.5" r="5"/><circle cx="709.7" cy="507.1" r="5"/><circle cx="698.5" cy="522.4" r="5"/><circle cx="695.2" cy="528.1" r="5"/><circle cx="696.8" cy="538.0" r="5"/><circle cx="691.1" cy="545.4" r="5"/><circle cx="686.2" cy="554.4" r="5"/><circle cx="688.6" cy="563.5" r="5"/><circle cx="692.7" cy="572.5" r="5"/><circle cx="655.7" cy="551.1" r="5"/><circle cx="664.0" cy="556.9" r="5"/><circle cx="668.9" cy="564.3" r="5"/><circle cx="678.8" cy="567.6" r="5"/><circle cx="710.0" cy="531.4" r="5"/><circle cx="718.2" cy="523.2" r="5"/><circle cx="723.1" cy="516.6" r="5"/><circle cx="672.2" cy="575.8" r="5"/><circle cx="664.0" cy="575.8" r="5"/></g>
<g fill="#fff"><ellipse cx="687.8" cy="589.6" rx="1.1" ry="1.6"/><ellipse cx="714.2" cy="559.0" rx="0.9" ry="1.2"/><ellipse cx="717.9" cy="563.7" rx="1.4" ry="2.1"/><ellipse cx="670.0" cy="583.9" rx="0.9" ry="1.5"/><ellipse cx="661.8" cy="575.4" rx="1.3" ry="1.9"/><ellipse cx="661.8" cy="575.5" rx="1.0" ry="1.6"/><ellipse cx="695.6" cy="572.0" rx="1.0" ry="1.8"/><ellipse cx="718.6" cy="565.4" rx="1.2" ry="1.5"/><ellipse cx="684.0" cy="606.3" rx="1.4" ry="2.4"/><ellipse cx="708.6" cy="566.6" rx="1.5" ry="2.4"/><ellipse cx="680.5" cy="597.4" rx="0.8" ry="1.3"/><ellipse cx="671.0" cy="591.0" rx="1.0" ry="1.3"/><ellipse cx="716.7" cy="543.7" rx="1.4" ry="2.4"/><ellipse cx="670.4" cy="589.9" rx="1.1" ry="2.0"/><ellipse cx="696.6" cy="568.0" rx="1.4" ry="1.6"/><ellipse cx="708.0" cy="554.1" rx="0.8" ry="0.9"/><ellipse cx="713.6" cy="555.7" rx="1.3" ry="1.5"/><ellipse cx="705.2" cy="565.2" rx="0.7" ry="1.0"/><ellipse cx="704.7" cy="558.9" rx="1.2" ry="1.5"/><ellipse cx="683.7" cy="610.6" rx="1.4" ry="2.7"/><ellipse cx="687.0" cy="587.6" rx="1.3" ry="2.2"/></g>
<path d="M730.3,723.8L730.3,521.4L730.3,521.4L733.0,567.4L737.9,575.6L742.9,554.2L747.8,567.4L750.3,605.5L754.4,626.9L757.7,640.0L760.1,613.7L762.6,597.3L765.9,575.6L767.5,589.1L770.8,567.4L775.7,534.5L782.3,531.7L787.2,524.0L793.8,511.1L800.4,513.7L800.4,521.4L800.4,521.4L800.4,723.8Z" fill="#00BFFF" stroke="#00BFFF" stroke-width="6.0" stroke-linejoin="round"/>
<g fill="#00BFFF"><circle cx="764.1" cy="580.6" r="5"/><circle cx="760.2" cy="602.0" r="5"/><circle cx="765.2" cy="581.4" r="5"/><circle cx="784.4" cy="529.4" r="5"/><circle cx="779.6" cy="534.5" r="5"/><circle cx="801.1" cy="517.6" r="5"/><circle cx="783.8" cy="530.5" r="5"/><circle cx="776.6" cy="533.9" r="5"/><circle cx="749.6" cy="590.4" r="5"/><circle cx="734.6" cy="569.1" r="5"/><circle cx="738.3" cy="567.2" r="5"/><circle cx="794.5" cy="513.1" r="5"/><circle cx="764.6" cy="582.9" r="5"/><circle cx="782.3" cy="527.2" r="5"/><circle cx="756.2" cy="624.0" r="5"/><circle cx="745.2" cy="561.8" r="5"/><circle cx="789.0" cy="521.5" r="5"/><circle cx="745.2" cy="559.4" r="5"/><circle cx="755.7" cy="633.5" r="5"/><circle cx="797.0" cy="508.1" r="5"/><circle cx="787.0" cy="524.4" r="5"/><circle cx="795.8" cy="511.4" r="5"/><circle cx="795.4" cy="504.3" r="5"/><circle cx="799.9" cy="501.5" r="5"/><circle cx="776.2" cy="532.8" r="5"/><circle cx="791.8" cy="511.7" r="5"/><circle cx="739.1" cy="561.3" r="5"/><circle cx="788.4" cy="515.3" r="5"/><circle cx="784.1" cy="529.3" r="5"/><circle cx="764.5" cy="578.5" r="5"/><circle cx="799.3" cy="496.6" r="5"/><circle cx="743.5" cy="552.7" r="5"/><circle cx="770.9" cy="566.6" r="5"/><circle cx="744.0" cy="558.5" r="5"/><circle cx="765.0" cy="580.1" r="5"/><circle cx="750.9" cy="609.0" r="5"/><circle cx="770.9" cy="562.5" r="5"/><circle cx="773.3" cy="551.8" r="5"/><circle cx="794.0" cy="508.6" r="5"/><circle cx="799.1" cy="496.6" r="5"/><circle cx="742.1" cy="555.7" r="5"/><circle cx="799.6" cy="510.8" r="5"/><circle cx="770.4" cy="570.3" r="5"/><circle cx="734.3" cy="570.5" r="5"/><circle cx="740.9" cy="563.1" r="5"/><circle cx="776.1" cy="532.6" r="5"/><circle cx="798.3" cy="503.7" r="5"/><circle cx="757.5" cy="628.5" r="5"/><circle cx="776.4" cy="532.6" r="5"/><circle cx="792.3" cy="505.6" r="5"/><circle cx="757.4" cy="636.8" r="5"/><circle cx="753.2" cy="609.8" r="5"/><circle cx="749.3" cy="579.7" r="5"/><circle cx="736.8" cy="575.6" r="5"/><circle cx="770.8" cy="568.3" r="5"/><circle cx="767.6" cy="589.8" r="5"/><circle cx="790.5" cy="510.1" r="5"/><circle cx="779.9" cy="522.4" r="5"/><circle cx="801.4" cy="514.9" r="5"/><circle cx="781.9" cy="533.8" r="5"/><circle cx="735.7" cy="571.4" r="5"/><circle cx="799.7" cy="511.9" r="5"/><circle cx="771.9" cy="562.2" r="5"/><circle cx="761.2" cy="597.8" r="5"/><circle cx="773.3" cy="544.7" r="5"/><circle cx="733.2" cy="568.7" r="5"/><circle cx="744.8" cy="553.3" r="5"/><circle cx="739.4" cy="559.2" r="5"/><circle cx="750.9" cy="601.4" r="5"/><circle cx="768.2" cy="584.9" r="5"/><circle cx="799.6" cy="510.4" r="5"/><circle cx="780.8" cy="533.9" r="5"/><circle cx="790.1" cy="503.2" r="5"/><circle cx="740.0" cy="562.5" r="5"/><circle cx="751.1" cy="611.3" r="5"/><circle cx="757.7" cy="637.2" r="5"/><circle cx="798.7" cy="496.3" r="5"/><circle cx="801.5" cy="516.1" r="5"/><circle cx="777.8" cy="534.7" r="5"/><circle cx="782.8" cy="528.7" r="5"/><circle cx="757.3" cy="630.2" r="5"/><circle cx="750.1" cy="603.7" r="5"/><circle cx="743.3" cy="556.7" r="5"/><circle cx="773.3" cy="545.7" r="5"/><circle cx="743.4" cy="554.6" r="5"/><circle cx="772.3" cy="555.8" r="5"/><circle cx="761.0" cy="606.2" r="5"/><circle cx="733.4" cy="569.7" r="5"/><circle cx="761.7" cy="603.9" r="5"/><circle cx="785.0" cy="527.8" r="5"/><circle cx="789.6" cy="519.0" r="5"/><circle cx="738.7" cy="571.1" r="5"/><circle cx="759.3" cy="622.9" r="5"/><circle cx="785.6" cy="527.0" r="5"/><circle cx="778.9" cy="526.7" r="5"/><circle cx="783.6" cy="409.8" r="5"/><circle cx="799.6" cy="438.1" r="5"/><circle cx="794.6" cy="449.2" r="5"/><circle cx="789.7" cy="452.5" r="5"/><circle cx="794.6" cy="464.0" r="5"/><circle cx="794.6" cy="471.4" r="5"/><circle cx="745.3" cy="471.4" r="5"/><circle cx="766.7" cy="475.5" r="5"/><circle cx="766.7" cy="480.5" r="5"/><circle cx="766.7" cy="487.9" r="5"/><circle cx="729.7" cy="489.5" r="5"/><circle cx="729.7" cy="495.3" r="5"/><circle cx="729.7" cy="508.4" r="5"/><circle cx="729.7" cy="521.6" r="5"/><circle cx="745.3" cy="514.7" r="5"/><circle cx="779.0" cy="496.9" r="5"/><circle cx="786.4" cy="505.1" r="5"/><circle cx="794.6" cy="493.6" r="5"/><circle cx="779.0" cy="523.2" r="5"/><circle cx="766.7" cy="531.4" r="5"/><circle cx="762.6" cy="548.7" r="5"/><circle cx="768.3" cy="555.3" r="5"/><circle cx="757.7" cy="573.3" r="5"/><circle cx="744.5" cy="542.9" r="5"/><circle cx="744.5" cy="552.8" r="5"/><circle cx="729.7" cy="539.6" r="5"/><circle cx="729.7" cy="551.1" r="5"/><circle cx="733.0" cy="559.4" r="5"/><circle cx="762.6" cy="548.2" r="5"/><circle cx="768.3" cy="555.6" r="5"/><circle cx="757.7" cy="572.9" r="5"/></g>
<g fill="#fff"><ellipse cx="762.3" cy="605.1" rx="1.4" ry="2.2"/><ellipse cx="744.9" cy="561.4" rx="0.7" ry="0.9"/><ellipse cx="739.0" cy="578.5" rx="1.0" ry="1.3"/><ellipse cx="766.1" cy="588.1" rx="0.8" ry="0.9"/><ellipse cx="752.9" cy="623.4" rx="1.4" ry="2.3"/><ellipse cx="760.8" cy="611.9" rx="0.6" ry="0.7"/><ellipse cx="787.6" cy="548.9" rx="0.7" ry="1.2"/><ellipse cx="737.0" cy="580.2" rx="0.9" ry="1.0"/><ellipse cx="780.9" cy="556.8" rx="1.1" ry="1.2"/><ellipse cx="776.2" cy="548.9" rx="1.2" ry="1.3"/><ellipse cx="791.2" cy="512.7" rx="0.8" ry="1.1"/><ellipse cx="746.0" cy="564.5" rx="1.2" ry="2.3"/><ellipse cx="754.8" cy="632.2" rx="1.2" ry="1.4"/><ellipse cx="759.0" cy="633.7" rx="1.0" ry="1.1"/><ellipse cx="737.8" cy="581.8" rx="1.5" ry="2.7"/><ellipse cx="739.7" cy="573.9" rx="1.0" ry="1.2"/><ellipse cx="776.2" cy="550.8" rx="1.3" ry="1.7"/><ellipse cx="793.2" cy="551.2" rx="1.0" ry="1.2"/><ellipse cx="764.3" cy="588.2" rx="1.2" ry="2.0"/><ellipse cx="770.4" cy="581.1" rx="0.6" ry="1.1"/><ellipse cx="784.6" cy="531.8" rx="0.9" ry="0.9"/><ellipse cx="770.7" cy="576.5" rx="0.9" ry="1.5"/></g>
<path d="M806.4,723.8L806.4,527.8L806.4,527.8L806.4,534.5L810.2,529.1L813.1,531.7L813.5,550.9L816.4,559.1L816.8,575.6L819.7,583.8L820.1,589.1L823.4,638.4L824.7,597.3L826.7,597.3L832.9,589.1L833.3,589.1L839.4,594.0L841.1,575.6L849.3,569.0L857.5,567.4L864.1,550.9L869.0,524.0L875.5,521.4L875.5,542.7L875.5,542.7L875.5,723.8Z" fill="#FFA500" stroke="#FFA500" stroke-width="6.0" stroke-linejoin="round"/>
<g fill="#FFA500"><circle cx="833.6" cy="585.7" r="5"/><circle cx="827.4" cy="585.4" r="5"/><circle cx="838.4" cy="595.2" r="5"/><circle cx="814.7" cy="550.3" r="5"/><circle cx="867.7" cy="526.7" r="5"/><circle cx="819.1" cy="574.7" r="5"/><circle cx="857.6" cy="568.7" r="5"/><circle cx="834.5" cy="587.1" r="5"/><circle cx="808.6" cy="533.0" r="5"/><circle cx="832.7" cy="582.0" r="5"/><circle cx="876.7" cy="543.0" r="5"/><circle cx="870.8" cy="514.4" r="5"/><circle cx="867.7" cy="527.3" r="5"/><circle cx="874.9" cy="515.9" r="5"/><circle cx="873.4" cy="518.1" r="5"/><circle cx="821.9" cy="614.4" r="5"/><circle cx="841.5" cy="575.4" r="5"/><circle cx="834.0" cy="588.5" r="5"/><circle cx="848.7" cy="570.3" r="5"/><circle cx="827.4" cy="595.2" r="5"/><circle cx="843.0" cy="573.6" r="5"/><circle cx="854.0" cy="569.2" r="5"/><circle cx="844.9" cy="573.1" r="5"/><circle cx="861.2" cy="554.6" r="5"/><circle cx="862.0" cy="555.0" r="5"/><circle cx="825.5" cy="587.6" r="5"/><circle cx="843.4" cy="573.6" r="5"/><circle cx="828.3" cy="594.8" r="5"/><circle cx="857.0" cy="561.8" r="5"/><circle cx="841.5" cy="571.3" r="5"/><circle cx="823.0" cy="631.8" r="5"/><circle cx="833.0" cy="589.4" r="5"/><circle cx="833.1" cy="584.8" r="5"/><circle cx="858.7" cy="565.4" r="5"/><circle cx="824.4" cy="599.5" r="5"/><circle cx="853.3" cy="565.1" r="5"/><circle cx="852.0" cy="565.2" r="5"/><circle cx="827.1" cy="598.5" r="5"/><circle cx="833.1" cy="590.9" r="5"/><circle cx="874.4" cy="518.3" r="5"/><circle cx="854.4" cy="557.0" r="5"/><circle cx="863.6" cy="553.1" r="5"/><circle cx="831.5" cy="592.4" r="5"/><circle cx="863.0" cy="549.7" r="5"/><circle cx="841.9" cy="574.9" r="5"/><circle cx="826.9" cy="596.0" r="5"/><circle cx="857.2" cy="559.3" r="5"/><circle cx="866.6" cy="528.7" r="5"/><circle cx="838.5" cy="592.8" r="5"/><circle cx="829.9" cy="582.0" r="5"/><circle cx="821.0" cy="603.3" r="5"/><circle cx="827.7" cy="586.5" r="5"/><circle cx="866.9" cy="534.3" r="5"/><circle cx="866.8" cy="526.6" r="5"/><circle cx="837.7" cy="593.7" r="5"/><circle cx="861.4" cy="557.5" r="5"/><circle cx="816.6" cy="557.0" r="5"/><circle cx="838.6" cy="593.0" r="5"/><circle cx="849.2" cy="569.7" r="5"/><circle cx="809.8" cy="529.0" r="5"/><circle cx="834.4" cy="592.0" r="5"/><circle cx="833.9" cy="585.2" r="5"/><circle cx="831.2" cy="588.1" r="5"/><circle cx="851.2" cy="569.7" r="5"/><circle cx="809.8" cy="525.6" r="5"/><circle cx="850.3" cy="569.2" r="5"/><circle cx="822.1" cy="612.7" r="5"/><circle cx="870.8" cy="523.4" r="5"/><circle cx="848.6" cy="567.7" r="5"/><circle cx="830.5" cy="594.1" r="5"/><circle cx="830.7" cy="589.3" r="5"/><circle cx="849.7" cy="567.7" r="5"/><circle cx="816.8" cy="575.2" r="5"/><circle cx="829.8" cy="592.8" r="5"/><circle cx="833.3" cy="580.7" r="5"/><circle cx="816.4" cy="547.9" r="5"/><circle cx="824.9" cy="590.6" r="5"/><circle cx="825.1" cy="595.3" r="5"/><circle cx="834.3" cy="591.7" r="5"/><circle cx="863.0" cy="548.1" r="5"/><circle cx="826.9" cy="592.3" r="5"/><circle cx="841.3" cy="564.4" r="5"/><circle cx="812.1" cy="530.3" r="5"/><circle cx="824.0" cy="615.4" r="5"/><circle cx="861.8" cy="550.5" r="5"/><circle cx="846.0" cy="571.4" r="5"/><circle cx="863.3" cy="554.5" r="5"/><circle cx="826.2" cy="593.0" r="5"/><circle cx="838.6" cy="582.4" r="5"/><circle cx="814.6" cy="553.3" r="5"/><circle cx="823.0" cy="634.1" r="5"/><circle cx="814.8" cy="556.1" r="5"/><circle cx="833.7" cy="588.9" r="5"/><circle cx="804.2" cy="446.3" r="5"/><circle cx="807.0" cy="477.2" r="5"/><circle cx="809.4" cy="484.6" r="5"/><circle cx="810.2" cy="496.9" r="5"/><circle cx="805.3" cy="503.5" r="5"/><circle cx="830.8" cy="486.2" r="5"/><circle cx="830.8" cy="512.5" r="5"/><circle cx="811.1" cy="516.6" r="5"/><circle cx="820.1" cy="519.9" r="5"/><circle cx="820.1" cy="531.4" r="5"/><circle cx="830.8" cy="533.1" r="5"/><circle cx="826.7" cy="542.9" r="5"/><circle cx="830.8" cy="551.1" r="5"/><circle cx="820.1" cy="559.4" r="5"/><circle cx="830.8" cy="572.5" r="5"/><circle cx="836.5" cy="574.2" r="5"/><circle cx="830.8" cy="584.0" r="5"/><circle cx="873.1" cy="446.8" r="5"/><circle cx="873.1" cy="452.5" r="5"/><circle cx="830.4" cy="486.2" r="5"/><circle cx="847.7" cy="487.0" r="5"/><circle cx="873.1" cy="487.0" r="5"/><circle cx="873.1" cy="495.3" r="5"/><circle cx="872.3" cy="510.1" r="5"/><circle cx="830.4" cy="512.5" r="5"/><circle cx="853.4" cy="513.3" r="5"/><circle cx="863.3" cy="516.6" r="5"/><circle cx="811.5" cy="516.6" r="5"/><circle cx="819.7" cy="519.9" r="5"/><circle cx="823.0" cy="533.1" r="5"/><circle cx="831.2" cy="533.1" r="5"/><circle cx="826.3" cy="542.9" r="5"/><circle cx="846.0" cy="536.4" r="5"/><circle cx="854.2" cy="531.4" r="5"/><circle cx="851.0" cy="546.2" r="5"/><circle cx="867.4" cy="534.7" r="5"/><circle cx="830.4" cy="552.8" r="5"/><circle cx="819.7" cy="552.8" r="5"/><circle cx="842.7" cy="561.0" r="5"/><circle cx="819.7" cy="569.2" r="5"/><circle cx="831.2" cy="572.5" r="5"/><circle cx="836.2" cy="574.2" r="5"/><circle cx="831.2" cy="585.7" r="5"/></g>
<g fill="#fff"><ellipse cx="841.4" cy="579.2" rx="1.2" ry="1.8"/><ellipse cx="871.4" cy="528.4" rx="1.1" ry="1.5"/><ellipse cx="832.9" cy="598.7" rx="0.8" ry="1.4"/><ellipse cx="832.0" cy="594.6" rx="1.2" ry="1.7"/><ellipse cx="827.3" cy="598.3" rx="1.5" ry="1.9"/><ellipse cx="816.6" cy="574.4" rx="1.1" ry="1.4"/><ellipse cx="830.1" cy="602.2" rx="0.9" ry="1.2"/><ellipse cx="869.8" cy="537.1" rx="1.0" ry="1.1"/><ellipse cx="851.2" cy="576.3" rx="1.0" ry="1.4"/><ellipse cx="824.1" cy="624.9" rx="1.0" ry="1.8"/><ellipse cx="833.1" cy="597.4" rx="0.6" ry="0.7"/><ellipse cx="870.0" cy="550.6" rx="1.2" ry="1.7"/><ellipse cx="839.2" cy="596.8" rx="0.8" ry="1.2"/><ellipse cx="853.2" cy="571.8" rx="1.2" ry="1.3"/><ellipse cx="848.1" cy="572.7" rx="1.1" ry="1.4"/><ellipse cx="844.1" cy="575.5" rx="1.0" ry="1.6"/><ellipse cx="817.9" cy="582.7" rx="1.2" ry="1.8"/><ellipse cx="848.3" cy="578.6" rx="1.1" ry="1.3"/><ellipse cx="837.3" cy="601.6" rx="1.1" ry="1.9"/><ellipse cx="832.4" cy="595.2" rx="1.5" ry="2.6"/><ellipse cx="850.6" cy="570.8" rx="1.2" ry="1.2"/><ellipse cx="868.3" cy="563.8" rx="1.3" ry="1.6"/></g>
<path d="M881.5,723.8L881.5,541.1L881.5,541.1L885.5,550.9L888.8,567.4L892.0,575.6L898.6,583.8L905.2,575.6L908.5,559.1L913.4,527.8L920.0,531.7L924.9,542.7L929.8,567.4L934.8,564.1L938.1,531.7L941.5,529.1L941.5,529.1L941.5,723.8Z" fill="#228B22" stroke="#228B22" stroke-width="6.0" stroke-linejoin="round"/>
<g fill="#228B22"><circle cx="933.8" cy="565.8" r="5"/><circle cx="932.8" cy="564.1" r="5"/><circle cx="884.4" cy="540.4" r="5"/><circle cx="909.7" cy="545.2" r="5"/><circle cx="924.5" cy="540.2" r="5"/><circle cx="934.8" cy="564.7" r="5"/><circle cx="937.0" cy="542.4" r="5"/><circle cx="885.0" cy="550.0" r="5"/><circle cx="887.4" cy="562.4" r="5"/><circle cx="920.6" cy="534.2" r="5"/><circle cx="893.0" cy="577.2" r="5"/><circle cx="900.1" cy="572.6" r="5"/><circle cx="937.4" cy="531.0" r="5"/><circle cx="942.4" cy="527.9" r="5"/><circle cx="930.9" cy="567.2" r="5"/><circle cx="938.6" cy="524.9" r="5"/><circle cx="927.1" cy="554.3" r="5"/><circle cx="888.9" cy="558.2" r="5"/><circle cx="916.4" cy="526.4" r="5"/><circle cx="934.8" cy="565.3" r="5"/><circle cx="925.1" cy="542.9" r="5"/><circle cx="930.3" cy="566.3" r="5"/><circle cx="895.2" cy="568.5" r="5"/><circle cx="900.2" cy="577.6" r="5"/><circle cx="933.0" cy="566.0" r="5"/><circle cx="924.9" cy="542.3" r="5"/><circle cx="896.8" cy="582.5" r="5"/><circle cx="940.3" cy="529.6" r="5"/><circle cx="913.8" cy="526.0" r="5"/><circle cx="885.1" cy="545.7" r="5"/><circle cx="927.8" cy="549.9" r="5"/><circle cx="904.7" cy="577.1" r="5"/><circle cx="904.2" cy="572.9" r="5"/><circle cx="922.7" cy="537.1" r="5"/><circle cx="914.7" cy="529.6" r="5"/><circle cx="938.2" cy="530.5" r="5"/><circle cx="913.7" cy="520.9" r="5"/><circle cx="895.3" cy="575.9" r="5"/><circle cx="904.5" cy="570.9" r="5"/><circle cx="889.1" cy="568.8" r="5"/><circle cx="921.3" cy="533.3" r="5"/><circle cx="905.9" cy="570.0" r="5"/><circle cx="896.5" cy="580.5" r="5"/><circle cx="883.6" cy="541.1" r="5"/><circle cx="898.6" cy="577.8" r="5"/><circle cx="916.4" cy="526.5" r="5"/><circle cx="920.7" cy="534.4" r="5"/><circle cx="929.7" cy="567.3" r="5"/><circle cx="934.8" cy="558.6" r="5"/><circle cx="923.9" cy="534.6" r="5"/><circle cx="909.5" cy="549.4" r="5"/><circle cx="940.2" cy="531.0" r="5"/><circle cx="889.5" cy="568.8" r="5"/><circle cx="913.8" cy="529.1" r="5"/><circle cx="896.7" cy="574.3" r="5"/><circle cx="906.6" cy="569.9" r="5"/><circle cx="894.4" cy="576.6" r="5"/><circle cx="894.8" cy="578.1" r="5"/><circle cx="915.5" cy="527.8" r="5"/><circle cx="913.5" cy="519.2" r="5"/><circle cx="884.5" cy="538.5" r="5"/><circle cx="895.4" cy="581.5" r="5"/><circle cx="929.2" cy="562.2" r="5"/><circle cx="915.5" cy="529.7" r="5"/><circle cx="930.0" cy="567.6" r="5"/><circle cx="926.8" cy="552.7" r="5"/><circle cx="917.6" cy="526.8" r="5"/><circle cx="905.6" cy="572.5" r="5"/><circle cx="887.4" cy="557.8" r="5"/><circle cx="924.6" cy="543.3" r="5"/><circle cx="916.3" cy="524.3" r="5"/><circle cx="889.5" cy="563.0" r="5"/><circle cx="935.3" cy="560.8" r="5"/><circle cx="898.3" cy="585.0" r="5"/><circle cx="898.5" cy="585.3" r="5"/><circle cx="912.6" cy="532.6" r="5"/><circle cx="901.4" cy="579.6" r="5"/><circle cx="905.6" cy="568.5" r="5"/><circle cx="926.5" cy="552.1" r="5"/><circle cx="896.8" cy="583.5" r="5"/><circle cx="903.1" cy="579.7" r="5"/><circle cx="925.0" cy="538.2" r="5"/><circle cx="895.8" cy="413.9" r="5"/><circle cx="896.2" cy="436.9" r="5"/><circle cx="922.0" cy="435.3" r="5"/><circle cx="895.8" cy="455.0" r="5"/><circle cx="895.8" cy="470.6" r="5"/><circle cx="880.5" cy="470.6" r="5"/><circle cx="882.2" cy="475.5" r="5"/><circle cx="901.1" cy="482.9" r="5"/><circle cx="901.1" cy="488.7" r="5"/><circle cx="924.9" cy="467.3" r="5"/><circle cx="924.9" cy="473.9" r="5"/><circle cx="924.9" cy="479.6" r="5"/><circle cx="941.4" cy="456.6" r="5"/><circle cx="941.4" cy="476.4" r="5"/><circle cx="940.5" cy="484.6" r="5"/><circle cx="934.5" cy="493.3" r="5"/><circle cx="901.9" cy="501.8" r="5"/><circle cx="915.1" cy="501.0" r="5"/><circle cx="897.0" cy="507.6" r="5"/><circle cx="901.9" cy="511.7" r="5"/><circle cx="890.4" cy="518.3" r="5"/><circle cx="901.9" cy="523.2" r="5"/><circle cx="915.1" cy="513.3" r="5"/><circle cx="924.9" cy="513.3" r="5"/><circle cx="941.4" cy="508.4" r="5"/><circle cx="939.7" cy="518.3" r="5"/><circle cx="882.2" cy="534.7" r="5"/><circle cx="892.0" cy="533.1" r="5"/><circle cx="901.9" cy="534.7" r="5"/><circle cx="900.3" cy="546.2" r="5"/><circle cx="892.0" cy="546.2" r="5"/><circle cx="882.2" cy="552.8" r="5"/><circle cx="900.3" cy="559.4" r="5"/><circle cx="928.2" cy="531.4" r="5"/><circle cx="915.1" cy="526.5" r="5"/></g>
<g fill="#fff"><ellipse cx="938.3" cy="539.1" rx="0.6" ry="1.1"/><ellipse cx="906.7" cy="578.2" rx="1.0" ry="1.2"/><ellipse cx="888.4" cy="576.2" rx="1.1" ry="1.5"/><ellipse cx="908.1" cy="569.7" rx="1.3" ry="1.9"/><ellipse cx="894.1" cy="583.2" rx="1.4" ry="1.9"/><ellipse cx="920.2" cy="551.4" rx="1.0" ry="1.5"/><ellipse cx="897.7" cy="589.3" rx="1.4" ry="1.5"/><ellipse cx="904.4" cy="586.4" rx="1.5" ry="1.5"/><ellipse cx="918.4" cy="553.0" rx="1.4" ry="1.9"/><ellipse cx="891.6" cy="578.4" rx="1.2" ry="2.1"/><ellipse cx="895.5" cy="587.4" rx="1.2" ry="1.9"/><ellipse cx="885.7" cy="560.6" rx="0.9" ry="1.4"/><ellipse cx="902.7" cy="581.0" rx="1.2" ry="1.5"/><ellipse cx="927.2" cy="559.8" rx="1.1" ry="1.9"/><ellipse cx="890.7" cy="580.6" rx="0.7" ry="1.2"/><ellipse cx="885.9" cy="565.8" rx="0.9" ry="1.1"/><ellipse cx="905.8" cy="578.4" rx="1.0" ry="1.1"/><ellipse cx="912.7" cy="542.1" rx="1.5" ry="2.0"/><ellipse cx="908.0" cy="564.8" rx="1.5" ry="1.9"/></g>
<path d="M947.5,723.8L947.5,531.7L947.5,531.7L951.2,534.5L953.7,583.8L954.5,580.9L957.8,613.7L961.1,638.4L962.7,661.4L964.4,630.2L966.0,605.5L967.7,597.3L974.2,585.8L980.8,567.4L985.7,559.1L990.7,550.9L997.2,560.8L1002.2,542.7L1008.5,537.8L1008.5,567.4L1008.5,567.4L1008.5,723.8Z" fill="#CD5555" stroke="#CD5555" stroke-width="6.0" stroke-linejoin="round"/>
<g fill="#CD5555"><circle cx="986.3" cy="552.1" r="5"/><circle cx="971.9" cy="585.5" r="5"/><circle cx="965.4" cy="616.3" r="5"/><circle cx="951.9" cy="547.6" r="5"/><circle cx="999.3" cy="554.2" r="5"/><circle cx="974.6" cy="580.3" r="5"/><circle cx="965.2" cy="618.3" r="5"/><circle cx="979.1" cy="571.7" r="5"/><circle cx="1003.0" cy="533.8" r="5"/><circle cx="963.1" cy="653.1" r="5"/><circle cx="973.2" cy="589.4" r="5"/><circle cx="974.8" cy="575.0" r="5"/><circle cx="966.8" cy="599.8" r="5"/><circle cx="990.0" cy="553.8" r="5"/><circle cx="1002.2" cy="544.2" r="5"/><circle cx="966.7" cy="598.5" r="5"/><circle cx="950.6" cy="533.8" r="5"/><circle cx="956.7" cy="602.1" r="5"/><circle cx="950.4" cy="535.0" r="5"/><circle cx="962.2" cy="655.4" r="5"/><circle cx="954.7" cy="583.5" r="5"/><circle cx="979.0" cy="573.7" r="5"/><circle cx="996.3" cy="559.0" r="5"/><circle cx="963.9" cy="640.6" r="5"/><circle cx="997.4" cy="562.1" r="5"/><circle cx="991.8" cy="554.2" r="5"/><circle cx="1003.3" cy="541.4" r="5"/><circle cx="983.6" cy="555.8" r="5"/><circle cx="955.2" cy="589.8" r="5"/><circle cx="989.0" cy="551.7" r="5"/><circle cx="990.6" cy="551.6" r="5"/><circle cx="977.8" cy="576.8" r="5"/><circle cx="974.4" cy="585.8" r="5"/><circle cx="982.9" cy="564.3" r="5"/><circle cx="965.2" cy="615.6" r="5"/><circle cx="954.4" cy="576.1" r="5"/><circle cx="977.8" cy="576.7" r="5"/><circle cx="956.1" cy="595.2" r="5"/><circle cx="978.2" cy="570.9" r="5"/><circle cx="970.8" cy="591.4" r="5"/><circle cx="1000.4" cy="549.8" r="5"/><circle cx="1005.4" cy="532.1" r="5"/><circle cx="1005.9" cy="528.9" r="5"/><circle cx="964.2" cy="628.5" r="5"/><circle cx="984.4" cy="562.4" r="5"/><circle cx="1006.4" cy="536.8" r="5"/><circle cx="995.7" cy="556.7" r="5"/><circle cx="954.0" cy="575.6" r="5"/><circle cx="959.5" cy="627.2" r="5"/><circle cx="984.6" cy="562.0" r="5"/><circle cx="975.9" cy="577.6" r="5"/><circle cx="955.0" cy="582.7" r="5"/><circle cx="955.5" cy="589.5" r="5"/><circle cx="986.5" cy="554.6" r="5"/><circle cx="952.0" cy="550.4" r="5"/><circle cx="1004.2" cy="540.9" r="5"/><circle cx="973.7" cy="586.6" r="5"/><circle cx="989.2" cy="549.3" r="5"/><circle cx="986.6" cy="557.4" r="5"/><circle cx="982.0" cy="564.2" r="5"/><circle cx="960.2" cy="620.9" r="5"/><circle cx="1004.5" cy="536.1" r="5"/><circle cx="1006.1" cy="538.8" r="5"/><circle cx="997.3" cy="561.2" r="5"/><circle cx="991.8" cy="549.0" r="5"/><circle cx="1003.0" cy="536.0" r="5"/><circle cx="999.6" cy="552.7" r="5"/><circle cx="994.4" cy="555.6" r="5"/><circle cx="967.3" cy="598.9" r="5"/><circle cx="995.0" cy="551.2" r="5"/><circle cx="997.6" cy="556.3" r="5"/><circle cx="959.2" cy="625.6" r="5"/><circle cx="981.9" cy="566.5" r="5"/><circle cx="968.7" cy="597.0" r="5"/><circle cx="958.3" cy="614.1" r="5"/><circle cx="962.2" cy="648.3" r="5"/><circle cx="968.3" cy="589.7" r="5"/><circle cx="966.7" cy="602.4" r="5"/><circle cx="972.0" cy="591.6" r="5"/><circle cx="974.3" cy="585.4" r="5"/><circle cx="950.2" cy="526.7" r="5"/><circle cx="970.9" cy="593.7" r="5"/><circle cx="1004.2" cy="541.9" r="5"/><circle cx="946.3" cy="458.3" r="5"/><circle cx="948.8" cy="465.7" r="5"/><circle cx="946.3" cy="471.4" r="5"/><circle cx="947.9" cy="490.3" r="5"/><circle cx="990.7" cy="492.0" r="5"/><circle cx="1004.3" cy="496.1" r="5"/><circle cx="1007.9" cy="524.8" r="5"/><circle cx="986.6" cy="527.3" r="5"/><circle cx="979.2" cy="543.8" r="5"/><circle cx="967.7" cy="572.5" r="5"/><circle cx="966.8" cy="582.4" r="5"/><circle cx="947.9" cy="524.8" r="5"/><circle cx="949.6" cy="534.7" r="5"/><circle cx="951.2" cy="546.2" r="5"/><circle cx="951.2" cy="559.4" r="5"/><circle cx="952.0" cy="572.5" r="5"/><circle cx="992.3" cy="534.7" r="5"/><circle cx="1002.2" cy="534.7" r="5"/><circle cx="989.0" cy="546.2" r="5"/><circle cx="966.8" cy="572.1" r="5"/><circle cx="966.8" cy="584.4" r="5"/></g>
<g fill="#fff"><ellipse cx="964.4" cy="630.7" rx="0.7" ry="1.1"/><ellipse cx="982.5" cy="570.6" rx="0.8" ry="1.0"/><ellipse cx="1003.9" cy="552.0" rx="1.5" ry="2.7"/><ellipse cx="957.4" cy="618.9" rx="0.6" ry="1.0"/><ellipse cx="995.0" cy="567.4" rx="1.1" ry="1.9"/><ellipse cx="959.0" cy="629.1" rx="0.8" ry="1.1"/><ellipse cx="961.0" cy="646.1" rx="1.1" ry="1.9"/><ellipse cx="985.1" cy="567.6" rx="1.4" ry="2.5"/><ellipse cx="981.7" cy="570.2" rx="1.4" ry="1.9"/><ellipse cx="956.1" cy="601.3" rx="1.2" ry="2.3"/><ellipse cx="986.0" cy="567.5" rx="1.4" ry="2.5"/><ellipse cx="975.0" cy="589.3" rx="1.3" ry="1.7"/><ellipse cx="956.5" cy="608.4" rx="1.3" ry="1.6"/><ellipse cx="988.1" cy="569.3" rx="0.7" ry="0.8"/><ellipse cx="977.6" cy="580.6" rx="1.5" ry="2.8"/><ellipse cx="975.0" cy="592.5" rx="1.2" ry="1.4"/><ellipse cx="1003.9" cy="546.8" rx="0.7" ry="0.9"/><ellipse cx="951.5" cy="553.7" rx="1.0" ry="1.8"/><ellipse cx="973.3" cy="597.0" rx="1.3" ry="2.0"/><ellipse cx="963.6" cy="649.2" rx="1.0" ry="1.4"/></g></g>
<line x1="99.3" x2="1034.2" y1="418.6" y2="418.6" stroke="#FF0000" stroke-width="5" stroke-dasharray="15.4 5.3"/>
<rect x="96.4" y="397.6" width="946.7" height="338.8" fill="none" stroke="#666" stroke-width="1.8"/>
<text transform="translate(76.2,411.1) rotate(-90) scale(1,1.00)" text-anchor="middle" font-family="Liberation Sans, Arial, sans-serif" font-size="20.5" fill="#1c1c1c">5</text><text transform="translate(76.2,473.7) rotate(-90) scale(1,1.00)" text-anchor="middle" font-family="Liberation Sans, Arial, sans-serif" font-size="20.5" fill="#1c1c1c">4</text><text transform="translate(76.2,536.2) rotate(-90) scale(1,1.00)" text-anchor="middle" font-family="Liberation Sans, Arial, sans-serif" font-size="20.5" fill="#1c1c1c">3</text><text transform="translate(76.2,598.8) rotate(-90) scale(1,1.00)" text-anchor="middle" font-family="Liberation Sans, Arial, sans-serif" font-size="20.5" fill="#1c1c1c">2</text><text transform="translate(76.2,661.3) rotate(-90) scale(1,1.00)" text-anchor="middle" font-family="Liberation Sans, Arial, sans-serif" font-size="20.5" fill="#1c1c1c">1</text>
<text transform="translate(36.9,623.9) rotate(-90)" font-family="Liberation Sans, Arial, sans-serif" fill="#1c1c1c" font-size="26.5"><tspan x="-1.33" y="1.59" font-size="28.4">−</tspan><tspan x="17.60 24.67 41.39" y="0">log</tspan><tspan x="56.96" y="7.16" font-size="15.9">10</tspan><tspan x="73.88" y="0.79" font-size="31.3">(</tspan><tspan x="88.64" y="0" font-style="italic">p</tspan><tspan x="103.95" y="0.79" font-size="31.3">)</tspan></text>
<text x="196.4" y="766.9" text-anchor="middle" font-family="Liberation Sans, Arial, sans-serif" font-size="19.3" fill="#1c1c1c">1</text><text x="309.6" y="766.9" text-anchor="middle" font-family="Liberation Sans, Arial, sans-serif" font-size="19.3" fill="#1c1c1c">2</text><text x="417.0" y="766.9" text-anchor="middle" font-family="Liberation Sans, Arial, sans-serif" font-size="19.3" fill="#1c1c1c">3</text><text x="517.7" y="766.9" text-anchor="middle" font-family="Liberation Sans, Arial, sans-serif" font-size="19.3" fill="#1c1c1c">4</text><text x="608.0" y="766.9" text-anchor="middle" font-family="Liberation Sans, Arial, sans-serif" font-size="19.3" fill="#1c1c1c">5</text><text x="702.3" y="766.9" text-anchor="middle" font-family="Liberation Sans, Arial, sans-serif" font-size="19.3" fill="#1c1c1c">6</text><text x="772.0" y="766.9" text-anchor="middle" font-family="Liberation Sans, Arial, sans-serif" font-size="19.3" fill="#1c1c1c">7</text><text x="848.0" y="766.9" text-anchor="middle" font-family="Liberation Sans, Arial, sans-serif" font-size="19.3" fill="#1c1c1c">8</text><text x="917.6" y="766.9" text-anchor="middle" font-family="Liberation Sans, Arial, sans-serif" font-size="19.3" fill="#1c1c1c">9</text><text x="983.2" y="766.9" text-anchor="middle" font-family="Liberation Sans, Arial, sans-serif" font-size="19.3" fill="#1c1c1c">10</text>
<text x="4.5" y="429.0" font-family="Liberation Serif, Times New Roman, serif" font-size="62.0" fill="#000">c</text>
<g class="m"><path d="M130.5,1113.8L130.5,968.9L130.5,968.9L133.1,962.4L136.4,945.9L139.7,921.3L144.7,922.9L147.9,954.1L151.2,914.6L157.8,912.1L161.1,937.7L166.0,945.9L169.3,970.6L172.6,995.5L177.5,1008.7L182.5,1020.2L185.7,1031.7L190.7,1020.2L192.3,995.5L195.6,987.3L202.2,984.0L212.0,987.3L221.9,985.7L226.8,954.1L231.8,945.9L241.6,945.9L248.2,955.8L255.0,955.8L255.0,955.8L255.0,1113.8Z" fill="#CD6600" stroke="#CD6600" stroke-width="6.0" stroke-linejoin="round"/>
<g fill="#CD6600"><circle cx="212.6" cy="986.1" r="5"/><circle cx="172.6" cy="993.0" r="5"/><circle cx="256.1" cy="956.8" r="5"/><circle cx="174.1" cy="1001.5" r="5"/><circle cx="144.1" cy="924.5" r="5"/><circle cx="184.9" cy="1022.7" r="5"/><circle cx="219.0" cy="975.1" r="5"/><circle cx="236.3" cy="944.0" r="5"/><circle cx="204.5" cy="986.7" r="5"/><circle cx="180.1" cy="1015.2" r="5"/><circle cx="209.5" cy="988.1" r="5"/><circle cx="199.7" cy="985.1" r="5"/><circle cx="193.5" cy="992.2" r="5"/><circle cx="145.2" cy="923.9" r="5"/><circle cx="231.7" cy="943.9" r="5"/><circle cx="146.9" cy="941.7" r="5"/><circle cx="240.5" cy="934.9" r="5"/><circle cx="226.6" cy="957.7" r="5"/><circle cx="241.4" cy="943.0" r="5"/><circle cx="166.8" cy="942.3" r="5"/><circle cx="234.9" cy="937.8" r="5"/><circle cx="163.2" cy="939.3" r="5"/><circle cx="179.5" cy="1013.7" r="5"/><circle cx="226.9" cy="951.7" r="5"/><circle cx="173.6" cy="996.8" r="5"/><circle cx="247.6" cy="953.1" r="5"/><circle cx="245.8" cy="950.4" r="5"/><circle cx="255.5" cy="957.7" r="5"/><circle cx="189.5" cy="1021.2" r="5"/><circle cx="222.6" cy="970.1" r="5"/><circle cx="209.8" cy="985.6" r="5"/><circle cx="211.1" cy="985.6" r="5"/><circle cx="219.9" cy="975.0" r="5"/><circle cx="134.2" cy="957.2" r="5"/><circle cx="241.2" cy="947.7" r="5"/><circle cx="230.5" cy="949.9" r="5"/><circle cx="212.9" cy="981.9" r="5"/><circle cx="162.0" cy="939.1" r="5"/><circle cx="160.6" cy="929.8" r="5"/><circle cx="198.1" cy="983.9" r="5"/><circle cx="172.9" cy="994.3" r="5"/><circle cx="250.9" cy="951.0" r="5"/><circle cx="250.5" cy="956.5" r="5"/><circle cx="196.5" cy="986.7" r="5"/><circle cx="175.4" cy="997.7" r="5"/><circle cx="154.2" cy="910.4" r="5"/><circle cx="228.5" cy="941.1" r="5"/><circle cx="134.8" cy="954.6" r="5"/><circle cx="193.6" cy="981.8" r="5"/><circle cx="152.7" cy="904.9" r="5"/><circle cx="181.8" cy="1017.0" r="5"/><circle cx="247.6" cy="956.5" r="5"/><circle cx="173.4" cy="998.8" r="5"/><circle cx="149.1" cy="940.2" r="5"/><circle cx="219.4" cy="984.2" r="5"/><circle cx="147.6" cy="945.6" r="5"/><circle cx="195.4" cy="989.1" r="5"/><circle cx="234.2" cy="940.2" r="5"/><circle cx="159.4" cy="912.5" r="5"/><circle cx="233.0" cy="946.8" r="5"/><circle cx="132.6" cy="956.6" r="5"/><circle cx="234.9" cy="947.5" r="5"/><circle cx="227.5" cy="948.3" r="5"/><circle cx="211.1" cy="980.9" r="5"/><circle cx="254.6" cy="956.0" r="5"/><circle cx="235.9" cy="936.5" r="5"/><circle cx="171.4" cy="983.1" r="5"/><circle cx="217.4" cy="979.9" r="5"/><circle cx="202.8" cy="984.8" r="5"/><circle cx="163.7" cy="940.5" r="5"/><circle cx="149.3" cy="930.6" r="5"/><circle cx="242.8" cy="948.4" r="5"/><circle cx="219.0" cy="983.1" r="5"/><circle cx="147.6" cy="946.2" r="5"/><circle cx="227.5" cy="953.4" r="5"/><circle cx="144.7" cy="923.6" r="5"/><circle cx="228.2" cy="951.1" r="5"/><circle cx="233.6" cy="947.1" r="5"/><circle cx="145.7" cy="933.0" r="5"/><circle cx="241.6" cy="947.1" r="5"/><circle cx="141.6" cy="917.6" r="5"/><circle cx="143.8" cy="919.7" r="5"/><circle cx="142.8" cy="923.0" r="5"/><circle cx="214.8" cy="979.5" r="5"/><circle cx="183.2" cy="1022.2" r="5"/><circle cx="136.4" cy="946.5" r="5"/><circle cx="162.5" cy="935.1" r="5"/><circle cx="221.1" cy="980.9" r="5"/><circle cx="198.4" cy="982.5" r="5"/><circle cx="148.3" cy="949.8" r="5"/><circle cx="168.8" cy="967.5" r="5"/><circle cx="224.2" cy="972.2" r="5"/><circle cx="172.8" cy="996.7" r="5"/><circle cx="239.6" cy="943.4" r="5"/><circle cx="192.1" cy="998.7" r="5"/><circle cx="246.8" cy="943.0" r="5"/><circle cx="188.3" cy="1024.1" r="5"/><circle cx="239.5" cy="946.6" r="5"/><circle cx="164.6" cy="945.0" r="5"/><circle cx="194.7" cy="984.9" r="5"/><circle cx="151.9" cy="913.0" r="5"/><circle cx="255.3" cy="954.8" r="5"/><circle cx="179.9" cy="1008.0" r="5"/><circle cx="243.1" cy="948.0" r="5"/><circle cx="147.8" cy="950.4" r="5"/><circle cx="224.3" cy="960.7" r="5"/><circle cx="214.3" cy="987.3" r="5"/><circle cx="196.4" cy="987.4" r="5"/><circle cx="187.8" cy="1026.0" r="5"/><circle cx="245.6" cy="943.3" r="5"/><circle cx="247.4" cy="953.6" r="5"/><circle cx="252.1" cy="957.1" r="5"/><circle cx="246.7" cy="951.0" r="5"/><circle cx="240.7" cy="945.5" r="5"/><circle cx="255.4" cy="957.7" r="5"/><circle cx="237.6" cy="940.2" r="5"/><circle cx="178.9" cy="1005.9" r="5"/><circle cx="159.0" cy="915.6" r="5"/><circle cx="190.6" cy="1020.0" r="5"/><circle cx="156.9" cy="904.0" r="5"/><circle cx="223.1" cy="979.4" r="5"/><circle cx="253.8" cy="956.7" r="5"/><circle cx="179.0" cy="1011.8" r="5"/><circle cx="204.0" cy="976.7" r="5"/><circle cx="249.7" cy="953.3" r="5"/><circle cx="177.8" cy="1010.9" r="5"/><circle cx="141.0" cy="920.4" r="5"/><circle cx="204.8" cy="984.2" r="5"/><circle cx="254.3" cy="955.4" r="5"/><circle cx="176.0" cy="1004.2" r="5"/><circle cx="153.8" cy="900.8" r="5"/><circle cx="205.8" cy="983.7" r="5"/><circle cx="185.3" cy="1030.8" r="5"/><circle cx="171.6" cy="987.0" r="5"/><circle cx="187.8" cy="1015.8" r="5"/><circle cx="202.3" cy="985.0" r="5"/><circle cx="139.2" cy="926.7" r="5"/><circle cx="175.4" cy="998.1" r="5"/><circle cx="242.8" cy="948.4" r="5"/><circle cx="229.3" cy="949.5" r="5"/><circle cx="199.2" cy="984.1" r="5"/><circle cx="137.8" cy="937.6" r="5"/><circle cx="215.3" cy="983.5" r="5"/><circle cx="179.7" cy="1004.3" r="5"/><circle cx="234.2" cy="946.3" r="5"/><circle cx="140.8" cy="920.0" r="5"/><circle cx="213.6" cy="987.9" r="5"/><circle cx="137.9" cy="933.7" r="5"/><circle cx="136.7" cy="939.7" r="5"/><circle cx="210.1" cy="987.2" r="5"/><circle cx="187.8" cy="1027.8" r="5"/><circle cx="155.6" cy="913.7" r="5"/><circle cx="233.6" cy="945.2" r="5"/><circle cx="221.2" cy="985.9" r="5"/><circle cx="232.5" cy="943.9" r="5"/><circle cx="213.6" cy="986.8" r="5"/><circle cx="202.2" cy="985.1" r="5"/><circle cx="253.2" cy="952.8" r="5"/><circle cx="198.5" cy="983.3" r="5"/><circle cx="144.9" cy="925.6" r="5"/><circle cx="161.1" cy="931.4" r="5"/><circle cx="134.1" cy="957.0" r="5"/><circle cx="240.2" cy="941.1" r="5"/><circle cx="133.1" cy="870.2" r="5"/><circle cx="152.1" cy="884.0" r="5"/><circle cx="167.3" cy="884.5" r="5"/><circle cx="177.5" cy="892.7" r="5"/><circle cx="177.5" cy="898.5" r="5"/><circle cx="177.5" cy="914.1" r="5"/><circle cx="134.0" cy="896.0" r="5"/><circle cx="142.2" cy="896.8" r="5"/><circle cx="159.4" cy="894.4" r="5"/><circle cx="139.7" cy="907.5" r="5"/><circle cx="166.0" cy="911.6" r="5"/><circle cx="169.3" cy="937.9" r="5"/><circle cx="171.0" cy="941.2" r="5"/><circle cx="233.1" cy="873.8" r="5"/><circle cx="233.1" cy="881.2" r="5"/><circle cx="253.1" cy="879.6" r="5"/><circle cx="257.2" cy="885.3" r="5"/><circle cx="240.0" cy="898.5" r="5"/><circle cx="249.8" cy="901.8" r="5"/><circle cx="255.6" cy="908.3" r="5"/><circle cx="215.3" cy="908.3" r="5"/><circle cx="211.2" cy="912.5" r="5"/><circle cx="218.6" cy="913.3" r="5"/><circle cx="225.2" cy="916.6" r="5"/><circle cx="240.8" cy="918.2" r="5"/><circle cx="233.4" cy="921.5" r="5"/><circle cx="240.8" cy="924.8" r="5"/><circle cx="202.2" cy="923.1" r="5"/><circle cx="202.2" cy="931.4" r="5"/><circle cx="215.3" cy="928.1" r="5"/><circle cx="215.3" cy="936.3" r="5"/><circle cx="202.2" cy="943.7" r="5"/><circle cx="217.0" cy="941.2" r="5"/><circle cx="217.0" cy="952.7" r="5"/><circle cx="202.2" cy="954.4" r="5"/><circle cx="208.8" cy="960.9" r="5"/><circle cx="220.3" cy="964.2" r="5"/><circle cx="191.5" cy="968.3" r="5"/><circle cx="177.5" cy="971.6" r="5"/><circle cx="179.2" cy="980.7" r="5"/><circle cx="182.5" cy="987.2" r="5"/><circle cx="230.9" cy="933.0" r="5"/><circle cx="244.9" cy="934.6" r="5"/><circle cx="256.4" cy="921.5" r="5"/><circle cx="256.4" cy="931.4" r="5"/><circle cx="251.5" cy="942.9" r="5"/><circle cx="177.5" cy="971.1" r="5"/><circle cx="179.2" cy="979.3" r="5"/><circle cx="182.5" cy="988.3" r="5"/><circle cx="191.5" cy="967.8" r="5"/><circle cx="190.7" cy="999.0" r="5"/></g>
<g fill="#fff"><ellipse cx="218.7" cy="990.2" rx="0.8" ry="1.3"/><ellipse cx="168.9" cy="975.7" rx="0.9" ry="1.5"/><ellipse cx="201.4" cy="993.6" rx="1.5" ry="2.0"/><ellipse cx="250.4" cy="956.9" rx="1.4" ry="1.4"/><ellipse cx="198.1" cy="990.9" rx="1.3" ry="1.7"/><ellipse cx="158.2" cy="943.8" rx="1.1" ry="1.8"/><ellipse cx="191.5" cy="1009.4" rx="1.3" ry="1.5"/><ellipse cx="189.4" cy="1024.1" rx="0.8" ry="1.3"/><ellipse cx="224.1" cy="979.3" rx="1.0" ry="1.7"/><ellipse cx="212.8" cy="990.2" rx="1.1" ry="1.7"/><ellipse cx="219.9" cy="989.0" rx="0.9" ry="1.2"/><ellipse cx="144.9" cy="935.9" rx="1.3" ry="1.9"/><ellipse cx="154.0" cy="941.3" rx="0.7" ry="1.2"/><ellipse cx="151.0" cy="920.3" rx="0.8" ry="1.2"/><ellipse cx="165.5" cy="957.0" rx="1.4" ry="1.8"/><ellipse cx="222.4" cy="990.7" rx="1.1" ry="1.4"/><ellipse cx="246.0" cy="963.1" rx="0.6" ry="0.8"/><ellipse cx="171.5" cy="990.5" rx="1.0" ry="1.8"/><ellipse cx="136.3" cy="956.8" rx="0.9" ry="0.9"/><ellipse cx="240.1" cy="950.1" rx="0.8" ry="0.9"/><ellipse cx="177.0" cy="1009.5" rx="0.8" ry="0.9"/><ellipse cx="202.0" cy="989.6" rx="0.9" ry="1.3"/><ellipse cx="225.2" cy="972.6" rx="0.9" ry="1.7"/><ellipse cx="227.3" cy="960.1" rx="1.0" ry="1.3"/><ellipse cx="149.4" cy="954.4" rx="1.1" ry="1.2"/><ellipse cx="243.2" cy="958.1" rx="0.6" ry="1.0"/><ellipse cx="161.7" cy="949.1" rx="1.4" ry="1.8"/><ellipse cx="192.6" cy="1002.6" rx="0.8" ry="1.2"/><ellipse cx="183.9" cy="1036.0" rx="0.8" ry="1.3"/><ellipse cx="138.4" cy="938.7" rx="0.7" ry="0.8"/><ellipse cx="196.1" cy="989.8" rx="1.3" ry="1.4"/><ellipse cx="207.3" cy="995.3" rx="0.7" ry="0.9"/></g>
<path d="M261.0,1113.8L261.0,954.1L261.0,954.1L264.6,962.4L271.2,970.6L276.1,978.8L277.8,987.3L284.4,995.5L290.9,984.0L300.8,987.3L305.7,993.9L312.3,997.2L315.6,984.0L317.2,978.8L323.8,975.5L328.7,945.9L332.0,918.5L338.6,917.2L345.2,919.8L346.8,945.9L353.4,962.4L356.5,954.1L356.5,954.1L356.5,1113.8Z" fill="#00BFFF" stroke="#00BFFF" stroke-width="6.0" stroke-linejoin="round"/>
<g fill="#00BFFF"><circle cx="335.7" cy="916.5" r="5"/><circle cx="351.6" cy="957.9" r="5"/><circle cx="300.8" cy="976.3" r="5"/><circle cx="295.7" cy="974.6" r="5"/><circle cx="347.6" cy="949.0" r="5"/><circle cx="314.9" cy="976.2" r="5"/><circle cx="274.2" cy="969.0" r="5"/><circle cx="336.6" cy="912.4" r="5"/><circle cx="320.1" cy="978.9" r="5"/><circle cx="354.0" cy="962.2" r="5"/><circle cx="337.4" cy="912.7" r="5"/><circle cx="293.2" cy="981.6" r="5"/><circle cx="302.0" cy="984.7" r="5"/><circle cx="267.1" cy="955.3" r="5"/><circle cx="299.5" cy="981.6" r="5"/><circle cx="307.8" cy="989.4" r="5"/><circle cx="291.6" cy="982.7" r="5"/><circle cx="265.4" cy="962.3" r="5"/><circle cx="270.5" cy="962.9" r="5"/><circle cx="327.3" cy="953.8" r="5"/><circle cx="355.6" cy="945.6" r="5"/><circle cx="353.9" cy="962.7" r="5"/><circle cx="329.9" cy="932.3" r="5"/><circle cx="320.6" cy="979.1" r="5"/><circle cx="350.8" cy="955.2" r="5"/><circle cx="319.5" cy="972.1" r="5"/><circle cx="289.1" cy="989.0" r="5"/><circle cx="350.7" cy="956.3" r="5"/><circle cx="266.9" cy="966.5" r="5"/><circle cx="357.5" cy="950.1" r="5"/><circle cx="282.9" cy="995.0" r="5"/><circle cx="348.3" cy="946.7" r="5"/><circle cx="318.4" cy="979.6" r="5"/><circle cx="302.3" cy="978.3" r="5"/><circle cx="263.3" cy="958.9" r="5"/><circle cx="268.4" cy="956.1" r="5"/><circle cx="272.9" cy="962.4" r="5"/><circle cx="342.9" cy="914.5" r="5"/><circle cx="267.0" cy="962.0" r="5"/><circle cx="309.8" cy="994.9" r="5"/><circle cx="276.8" cy="980.9" r="5"/><circle cx="339.2" cy="918.7" r="5"/><circle cx="346.2" cy="936.0" r="5"/><circle cx="288.3" cy="989.4" r="5"/><circle cx="306.7" cy="991.7" r="5"/><circle cx="317.1" cy="971.2" r="5"/><circle cx="311.6" cy="995.6" r="5"/><circle cx="356.9" cy="955.1" r="5"/><circle cx="264.6" cy="962.4" r="5"/><circle cx="292.8" cy="986.0" r="5"/><circle cx="302.7" cy="991.7" r="5"/><circle cx="350.5" cy="954.1" r="5"/><circle cx="346.5" cy="937.1" r="5"/><circle cx="332.3" cy="913.4" r="5"/><circle cx="291.7" cy="980.4" r="5"/><circle cx="282.6" cy="991.6" r="5"/><circle cx="319.6" cy="972.9" r="5"/><circle cx="278.9" cy="988.8" r="5"/><circle cx="341.3" cy="912.1" r="5"/><circle cx="355.9" cy="957.2" r="5"/><circle cx="283.0" cy="995.3" r="5"/><circle cx="331.8" cy="916.2" r="5"/><circle cx="324.6" cy="966.2" r="5"/><circle cx="312.0" cy="995.3" r="5"/><circle cx="350.5" cy="952.4" r="5"/><circle cx="325.3" cy="964.5" r="5"/><circle cx="309.9" cy="991.6" r="5"/><circle cx="317.4" cy="980.1" r="5"/><circle cx="303.5" cy="990.4" r="5"/><circle cx="304.1" cy="990.0" r="5"/><circle cx="297.4" cy="985.9" r="5"/><circle cx="303.6" cy="990.9" r="5"/><circle cx="355.3" cy="958.8" r="5"/><circle cx="264.6" cy="958.5" r="5"/><circle cx="300.5" cy="986.5" r="5"/><circle cx="319.2" cy="977.8" r="5"/><circle cx="285.7" cy="995.1" r="5"/><circle cx="346.0" cy="922.3" r="5"/><circle cx="290.2" cy="984.6" r="5"/><circle cx="293.8" cy="986.7" r="5"/><circle cx="347.8" cy="942.2" r="5"/><circle cx="285.9" cy="993.5" r="5"/><circle cx="329.3" cy="935.8" r="5"/><circle cx="307.6" cy="994.6" r="5"/><circle cx="285.2" cy="988.9" r="5"/><circle cx="345.0" cy="912.7" r="5"/><circle cx="273.9" cy="972.9" r="5"/><circle cx="356.6" cy="950.5" r="5"/><circle cx="306.6" cy="995.6" r="5"/><circle cx="268.7" cy="963.6" r="5"/><circle cx="269.5" cy="963.0" r="5"/><circle cx="326.2" cy="960.1" r="5"/><circle cx="347.7" cy="938.0" r="5"/><circle cx="321.6" cy="978.2" r="5"/><circle cx="318.9" cy="977.5" r="5"/><circle cx="286.7" cy="981.5" r="5"/><circle cx="332.4" cy="919.8" r="5"/><circle cx="284.7" cy="995.0" r="5"/><circle cx="317.4" cy="978.9" r="5"/><circle cx="304.8" cy="987.0" r="5"/><circle cx="280.3" cy="986.7" r="5"/><circle cx="294.4" cy="974.2" r="5"/><circle cx="353.4" cy="962.5" r="5"/><circle cx="320.6" cy="978.6" r="5"/><circle cx="302.0" cy="986.5" r="5"/><circle cx="323.6" cy="975.7" r="5"/><circle cx="266.2" cy="965.7" r="5"/><circle cx="316.2" cy="983.1" r="5"/><circle cx="292.1" cy="982.1" r="5"/><circle cx="348.6" cy="949.0" r="5"/><circle cx="287.2" cy="988.6" r="5"/><circle cx="289.2" cy="982.2" r="5"/><circle cx="277.8" cy="988.0" r="5"/><circle cx="304.7" cy="983.7" r="5"/><circle cx="278.7" cy="989.5" r="5"/><circle cx="275.5" cy="978.7" r="5"/><circle cx="294.6" cy="985.0" r="5"/><circle cx="335.2" cy="917.2" r="5"/><circle cx="308.1" cy="994.8" r="5"/><circle cx="336.6" cy="907.5" r="5"/><circle cx="303.4" cy="981.4" r="5"/><circle cx="286.8" cy="980.2" r="5"/><circle cx="312.9" cy="991.6" r="5"/><circle cx="299.2" cy="987.4" r="5"/><circle cx="275.8" cy="970.5" r="5"/><circle cx="297.2" cy="982.7" r="5"/><circle cx="341.1" cy="857.4" r="5"/><circle cx="342.7" cy="873.0" r="5"/><circle cx="359.2" cy="873.0" r="5"/><circle cx="334.5" cy="899.3" r="5"/><circle cx="261.4" cy="904.2" r="5"/><circle cx="260.5" cy="913.3" r="5"/><circle cx="261.4" cy="926.4" r="5"/><circle cx="265.5" cy="934.6" r="5"/><circle cx="320.9" cy="913.3" r="5"/><circle cx="322.2" cy="931.4" r="5"/><circle cx="348.5" cy="927.2" r="5"/><circle cx="356.7" cy="916.6" r="5"/><circle cx="358.3" cy="926.4" r="5"/><circle cx="274.5" cy="950.3" r="5"/><circle cx="291.8" cy="953.2" r="5"/><circle cx="284.4" cy="960.9" r="5"/><circle cx="277.8" cy="964.2" r="5"/><circle cx="292.6" cy="973.3" r="5"/><circle cx="300.8" cy="975.7" r="5"/><circle cx="305.7" cy="979.0" r="5"/><circle cx="305.7" cy="987.2" r="5"/><circle cx="292.6" cy="985.6" r="5"/><circle cx="320.5" cy="944.5" r="5"/><circle cx="320.5" cy="954.4" r="5"/><circle cx="315.6" cy="965.9" r="5"/><circle cx="356.7" cy="944.5" r="5"/><circle cx="359.5" cy="873.0" r="5"/><circle cx="357.4" cy="915.7" r="5"/><circle cx="356.6" cy="927.2" r="5"/></g>
<g fill="#fff"><ellipse cx="305.2" cy="999.5" rx="0.8" ry="0.9"/><ellipse cx="294.1" cy="992.9" rx="1.1" ry="1.1"/><ellipse cx="327.6" cy="958.0" rx="0.7" ry="0.8"/><ellipse cx="282.9" cy="1003.0" rx="1.1" ry="1.4"/><ellipse cx="286.2" cy="996.1" rx="0.9" ry="1.1"/><ellipse cx="334.8" cy="945.6" rx="1.2" ry="2.2"/><ellipse cx="322.5" cy="978.3" rx="0.6" ry="0.7"/><ellipse cx="287.1" cy="997.0" rx="1.3" ry="2.0"/><ellipse cx="302.5" cy="992.9" rx="1.5" ry="2.5"/><ellipse cx="294.5" cy="986.7" rx="1.5" ry="1.8"/><ellipse cx="339.9" cy="922.1" rx="1.2" ry="1.6"/><ellipse cx="343.6" cy="929.7" rx="0.7" ry="0.8"/><ellipse cx="336.1" cy="952.0" rx="1.2" ry="1.9"/><ellipse cx="289.2" cy="990.7" rx="0.7" ry="1.3"/><ellipse cx="267.9" cy="973.5" rx="0.9" ry="1.1"/><ellipse cx="303.0" cy="1000.6" rx="0.8" ry="0.9"/><ellipse cx="320.3" cy="984.8" rx="1.1" ry="1.2"/><ellipse cx="342.2" cy="922.9" rx="0.8" ry="0.9"/><ellipse cx="310.0" cy="1001.8" rx="1.1" ry="1.8"/><ellipse cx="344.0" cy="935.6" rx="0.6" ry="1.1"/><ellipse cx="265.7" cy="967.8" rx="0.7" ry="1.1"/><ellipse cx="334.0" cy="922.9" rx="0.9" ry="1.5"/><ellipse cx="325.7" cy="966.4" rx="1.2" ry="2.1"/><ellipse cx="300.6" cy="989.8" rx="1.2" ry="1.5"/><ellipse cx="276.0" cy="981.2" rx="1.0" ry="1.1"/></g>
<path d="M362.5,1113.8L362.5,914.6L362.5,914.6L366.4,913.4L373.0,914.6L379.6,922.9L382.9,945.9L387.8,962.4L389.4,970.9L392.7,987.3L397.7,970.9L402.6,987.3L405.9,997.2L410.8,979.1L412.5,955.8L415.7,937.7L420.7,955.8L427.3,954.1L433.8,952.5L438.8,941.0L443.7,926.2L448.6,942.6L455.2,934.4L456.5,945.9L456.5,945.9L456.5,1113.8Z" fill="#FFA500" stroke="#FFA500" stroke-width="6.0" stroke-linejoin="round"/>
<g fill="#FFA500"><circle cx="400.5" cy="978.7" r="5"/><circle cx="416.1" cy="938.8" r="5"/><circle cx="439.3" cy="940.9" r="5"/><circle cx="395.3" cy="968.5" r="5"/><circle cx="445.3" cy="922.2" r="5"/><circle cx="436.1" cy="945.9" r="5"/><circle cx="438.1" cy="940.6" r="5"/><circle cx="375.5" cy="918.0" r="5"/><circle cx="373.6" cy="905.4" r="5"/><circle cx="394.6" cy="980.7" r="5"/><circle cx="414.8" cy="944.3" r="5"/><circle cx="430.5" cy="948.2" r="5"/><circle cx="438.9" cy="932.9" r="5"/><circle cx="394.2" cy="983.8" r="5"/><circle cx="435.7" cy="944.8" r="5"/><circle cx="399.2" cy="976.2" r="5"/><circle cx="378.9" cy="915.8" r="5"/><circle cx="407.6" cy="985.5" r="5"/><circle cx="396.3" cy="975.8" r="5"/><circle cx="412.5" cy="951.5" r="5"/><circle cx="447.0" cy="937.4" r="5"/><circle cx="429.3" cy="953.3" r="5"/><circle cx="445.0" cy="926.3" r="5"/><circle cx="416.4" cy="940.2" r="5"/><circle cx="390.1" cy="966.4" r="5"/><circle cx="439.4" cy="939.5" r="5"/><circle cx="372.4" cy="915.2" r="5"/><circle cx="454.7" cy="936.9" r="5"/><circle cx="440.2" cy="935.2" r="5"/><circle cx="416.3" cy="938.2" r="5"/><circle cx="402.9" cy="986.4" r="5"/><circle cx="372.9" cy="902.0" r="5"/><circle cx="374.1" cy="917.1" r="5"/><circle cx="427.4" cy="951.5" r="5"/><circle cx="439.9" cy="934.2" r="5"/><circle cx="451.5" cy="940.8" r="5"/><circle cx="365.5" cy="914.0" r="5"/><circle cx="437.3" cy="945.6" r="5"/><circle cx="414.2" cy="941.7" r="5"/><circle cx="379.1" cy="920.8" r="5"/><circle cx="448.7" cy="938.3" r="5"/><circle cx="401.7" cy="983.4" r="5"/><circle cx="390.5" cy="965.0" r="5"/><circle cx="437.7" cy="940.4" r="5"/><circle cx="392.9" cy="982.7" r="5"/><circle cx="410.0" cy="976.8" r="5"/><circle cx="398.5" cy="966.1" r="5"/><circle cx="428.5" cy="953.1" r="5"/><circle cx="417.1" cy="937.4" r="5"/><circle cx="414.0" cy="936.5" r="5"/><circle cx="365.2" cy="901.8" r="5"/><circle cx="431.3" cy="952.1" r="5"/><circle cx="444.0" cy="928.4" r="5"/><circle cx="396.1" cy="972.6" r="5"/><circle cx="441.5" cy="932.7" r="5"/><circle cx="457.5" cy="943.2" r="5"/><circle cx="368.7" cy="915.0" r="5"/><circle cx="371.6" cy="911.3" r="5"/><circle cx="394.6" cy="981.7" r="5"/><circle cx="406.4" cy="997.1" r="5"/><circle cx="449.5" cy="935.4" r="5"/><circle cx="416.7" cy="940.7" r="5"/><circle cx="393.3" cy="983.2" r="5"/><circle cx="396.9" cy="962.3" r="5"/><circle cx="453.9" cy="932.2" r="5"/><circle cx="441.7" cy="933.7" r="5"/><circle cx="376.1" cy="918.1" r="5"/><circle cx="376.3" cy="917.8" r="5"/><circle cx="456.7" cy="939.8" r="5"/><circle cx="454.1" cy="936.6" r="5"/><circle cx="385.2" cy="955.7" r="5"/><circle cx="390.1" cy="975.8" r="5"/><circle cx="413.9" cy="948.4" r="5"/><circle cx="427.5" cy="952.4" r="5"/><circle cx="420.4" cy="955.0" r="5"/><circle cx="433.2" cy="949.4" r="5"/><circle cx="431.3" cy="952.3" r="5"/><circle cx="407.9" cy="990.4" r="5"/><circle cx="368.2" cy="911.8" r="5"/><circle cx="422.1" cy="956.5" r="5"/><circle cx="444.9" cy="922.8" r="5"/><circle cx="444.3" cy="922.7" r="5"/><circle cx="410.2" cy="982.6" r="5"/><circle cx="389.9" cy="968.9" r="5"/><circle cx="456.6" cy="947.4" r="5"/><circle cx="365.1" cy="913.1" r="5"/><circle cx="397.2" cy="970.5" r="5"/><circle cx="375.0" cy="909.1" r="5"/><circle cx="396.1" cy="967.3" r="5"/><circle cx="395.3" cy="979.2" r="5"/><circle cx="380.9" cy="921.4" r="5"/><circle cx="419.6" cy="946.0" r="5"/><circle cx="370.4" cy="911.4" r="5"/><circle cx="433.0" cy="941.7" r="5"/><circle cx="452.1" cy="939.8" r="5"/><circle cx="399.4" cy="965.6" r="5"/><circle cx="414.5" cy="933.5" r="5"/><circle cx="388.2" cy="966.3" r="5"/><circle cx="453.0" cy="937.8" r="5"/><circle cx="416.9" cy="942.0" r="5"/><circle cx="418.5" cy="937.6" r="5"/><circle cx="453.0" cy="929.7" r="5"/><circle cx="388.5" cy="960.3" r="5"/><circle cx="366.2" cy="912.1" r="5"/><circle cx="452.8" cy="938.1" r="5"/><circle cx="398.8" cy="972.8" r="5"/><circle cx="386.6" cy="954.9" r="5"/><circle cx="425.5" cy="956.1" r="5"/><circle cx="450.5" cy="941.9" r="5"/><circle cx="429.6" cy="953.6" r="5"/><circle cx="377.9" cy="922.1" r="5"/><circle cx="457.8" cy="940.7" r="5"/><circle cx="407.4" cy="986.5" r="5"/><circle cx="455.2" cy="924.7" r="5"/><circle cx="414.3" cy="946.3" r="5"/><circle cx="413.0" cy="941.9" r="5"/><circle cx="432.8" cy="949.8" r="5"/><circle cx="443.3" cy="927.0" r="5"/><circle cx="416.8" cy="934.9" r="5"/><circle cx="383.1" cy="939.9" r="5"/><circle cx="366.8" cy="910.6" r="5"/><circle cx="418.2" cy="948.2" r="5"/><circle cx="450.7" cy="939.4" r="5"/><circle cx="381.8" cy="938.1" r="5"/><circle cx="419.8" cy="952.0" r="5"/><circle cx="428.1" cy="846.7" r="5"/><circle cx="428.1" cy="853.3" r="5"/><circle cx="455.2" cy="873.0" r="5"/><circle cx="368.1" cy="878.8" r="5"/><circle cx="373.0" cy="890.3" r="5"/><circle cx="381.2" cy="887.8" r="5"/><circle cx="428.1" cy="894.4" r="5"/><circle cx="420.7" cy="895.2" r="5"/><circle cx="420.7" cy="901.8" r="5"/><circle cx="415.7" cy="907.5" r="5"/><circle cx="457.7" cy="905.1" r="5"/><circle cx="425.9" cy="914.9" r="5"/><circle cx="389.4" cy="916.6" r="5"/><circle cx="389.4" cy="937.9" r="5"/><circle cx="366.4" cy="901.8" r="5"/><circle cx="376.3" cy="908.3" r="5"/><circle cx="381.2" cy="910.0" r="5"/><circle cx="415.7" cy="926.4" r="5"/><circle cx="443.7" cy="916.6" r="5"/><circle cx="443.7" cy="926.4" r="5"/><circle cx="455.2" cy="926.4" r="5"/><circle cx="398.5" cy="958.5" r="5"/><circle cx="428.9" cy="944.5" r="5"/><circle cx="367.4" cy="878.8" r="5"/><circle cx="364.9" cy="885.3" r="5"/></g>
<g fill="#fff"><ellipse cx="365.8" cy="916.3" rx="1.2" ry="1.4"/><ellipse cx="388.0" cy="972.4" rx="1.4" ry="2.5"/><ellipse cx="380.9" cy="932.9" rx="1.3" ry="2.0"/><ellipse cx="397.6" cy="972.4" rx="1.0" ry="1.2"/><ellipse cx="417.2" cy="957.8" rx="0.8" ry="0.8"/><ellipse cx="426.6" cy="956.4" rx="0.8" ry="1.1"/><ellipse cx="452.3" cy="944.9" rx="0.9" ry="1.3"/><ellipse cx="379.8" cy="937.0" rx="1.2" ry="1.6"/><ellipse cx="435.6" cy="951.3" rx="0.7" ry="1.1"/><ellipse cx="405.4" cy="1005.8" rx="0.7" ry="1.2"/><ellipse cx="424.4" cy="959.6" rx="0.7" ry="1.1"/><ellipse cx="432.2" cy="958.6" rx="1.0" ry="1.7"/><ellipse cx="419.1" cy="955.3" rx="0.8" ry="1.1"/><ellipse cx="413.9" cy="958.0" rx="1.5" ry="2.2"/><ellipse cx="394.4" cy="984.9" rx="1.2" ry="1.9"/><ellipse cx="387.3" cy="968.6" rx="1.5" ry="2.0"/><ellipse cx="448.1" cy="948.8" rx="1.2" ry="2.1"/><ellipse cx="383.4" cy="952.2" rx="1.5" ry="1.6"/><ellipse cx="392.4" cy="991.6" rx="1.3" ry="2.0"/><ellipse cx="447.3" cy="951.2" rx="0.6" ry="0.6"/><ellipse cx="368.7" cy="929.7" rx="0.6" ry="0.9"/><ellipse cx="421.2" cy="958.7" rx="1.4" ry="1.9"/><ellipse cx="450.0" cy="947.5" rx="1.2" ry="1.7"/><ellipse cx="388.6" cy="975.5" rx="0.6" ry="0.7"/><ellipse cx="393.7" cy="993.8" rx="1.1" ry="1.1"/></g>
<path d="M462.5,1113.8L462.5,945.9L462.5,945.9L468.3,954.1L474.9,962.4L479.8,975.5L483.1,979.1L491.4,970.9L494.6,995.5L497.9,1020.2L501.2,1039.9L504.5,1053.1L506.1,1020.2L507.8,1003.7L514.4,978.8L514.4,995.5L520.9,962.4L527.5,955.8L535.7,949.2L544.0,945.9L547.2,962.4L552.2,970.6L557.1,962.4L557.5,954.1L557.5,954.1L557.5,1113.8Z" fill="#228B22" stroke="#228B22" stroke-width="6.0" stroke-linejoin="round"/>
<g fill="#228B22"><circle cx="492.8" cy="979.2" r="5"/><circle cx="540.9" cy="948.6" r="5"/><circle cx="538.1" cy="948.0" r="5"/><circle cx="514.0" cy="979.6" r="5"/><circle cx="505.9" cy="1013.6" r="5"/><circle cx="551.3" cy="960.0" r="5"/><circle cx="534.0" cy="947.2" r="5"/><circle cx="477.9" cy="972.1" r="5"/><circle cx="543.0" cy="943.3" r="5"/><circle cx="524.1" cy="959.5" r="5"/><circle cx="489.7" cy="963.1" r="5"/><circle cx="514.8" cy="995.4" r="5"/><circle cx="496.7" cy="1010.9" r="5"/><circle cx="470.9" cy="946.3" r="5"/><circle cx="549.8" cy="961.1" r="5"/><circle cx="464.9" cy="948.9" r="5"/><circle cx="475.0" cy="958.9" r="5"/><circle cx="541.0" cy="942.1" r="5"/><circle cx="539.3" cy="949.2" r="5"/><circle cx="465.8" cy="952.1" r="5"/><circle cx="544.1" cy="940.7" r="5"/><circle cx="513.3" cy="983.7" r="5"/><circle cx="545.5" cy="955.0" r="5"/><circle cx="495.2" cy="1001.8" r="5"/><circle cx="557.4" cy="956.2" r="5"/><circle cx="537.4" cy="943.3" r="5"/><circle cx="519.4" cy="959.1" r="5"/><circle cx="537.7" cy="938.7" r="5"/><circle cx="555.5" cy="966.6" r="5"/><circle cx="535.4" cy="950.3" r="5"/><circle cx="495.2" cy="999.6" r="5"/><circle cx="557.9" cy="955.9" r="5"/><circle cx="505.6" cy="1032.5" r="5"/><circle cx="558.8" cy="953.1" r="5"/><circle cx="530.8" cy="951.8" r="5"/><circle cx="537.0" cy="948.9" r="5"/><circle cx="503.6" cy="1045.2" r="5"/><circle cx="530.9" cy="945.2" r="5"/><circle cx="493.7" cy="982.2" r="5"/><circle cx="534.2" cy="948.6" r="5"/><circle cx="503.1" cy="1045.5" r="5"/><circle cx="471.8" cy="960.0" r="5"/><circle cx="493.9" cy="991.5" r="5"/><circle cx="469.1" cy="951.4" r="5"/><circle cx="533.6" cy="948.6" r="5"/><circle cx="484.0" cy="974.5" r="5"/><circle cx="542.5" cy="944.1" r="5"/><circle cx="486.0" cy="974.5" r="5"/><circle cx="501.8" cy="1042.8" r="5"/><circle cx="478.5" cy="965.0" r="5"/><circle cx="524.3" cy="948.9" r="5"/><circle cx="480.8" cy="977.1" r="5"/><circle cx="512.6" cy="987.1" r="5"/><circle cx="493.1" cy="982.2" r="5"/><circle cx="510.0" cy="986.4" r="5"/><circle cx="519.1" cy="969.3" r="5"/><circle cx="519.8" cy="963.2" r="5"/><circle cx="499.1" cy="1029.3" r="5"/><circle cx="557.2" cy="956.1" r="5"/><circle cx="476.5" cy="968.0" r="5"/><circle cx="485.5" cy="973.9" r="5"/><circle cx="476.9" cy="969.5" r="5"/><circle cx="511.2" cy="992.8" r="5"/><circle cx="489.0" cy="973.1" r="5"/><circle cx="483.9" cy="980.3" r="5"/><circle cx="489.1" cy="973.9" r="5"/><circle cx="495.1" cy="998.9" r="5"/><circle cx="498.5" cy="1023.9" r="5"/><circle cx="466.3" cy="945.1" r="5"/><circle cx="534.3" cy="949.3" r="5"/><circle cx="464.8" cy="949.9" r="5"/><circle cx="549.6" cy="965.6" r="5"/><circle cx="483.9" cy="972.6" r="5"/><circle cx="548.7" cy="966.3" r="5"/><circle cx="511.9" cy="986.6" r="5"/><circle cx="475.6" cy="964.4" r="5"/><circle cx="522.9" cy="957.3" r="5"/><circle cx="523.9" cy="957.1" r="5"/><circle cx="500.2" cy="1035.6" r="5"/><circle cx="466.0" cy="944.7" r="5"/><circle cx="546.2" cy="948.7" r="5"/><circle cx="471.7" cy="953.7" r="5"/><circle cx="480.7" cy="976.6" r="5"/><circle cx="483.4" cy="972.0" r="5"/><circle cx="541.9" cy="940.7" r="5"/><circle cx="500.5" cy="1025.5" r="5"/><circle cx="489.1" cy="971.3" r="5"/><circle cx="528.1" cy="956.1" r="5"/><circle cx="500.6" cy="1037.6" r="5"/><circle cx="539.8" cy="948.7" r="5"/><circle cx="477.4" cy="969.4" r="5"/><circle cx="525.0" cy="955.7" r="5"/><circle cx="514.1" cy="973.2" r="5"/><circle cx="535.6" cy="950.3" r="5"/><circle cx="515.0" cy="993.4" r="5"/><circle cx="487.3" cy="976.2" r="5"/><circle cx="471.8" cy="958.5" r="5"/><circle cx="548.3" cy="961.3" r="5"/><circle cx="472.8" cy="960.6" r="5"/><circle cx="520.4" cy="963.7" r="5"/><circle cx="467.0" cy="953.8" r="5"/><circle cx="518.0" cy="975.1" r="5"/><circle cx="472.1" cy="954.2" r="5"/><circle cx="487.2" cy="973.0" r="5"/><circle cx="514.6" cy="994.7" r="5"/><circle cx="553.9" cy="967.4" r="5"/><circle cx="504.5" cy="1051.5" r="5"/><circle cx="543.8" cy="935.0" r="5"/><circle cx="537.2" cy="947.1" r="5"/><circle cx="532.2" cy="949.4" r="5"/><circle cx="555.2" cy="954.6" r="5"/><circle cx="536.3" cy="949.9" r="5"/><circle cx="518.2" cy="975.5" r="5"/><circle cx="486.4" cy="971.0" r="5"/><circle cx="485.4" cy="973.3" r="5"/><circle cx="510.7" cy="992.1" r="5"/><circle cx="531.3" cy="949.0" r="5"/><circle cx="558.0" cy="943.1" r="5"/><circle cx="540.1" cy="948.1" r="5"/><circle cx="527.7" cy="954.5" r="5"/><circle cx="553.4" cy="967.9" r="5"/><circle cx="498.3" cy="1024.2" r="5"/><circle cx="508.9" cy="998.0" r="5"/><circle cx="493.6" cy="989.5" r="5"/><circle cx="510.2" cy="996.1" r="5"/><circle cx="480.7" cy="975.8" r="5"/><circle cx="460.9" cy="894.4" r="5"/><circle cx="476.9" cy="894.4" r="5"/><circle cx="465.1" cy="906.7" r="5"/><circle cx="473.3" cy="907.5" r="5"/><circle cx="460.9" cy="914.9" r="5"/><circle cx="476.6" cy="919.0" r="5"/><circle cx="501.2" cy="907.5" r="5"/><circle cx="488.1" cy="918.2" r="5"/><circle cx="492.2" cy="925.6" r="5"/><circle cx="507.8" cy="919.0" r="5"/><circle cx="507.8" cy="926.4" r="5"/><circle cx="507.8" cy="935.5" r="5"/><circle cx="507.8" cy="944.5" r="5"/><circle cx="541.5" cy="902.6" r="5"/><circle cx="558.7" cy="893.6" r="5"/><circle cx="557.9" cy="929.7" r="5"/><circle cx="542.3" cy="929.7" r="5"/><circle cx="539.0" cy="931.4" r="5"/><circle cx="521.8" cy="942.9" r="5"/><circle cx="466.7" cy="928.1" r="5"/><circle cx="463.4" cy="937.9" r="5"/><circle cx="476.6" cy="942.9" r="5"/><circle cx="491.4" cy="953.5" r="5"/><circle cx="488.1" cy="959.3" r="5"/><circle cx="507.8" cy="959.3" r="5"/><circle cx="504.5" cy="964.2" r="5"/><circle cx="507.8" cy="982.3" r="5"/><circle cx="501.2" cy="985.6" r="5"/><circle cx="558.7" cy="939.6" r="5"/><circle cx="555.5" cy="954.4" r="5"/><circle cx="507.8" cy="982.6" r="5"/><circle cx="501.2" cy="985.1" r="5"/><circle cx="507.8" cy="994.1" r="5"/><circle cx="497.9" cy="1007.3" r="5"/><circle cx="500.4" cy="1015.5" r="5"/></g>
<g fill="#fff"><ellipse cx="496.5" cy="1015.4" rx="1.1" ry="1.5"/><ellipse cx="477.4" cy="970.1" rx="1.1" ry="2.1"/><ellipse cx="490.5" cy="976.2" rx="0.9" ry="1.5"/><ellipse cx="509.4" cy="1006.6" rx="0.6" ry="0.7"/><ellipse cx="483.8" cy="983.1" rx="1.0" ry="1.3"/><ellipse cx="551.4" cy="974.8" rx="1.1" ry="2.1"/><ellipse cx="522.6" cy="967.6" rx="1.3" ry="1.8"/><ellipse cx="468.7" cy="965.2" rx="1.1" ry="1.6"/><ellipse cx="471.4" cy="966.5" rx="0.9" ry="1.5"/><ellipse cx="490.7" cy="981.7" rx="0.9" ry="1.2"/><ellipse cx="545.1" cy="954.7" rx="0.8" ry="1.2"/><ellipse cx="552.8" cy="971.7" rx="0.8" ry="1.4"/><ellipse cx="472.2" cy="964.1" rx="1.3" ry="2.1"/><ellipse cx="536.1" cy="951.2" rx="1.4" ry="1.9"/><ellipse cx="538.0" cy="954.0" rx="1.4" ry="2.0"/><ellipse cx="488.4" cy="976.3" rx="1.0" ry="1.1"/><ellipse cx="480.1" cy="985.5" rx="1.1" ry="2.0"/><ellipse cx="478.9" cy="978.9" rx="1.0" ry="1.1"/><ellipse cx="488.9" cy="983.5" rx="1.3" ry="1.8"/><ellipse cx="519.7" cy="978.0" rx="1.5" ry="2.2"/><ellipse cx="470.0" cy="965.9" rx="0.7" ry="0.9"/><ellipse cx="477.7" cy="975.9" rx="1.1" ry="1.6"/><ellipse cx="507.3" cy="1010.8" rx="1.2" ry="1.8"/><ellipse cx="493.0" cy="992.5" rx="1.4" ry="2.6"/><ellipse cx="553.2" cy="970.6" rx="0.9" ry="1.3"/></g>
<path d="M563.5,1113.8L563.5,939.4L563.5,939.4L568.6,936.1L571.9,962.4L576.8,978.8L580.1,979.1L586.7,989.0L590.0,993.9L593.3,992.2L599.9,990.6L603.1,1012.0L606.4,1036.6L611.4,1056.3L614.7,1036.6L617.9,1008.7L622.9,992.2L627.8,970.9L631.1,968.9L637.7,962.4L642.6,959.1L645.9,922.9L652.5,926.2L652.5,962.4L652.5,962.4L652.5,1113.8Z" fill="#CD5555" stroke="#CD5555" stroke-width="6.0" stroke-linejoin="round"/>
<g fill="#CD5555"><circle cx="588.2" cy="987.1" r="5"/><circle cx="645.6" cy="927.5" r="5"/><circle cx="610.3" cy="1041.1" r="5"/><circle cx="644.2" cy="941.3" r="5"/><circle cx="574.8" cy="971.2" r="5"/><circle cx="611.3" cy="1051.2" r="5"/><circle cx="582.0" cy="982.4" r="5"/><circle cx="652.6" cy="964.3" r="5"/><circle cx="619.6" cy="1004.8" r="5"/><circle cx="631.9" cy="967.6" r="5"/><circle cx="647.4" cy="924.5" r="5"/><circle cx="643.2" cy="953.8" r="5"/><circle cx="569.7" cy="946.6" r="5"/><circle cx="572.2" cy="963.3" r="5"/><circle cx="651.5" cy="925.7" r="5"/><circle cx="628.9" cy="972.1" r="5"/><circle cx="611.2" cy="1054.0" r="5"/><circle cx="574.2" cy="968.1" r="5"/><circle cx="605.0" cy="1025.9" r="5"/><circle cx="639.0" cy="958.2" r="5"/><circle cx="576.2" cy="978.1" r="5"/><circle cx="570.1" cy="948.9" r="5"/><circle cx="621.8" cy="984.7" r="5"/><circle cx="651.2" cy="918.6" r="5"/><circle cx="576.5" cy="972.7" r="5"/><circle cx="633.0" cy="966.2" r="5"/><circle cx="653.6" cy="960.3" r="5"/><circle cx="576.0" cy="976.9" r="5"/><circle cx="577.0" cy="976.6" r="5"/><circle cx="620.7" cy="992.6" r="5"/><circle cx="566.4" cy="939.4" r="5"/><circle cx="651.6" cy="926.4" r="5"/><circle cx="588.9" cy="985.2" r="5"/><circle cx="575.4" cy="968.8" r="5"/><circle cx="644.9" cy="932.5" r="5"/><circle cx="619.4" cy="1006.0" r="5"/><circle cx="619.2" cy="1002.3" r="5"/><circle cx="633.7" cy="965.0" r="5"/><circle cx="575.6" cy="975.5" r="5"/><circle cx="623.3" cy="992.0" r="5"/><circle cx="575.0" cy="973.3" r="5"/><circle cx="636.0" cy="962.5" r="5"/><circle cx="597.1" cy="980.3" r="5"/><circle cx="616.9" cy="1018.2" r="5"/><circle cx="615.5" cy="1022.4" r="5"/><circle cx="598.1" cy="990.5" r="5"/><circle cx="616.6" cy="1009.1" r="5"/><circle cx="622.0" cy="996.2" r="5"/><circle cx="617.0" cy="1016.8" r="5"/><circle cx="607.4" cy="1036.8" r="5"/><circle cx="567.3" cy="935.7" r="5"/><circle cx="593.3" cy="990.1" r="5"/><circle cx="638.1" cy="961.2" r="5"/><circle cx="621.2" cy="998.2" r="5"/><circle cx="588.2" cy="989.9" r="5"/><circle cx="612.6" cy="1049.6" r="5"/><circle cx="633.2" cy="965.7" r="5"/><circle cx="597.0" cy="992.0" r="5"/><circle cx="639.6" cy="952.6" r="5"/><circle cx="648.5" cy="924.9" r="5"/><circle cx="571.8" cy="959.1" r="5"/><circle cx="567.7" cy="929.9" r="5"/><circle cx="625.6" cy="980.6" r="5"/><circle cx="604.6" cy="1019.4" r="5"/><circle cx="579.7" cy="979.0" r="5"/><circle cx="635.1" cy="961.8" r="5"/><circle cx="617.3" cy="1015.6" r="5"/><circle cx="584.7" cy="986.7" r="5"/><circle cx="568.3" cy="933.7" r="5"/><circle cx="616.2" cy="1014.0" r="5"/><circle cx="614.6" cy="1027.9" r="5"/><circle cx="607.0" cy="1037.6" r="5"/><circle cx="590.4" cy="992.9" r="5"/><circle cx="648.4" cy="923.2" r="5"/><circle cx="565.7" cy="938.0" r="5"/><circle cx="583.0" cy="981.0" r="5"/><circle cx="610.6" cy="1052.2" r="5"/><circle cx="647.6" cy="919.3" r="5"/><circle cx="573.2" cy="968.7" r="5"/><circle cx="627.5" cy="970.0" r="5"/><circle cx="623.2" cy="989.5" r="5"/><circle cx="568.7" cy="935.9" r="5"/><circle cx="639.4" cy="959.0" r="5"/><circle cx="569.4" cy="943.9" r="5"/><circle cx="645.6" cy="924.9" r="5"/><circle cx="580.1" cy="975.6" r="5"/><circle cx="647.3" cy="916.6" r="5"/><circle cx="622.6" cy="987.7" r="5"/><circle cx="573.3" cy="966.1" r="5"/><circle cx="637.2" cy="962.9" r="5"/><circle cx="578.2" cy="971.9" r="5"/><circle cx="627.9" cy="972.8" r="5"/><circle cx="571.1" cy="954.6" r="5"/><circle cx="649.9" cy="922.6" r="5"/><circle cx="643.0" cy="955.7" r="5"/><circle cx="616.5" cy="1022.3" r="5"/><circle cx="594.9" cy="993.1" r="5"/><circle cx="606.5" cy="1038.9" r="5"/><circle cx="623.6" cy="986.4" r="5"/><circle cx="645.6" cy="921.8" r="5"/><circle cx="572.2" cy="956.2" r="5"/><circle cx="613.5" cy="1032.9" r="5"/><circle cx="609.0" cy="1048.7" r="5"/><circle cx="627.8" cy="972.0" r="5"/><circle cx="652.6" cy="960.9" r="5"/><circle cx="645.4" cy="927.7" r="5"/><circle cx="594.4" cy="989.1" r="5"/><circle cx="628.3" cy="969.8" r="5"/><circle cx="589.9" cy="993.3" r="5"/><circle cx="628.8" cy="971.1" r="5"/><circle cx="579.5" cy="978.1" r="5"/><circle cx="623.7" cy="990.2" r="5"/><circle cx="589.5" cy="982.2" r="5"/><circle cx="589.1" cy="988.0" r="5"/><circle cx="592.6" cy="994.2" r="5"/><circle cx="608.5" cy="1037.8" r="5"/><circle cx="634.3" cy="967.5" r="5"/><circle cx="627.8" cy="968.7" r="5"/><circle cx="571.1" cy="872.2" r="5"/><circle cx="569.4" cy="882.0" r="5"/><circle cx="565.3" cy="900.9" r="5"/><circle cx="576.8" cy="901.8" r="5"/><circle cx="571.9" cy="910.0" r="5"/><circle cx="576.8" cy="921.5" r="5"/><circle cx="577.6" cy="935.5" r="5"/><circle cx="592.4" cy="936.3" r="5"/><circle cx="599.0" cy="931.4" r="5"/><circle cx="581.8" cy="954.4" r="5"/><circle cx="599.0" cy="954.4" r="5"/><circle cx="574.4" cy="964.2" r="5"/><circle cx="583.4" cy="967.5" r="5"/><circle cx="599.0" cy="969.2" r="5"/><circle cx="650.3" cy="804.8" r="5"/><circle cx="645.9" cy="817.1" r="5"/><circle cx="649.5" cy="822.1" r="5"/><circle cx="637.7" cy="833.1" r="5"/><circle cx="637.2" cy="844.2" r="5"/><circle cx="654.1" cy="861.8" r="5"/><circle cx="650.0" cy="867.3" r="5"/><circle cx="646.7" cy="874.6" r="5"/><circle cx="649.2" cy="884.5" r="5"/><circle cx="637.7" cy="891.1" r="5"/><circle cx="645.9" cy="895.2" r="5"/><circle cx="639.3" cy="903.4" r="5"/><circle cx="639.3" cy="913.3" r="5"/><circle cx="649.2" cy="913.3" r="5"/><circle cx="655.7" cy="921.5" r="5"/><circle cx="599.0" cy="930.5" r="5"/><circle cx="592.5" cy="936.3" r="5"/><circle cx="592.5" cy="941.2" r="5"/><circle cx="599.0" cy="953.2" r="5"/><circle cx="621.2" cy="944.5" r="5"/><circle cx="624.5" cy="951.9" r="5"/><circle cx="600.2" cy="970.0" r="5"/><circle cx="621.2" cy="964.2" r="5"/><circle cx="621.2" cy="975.7" r="5"/><circle cx="599.0" cy="981.5" r="5"/><circle cx="616.3" cy="984.8" r="5"/><circle cx="638.5" cy="936.3" r="5"/><circle cx="637.7" cy="947.8" r="5"/><circle cx="629.4" cy="965.9" r="5"/><circle cx="647.5" cy="929.7" r="5"/><circle cx="652.5" cy="937.9" r="5"/><circle cx="616.3" cy="984.2" r="5"/><circle cx="616.3" cy="995.7" r="5"/><circle cx="606.4" cy="1018.8" r="5"/></g>
<g fill="#fff"><ellipse cx="606.5" cy="1044.7" rx="1.1" ry="1.2"/><ellipse cx="624.2" cy="988.7" rx="0.9" ry="1.6"/><ellipse cx="613.7" cy="1048.7" rx="1.2" ry="1.8"/><ellipse cx="598.4" cy="997.5" rx="0.6" ry="0.8"/><ellipse cx="569.8" cy="958.4" rx="1.4" ry="2.3"/><ellipse cx="579.6" cy="988.6" rx="0.9" ry="1.5"/><ellipse cx="620.5" cy="1007.1" rx="1.3" ry="1.6"/><ellipse cx="635.7" cy="970.7" rx="1.3" ry="2.2"/><ellipse cx="587.6" cy="995.5" rx="0.9" ry="1.0"/><ellipse cx="639.2" cy="969.2" rx="1.0" ry="1.6"/><ellipse cx="639.5" cy="962.8" rx="0.9" ry="1.5"/><ellipse cx="610.9" cy="1060.4" rx="0.8" ry="1.0"/><ellipse cx="622.1" cy="999.1" rx="1.4" ry="2.6"/><ellipse cx="647.0" cy="932.7" rx="1.1" ry="1.2"/><ellipse cx="596.3" cy="993.2" rx="1.1" ry="2.0"/><ellipse cx="629.8" cy="974.3" rx="0.8" ry="1.6"/><ellipse cx="570.9" cy="963.6" rx="1.4" ry="1.5"/><ellipse cx="645.4" cy="945.7" rx="1.0" ry="1.3"/><ellipse cx="617.0" cy="1022.9" rx="1.4" ry="2.5"/><ellipse cx="593.6" cy="993.2" rx="1.3" ry="2.1"/><ellipse cx="620.9" cy="1000.7" rx="0.7" ry="1.2"/><ellipse cx="596.7" cy="997.1" rx="1.5" ry="1.7"/><ellipse cx="619.2" cy="1006.0" rx="1.1" ry="1.8"/></g>
<path d="M658.5,1113.8L658.5,970.6L658.5,970.6L659.0,992.0L660.7,993.9L668.9,995.5L672.2,1010.3L677.1,998.8L682.0,1000.5L685.3,1010.3L686.2,962.4L695.2,960.7L698.5,975.5L705.1,965.7L711.6,959.1L718.2,952.5L724.3,949.2L724.3,954.1L724.3,954.1L724.3,1113.8Z" fill="#CD6600" stroke="#CD6600" stroke-width="6.0" stroke-linejoin="round"/>
<g fill="#CD6600"><circle cx="670.8" cy="999.6" r="5"/><circle cx="723.8" cy="943.6" r="5"/><circle cx="712.1" cy="947.6" r="5"/><circle cx="707.3" cy="961.8" r="5"/><circle cx="714.3" cy="951.0" r="5"/><circle cx="701.6" cy="967.9" r="5"/><circle cx="672.1" cy="1010.3" r="5"/><circle cx="681.8" cy="993.6" r="5"/><circle cx="711.5" cy="959.6" r="5"/><circle cx="725.4" cy="955.9" r="5"/><circle cx="664.5" cy="994.9" r="5"/><circle cx="665.5" cy="983.9" r="5"/><circle cx="683.9" cy="1005.9" r="5"/><circle cx="716.3" cy="953.0" r="5"/><circle cx="701.7" cy="970.1" r="5"/><circle cx="690.5" cy="950.6" r="5"/><circle cx="678.6" cy="998.0" r="5"/><circle cx="691.8" cy="962.7" r="5"/><circle cx="670.1" cy="999.6" r="5"/><circle cx="712.7" cy="957.5" r="5"/><circle cx="664.4" cy="984.3" r="5"/><circle cx="669.5" cy="990.5" r="5"/><circle cx="663.5" cy="991.7" r="5"/><circle cx="670.0" cy="1001.3" r="5"/><circle cx="688.0" cy="957.7" r="5"/><circle cx="688.9" cy="961.4" r="5"/><circle cx="686.8" cy="960.9" r="5"/><circle cx="678.8" cy="988.4" r="5"/><circle cx="672.9" cy="1009.9" r="5"/><circle cx="696.3" cy="965.8" r="5"/><circle cx="707.6" cy="964.9" r="5"/><circle cx="704.7" cy="966.2" r="5"/><circle cx="721.0" cy="951.4" r="5"/><circle cx="688.8" cy="962.2" r="5"/><circle cx="695.3" cy="961.9" r="5"/><circle cx="704.2" cy="966.5" r="5"/><circle cx="706.7" cy="964.4" r="5"/><circle cx="690.3" cy="959.9" r="5"/><circle cx="707.4" cy="960.5" r="5"/><circle cx="688.5" cy="963.5" r="5"/><circle cx="667.8" cy="996.6" r="5"/><circle cx="672.5" cy="1010.7" r="5"/><circle cx="703.7" cy="967.8" r="5"/><circle cx="719.8" cy="952.4" r="5"/><circle cx="676.5" cy="1001.2" r="5"/><circle cx="669.9" cy="997.0" r="5"/><circle cx="698.3" cy="975.3" r="5"/><circle cx="713.4" cy="954.2" r="5"/><circle cx="688.5" cy="959.7" r="5"/><circle cx="703.4" cy="967.6" r="5"/><circle cx="666.5" cy="995.0" r="5"/><circle cx="722.3" cy="950.2" r="5"/><circle cx="702.2" cy="971.5" r="5"/><circle cx="711.0" cy="952.7" r="5"/><circle cx="684.9" cy="1008.8" r="5"/><circle cx="694.0" cy="961.6" r="5"/><circle cx="674.2" cy="1007.0" r="5"/><circle cx="705.4" cy="964.1" r="5"/><circle cx="722.9" cy="938.9" r="5"/><circle cx="717.6" cy="942.1" r="5"/><circle cx="715.2" cy="957.4" r="5"/><circle cx="669.0" cy="984.8" r="5"/><circle cx="717.6" cy="950.8" r="5"/><circle cx="701.0" cy="971.2" r="5"/><circle cx="688.2" cy="963.3" r="5"/><circle cx="696.3" cy="966.2" r="5"/><circle cx="668.5" cy="988.2" r="5"/><circle cx="698.0" cy="966.1" r="5"/><circle cx="679.7" cy="997.8" r="5"/><circle cx="678.6" cy="993.3" r="5"/><circle cx="674.1" cy="1003.0" r="5"/><circle cx="696.7" cy="967.9" r="5"/><circle cx="665.7" cy="993.9" r="5"/><circle cx="694.7" cy="955.2" r="5"/><circle cx="673.8" cy="1007.7" r="5"/><circle cx="680.4" cy="994.6" r="5"/><circle cx="675.7" cy="999.7" r="5"/><circle cx="662.6" cy="995.9" r="5"/><circle cx="706.8" cy="962.9" r="5"/><circle cx="667.9" cy="994.4" r="5"/><circle cx="721.9" cy="950.3" r="5"/><circle cx="696.9" cy="967.8" r="5"/><circle cx="693.5" cy="962.8" r="5"/><circle cx="718.2" cy="950.7" r="5"/><circle cx="683.2" cy="1004.3" r="5"/><circle cx="672.7" cy="998.9" r="5"/><circle cx="715.4" cy="955.2" r="5"/><circle cx="699.9" cy="971.8" r="5"/><circle cx="673.6" cy="1008.9" r="5"/><circle cx="655.7" cy="893.9" r="5"/><circle cx="655.7" cy="904.6" r="5"/><circle cx="724.8" cy="863.5" r="5"/><circle cx="691.6" cy="885.8" r="5"/><circle cx="721.2" cy="885.8" r="5"/><circle cx="724.8" cy="898.5" r="5"/><circle cx="662.3" cy="926.4" r="5"/><circle cx="671.4" cy="926.4" r="5"/><circle cx="664.5" cy="938.8" r="5"/><circle cx="671.7" cy="950.3" r="5"/><circle cx="691.9" cy="914.9" r="5"/><circle cx="691.9" cy="919.8" r="5"/><circle cx="697.7" cy="928.1" r="5"/><circle cx="688.6" cy="935.5" r="5"/><circle cx="691.9" cy="940.4" r="5"/><circle cx="716.6" cy="916.6" r="5"/><circle cx="721.5" cy="913.3" r="5"/><circle cx="714.9" cy="923.1" r="5"/><circle cx="710.0" cy="929.7" r="5"/><circle cx="719.8" cy="928.1" r="5"/><circle cx="721.5" cy="937.9" r="5"/><circle cx="711.6" cy="947.8" r="5"/><circle cx="666.4" cy="971.6" r="5"/><circle cx="662.3" cy="980.7" r="5"/><circle cx="679.6" cy="974.1" r="5"/><circle cx="675.5" cy="980.7" r="5"/><circle cx="668.9" cy="988.9" r="5"/></g>
<g fill="#fff"><ellipse cx="705.5" cy="967.9" rx="1.1" ry="1.1"/><ellipse cx="662.8" cy="997.0" rx="1.2" ry="1.8"/><ellipse cx="720.8" cy="958.7" rx="1.1" ry="1.1"/><ellipse cx="718.8" cy="958.1" rx="1.4" ry="1.4"/><ellipse cx="711.4" cy="965.0" rx="0.8" ry="1.1"/><ellipse cx="666.0" cy="1001.8" rx="0.8" ry="1.3"/><ellipse cx="671.9" cy="1016.9" rx="1.2" ry="1.9"/><ellipse cx="718.3" cy="956.4" rx="1.2" ry="1.6"/><ellipse cx="715.0" cy="965.0" rx="1.3" ry="2.0"/><ellipse cx="677.1" cy="1008.9" rx="1.5" ry="2.7"/><ellipse cx="681.7" cy="1009.6" rx="1.2" ry="2.1"/><ellipse cx="709.5" cy="966.8" rx="1.0" ry="1.6"/><ellipse cx="700.6" cy="978.7" rx="1.4" ry="1.4"/><ellipse cx="662.3" cy="999.9" rx="0.7" ry="1.2"/><ellipse cx="666.8" cy="1004.9" rx="0.8" ry="0.9"/><ellipse cx="706.6" cy="971.9" rx="1.0" ry="1.5"/><ellipse cx="694.6" cy="971.3" rx="1.1" ry="1.6"/></g>
<path d="M730.3,1113.8L730.3,954.1L730.3,954.1L734.6,962.4L737.9,970.6L742.9,962.4L747.8,965.7L750.3,987.3L752.7,1020.2L754.4,1031.7L757.7,1012.0L760.9,995.5L764.2,987.3L769.2,987.0L775.7,962.4L780.7,937.7L787.2,921.3L793.8,908.2L800.4,904.4L800.4,914.6L800.4,914.6L800.4,1113.8Z" fill="#00BFFF" stroke="#00BFFF" stroke-width="6.0" stroke-linejoin="round"/>
<g fill="#00BFFF"><circle cx="764.5" cy="986.9" r="5"/><circle cx="780.3" cy="940.9" r="5"/><circle cx="780.5" cy="928.7" r="5"/><circle cx="785.3" cy="924.7" r="5"/><circle cx="756.9" cy="1018.0" r="5"/><circle cx="738.7" cy="967.8" r="5"/><circle cx="793.6" cy="895.8" r="5"/><circle cx="745.1" cy="959.6" r="5"/><circle cx="788.5" cy="917.4" r="5"/><circle cx="792.0" cy="912.3" r="5"/><circle cx="755.7" cy="1022.7" r="5"/><circle cx="782.9" cy="931.5" r="5"/><circle cx="753.3" cy="1017.4" r="5"/><circle cx="759.6" cy="1001.9" r="5"/><circle cx="747.9" cy="965.3" r="5"/><circle cx="781.5" cy="935.7" r="5"/><circle cx="778.4" cy="948.0" r="5"/><circle cx="733.1" cy="948.5" r="5"/><circle cx="752.3" cy="1013.7" r="5"/><circle cx="799.0" cy="905.2" r="5"/><circle cx="736.7" cy="968.6" r="5"/><circle cx="742.9" cy="955.8" r="5"/><circle cx="768.3" cy="988.9" r="5"/><circle cx="751.2" cy="998.7" r="5"/><circle cx="744.4" cy="963.8" r="5"/><circle cx="795.3" cy="904.8" r="5"/><circle cx="748.5" cy="970.1" r="5"/><circle cx="740.1" cy="965.6" r="5"/><circle cx="777.4" cy="955.7" r="5"/><circle cx="770.5" cy="982.4" r="5"/><circle cx="784.1" cy="926.7" r="5"/><circle cx="795.6" cy="901.9" r="5"/><circle cx="745.0" cy="964.9" r="5"/><circle cx="781.3" cy="930.7" r="5"/><circle cx="736.7" cy="967.0" r="5"/><circle cx="752.0" cy="1009.5" r="5"/><circle cx="793.0" cy="905.9" r="5"/><circle cx="784.1" cy="924.6" r="5"/><circle cx="751.6" cy="1003.2" r="5"/><circle cx="758.4" cy="1007.3" r="5"/><circle cx="769.2" cy="983.8" r="5"/><circle cx="744.0" cy="956.9" r="5"/><circle cx="743.5" cy="963.1" r="5"/><circle cx="791.4" cy="899.9" r="5"/><circle cx="757.8" cy="1000.1" r="5"/><circle cx="734.9" cy="952.0" r="5"/><circle cx="746.3" cy="966.5" r="5"/><circle cx="785.3" cy="927.2" r="5"/><circle cx="784.6" cy="929.7" r="5"/><circle cx="740.9" cy="965.6" r="5"/><circle cx="738.2" cy="969.3" r="5"/><circle cx="756.4" cy="1015.5" r="5"/><circle cx="766.6" cy="976.2" r="5"/><circle cx="791.0" cy="914.5" r="5"/><circle cx="796.1" cy="892.1" r="5"/><circle cx="771.6" cy="976.4" r="5"/><circle cx="744.1" cy="963.5" r="5"/><circle cx="747.6" cy="966.6" r="5"/><circle cx="775.0" cy="965.2" r="5"/><circle cx="785.7" cy="923.2" r="5"/><circle cx="789.9" cy="917.4" r="5"/><circle cx="791.3" cy="910.7" r="5"/><circle cx="776.3" cy="960.3" r="5"/><circle cx="780.7" cy="937.2" r="5"/><circle cx="782.5" cy="931.1" r="5"/><circle cx="742.1" cy="964.1" r="5"/><circle cx="784.6" cy="929.7" r="5"/><circle cx="776.3" cy="958.1" r="5"/><circle cx="782.0" cy="934.5" r="5"/><circle cx="765.5" cy="986.3" r="5"/><circle cx="784.4" cy="929.9" r="5"/><circle cx="767.8" cy="987.7" r="5"/><circle cx="773.3" cy="972.1" r="5"/><circle cx="746.6" cy="965.7" r="5"/><circle cx="794.6" cy="906.3" r="5"/><circle cx="793.6" cy="900.8" r="5"/><circle cx="751.0" cy="995.8" r="5"/><circle cx="732.9" cy="948.9" r="5"/><circle cx="776.2" cy="961.4" r="5"/><circle cx="768.4" cy="986.0" r="5"/><circle cx="779.0" cy="946.6" r="5"/><circle cx="795.6" cy="901.6" r="5"/><circle cx="737.4" cy="963.5" r="5"/><circle cx="793.9" cy="907.5" r="5"/><circle cx="781.8" cy="928.0" r="5"/><circle cx="793.7" cy="909.9" r="5"/><circle cx="790.5" cy="914.9" r="5"/><circle cx="788.1" cy="915.9" r="5"/><circle cx="764.7" cy="978.8" r="5"/><circle cx="788.2" cy="907.8" r="5"/><circle cx="799.0" cy="900.1" r="5"/><circle cx="783.5" cy="927.7" r="5"/><circle cx="760.2" cy="998.3" r="5"/><circle cx="767.6" cy="988.0" r="5"/><circle cx="750.5" cy="983.8" r="5"/><circle cx="799.6" cy="827.0" r="5"/><circle cx="799.1" cy="855.7" r="5"/><circle cx="793.8" cy="861.8" r="5"/><circle cx="799.1" cy="867.3" r="5"/><circle cx="787.2" cy="882.9" r="5"/><circle cx="777.4" cy="887.8" r="5"/><circle cx="798.7" cy="882.0" r="5"/><circle cx="796.3" cy="888.6" r="5"/><circle cx="758.5" cy="901.8" r="5"/><circle cx="745.8" cy="908.3" r="5"/><circle cx="733.0" cy="914.1" r="5"/><circle cx="731.4" cy="921.5" r="5"/><circle cx="785.6" cy="904.2" r="5"/><circle cx="745.3" cy="928.9" r="5"/><circle cx="745.3" cy="937.9" r="5"/><circle cx="729.7" cy="936.3" r="5"/><circle cx="733.0" cy="947.8" r="5"/><circle cx="745.3" cy="947.8" r="5"/><circle cx="777.4" cy="937.9" r="5"/><circle cx="770.8" cy="954.4" r="5"/><circle cx="764.2" cy="965.0" r="5"/><circle cx="762.6" cy="975.7" r="5"/><circle cx="774.1" cy="962.6" r="5"/><circle cx="777.4" cy="975.7" r="5"/><circle cx="741.2" cy="980.7" r="5"/><circle cx="762.6" cy="964.5" r="5"/><circle cx="762.6" cy="975.2" r="5"/></g>
<g fill="#fff"><ellipse cx="787.5" cy="943.8" rx="1.2" ry="1.8"/><ellipse cx="770.0" cy="991.4" rx="0.6" ry="0.8"/><ellipse cx="795.5" cy="914.0" rx="1.0" ry="1.1"/><ellipse cx="749.6" cy="991.2" rx="0.6" ry="1.1"/><ellipse cx="784.5" cy="951.6" rx="0.8" ry="1.5"/><ellipse cx="757.1" cy="1020.6" rx="1.5" ry="2.2"/><ellipse cx="776.9" cy="958.4" rx="0.6" ry="0.7"/><ellipse cx="740.1" cy="976.2" rx="0.8" ry="1.5"/><ellipse cx="776.8" cy="960.0" rx="1.2" ry="1.6"/><ellipse cx="767.1" cy="988.9" rx="1.3" ry="2.3"/><ellipse cx="770.5" cy="989.8" rx="0.9" ry="1.0"/><ellipse cx="754.1" cy="1038.5" rx="1.1" ry="1.2"/><ellipse cx="748.7" cy="979.7" rx="0.6" ry="0.6"/><ellipse cx="762.1" cy="994.9" rx="1.4" ry="1.6"/><ellipse cx="781.3" cy="952.6" rx="0.9" ry="1.3"/><ellipse cx="796.9" cy="932.1" rx="0.9" ry="1.8"/><ellipse cx="749.9" cy="995.1" rx="0.9" ry="1.2"/><ellipse cx="753.5" cy="1033.4" rx="1.4" ry="2.3"/><ellipse cx="745.0" cy="974.7" rx="1.3" ry="1.8"/></g>
<path d="M806.4,1113.8L806.4,908.2L806.4,908.2L806.4,908.2L809.9,907.0L810.2,912.1L813.5,945.9L814.8,945.9L816.8,978.8L818.1,962.4L821.4,987.3L823.4,992.2L826.7,975.5L827.9,997.2L833.3,972.2L836.2,1000.5L837.8,967.3L842.7,945.9L847.7,926.2L855.9,926.2L859.2,945.9L862.5,929.5L869.0,924.6L875.5,929.5L875.5,945.9L875.5,945.9L875.5,1113.8Z" fill="#FFA500" stroke="#FFA500" stroke-width="6.0" stroke-linejoin="round"/>
<g fill="#FFA500"><circle cx="866.7" cy="927.8" r="5"/><circle cx="849.4" cy="921.3" r="5"/><circle cx="861.7" cy="930.4" r="5"/><circle cx="812.7" cy="935.7" r="5"/><circle cx="826.8" cy="975.9" r="5"/><circle cx="835.6" cy="994.5" r="5"/><circle cx="845.3" cy="933.7" r="5"/><circle cx="869.5" cy="925.4" r="5"/><circle cx="827.3" cy="986.4" r="5"/><circle cx="816.1" cy="960.9" r="5"/><circle cx="871.5" cy="927.8" r="5"/><circle cx="833.1" cy="964.4" r="5"/><circle cx="867.7" cy="914.6" r="5"/><circle cx="876.5" cy="946.3" r="5"/><circle cx="813.0" cy="940.3" r="5"/><circle cx="842.9" cy="947.3" r="5"/><circle cx="825.8" cy="979.1" r="5"/><circle cx="855.2" cy="927.4" r="5"/><circle cx="816.8" cy="978.7" r="5"/><circle cx="814.6" cy="947.3" r="5"/><circle cx="815.5" cy="951.8" r="5"/><circle cx="868.7" cy="926.6" r="5"/><circle cx="863.6" cy="922.3" r="5"/><circle cx="853.1" cy="926.6" r="5"/><circle cx="864.7" cy="929.5" r="5"/><circle cx="811.6" cy="913.6" r="5"/><circle cx="823.6" cy="982.2" r="5"/><circle cx="860.1" cy="942.9" r="5"/><circle cx="814.9" cy="944.6" r="5"/><circle cx="818.4" cy="962.0" r="5"/><circle cx="854.5" cy="927.0" r="5"/><circle cx="841.1" cy="954.0" r="5"/><circle cx="868.2" cy="922.7" r="5"/><circle cx="855.8" cy="923.8" r="5"/><circle cx="812.6" cy="927.6" r="5"/><circle cx="861.9" cy="931.2" r="5"/><circle cx="848.9" cy="925.2" r="5"/><circle cx="860.2" cy="939.2" r="5"/><circle cx="827.5" cy="987.4" r="5"/><circle cx="823.1" cy="993.4" r="5"/><circle cx="844.1" cy="933.2" r="5"/><circle cx="857.8" cy="938.3" r="5"/><circle cx="843.3" cy="941.9" r="5"/><circle cx="848.1" cy="925.4" r="5"/><circle cx="843.3" cy="940.2" r="5"/><circle cx="868.8" cy="923.4" r="5"/><circle cx="862.2" cy="927.7" r="5"/><circle cx="816.6" cy="975.9" r="5"/><circle cx="829.9" cy="988.0" r="5"/><circle cx="842.1" cy="949.1" r="5"/><circle cx="876.9" cy="942.0" r="5"/><circle cx="833.9" cy="974.7" r="5"/><circle cx="871.8" cy="927.9" r="5"/><circle cx="851.6" cy="915.2" r="5"/><circle cx="834.1" cy="973.4" r="5"/><circle cx="863.5" cy="928.9" r="5"/><circle cx="818.3" cy="958.7" r="5"/><circle cx="836.9" cy="985.5" r="5"/><circle cx="840.2" cy="953.0" r="5"/><circle cx="869.7" cy="915.9" r="5"/><circle cx="861.0" cy="938.1" r="5"/><circle cx="833.7" cy="978.8" r="5"/><circle cx="822.2" cy="989.4" r="5"/><circle cx="820.6" cy="980.3" r="5"/><circle cx="817.4" cy="967.9" r="5"/><circle cx="836.6" cy="992.4" r="5"/><circle cx="855.5" cy="926.4" r="5"/><circle cx="810.0" cy="898.0" r="5"/><circle cx="860.1" cy="933.7" r="5"/><circle cx="828.6" cy="994.9" r="5"/><circle cx="856.2" cy="929.2" r="5"/><circle cx="874.7" cy="926.1" r="5"/><circle cx="846.0" cy="934.5" r="5"/><circle cx="827.8" cy="994.8" r="5"/><circle cx="875.7" cy="947.2" r="5"/><circle cx="849.0" cy="927.8" r="5"/><circle cx="875.0" cy="924.9" r="5"/><circle cx="864.1" cy="924.0" r="5"/><circle cx="820.7" cy="983.2" r="5"/><circle cx="811.1" cy="917.5" r="5"/><circle cx="814.0" cy="947.0" r="5"/><circle cx="820.3" cy="970.2" r="5"/><circle cx="862.6" cy="929.9" r="5"/><circle cx="875.0" cy="930.3" r="5"/><circle cx="818.0" cy="962.7" r="5"/><circle cx="863.7" cy="930.1" r="5"/><circle cx="862.5" cy="927.9" r="5"/><circle cx="863.2" cy="929.1" r="5"/><circle cx="811.3" cy="922.7" r="5"/><circle cx="858.0" cy="937.8" r="5"/><circle cx="860.8" cy="938.8" r="5"/><circle cx="827.6" cy="991.5" r="5"/><circle cx="866.8" cy="922.8" r="5"/><circle cx="810.6" cy="800.2" r="5"/><circle cx="811.9" cy="844.2" r="5"/><circle cx="805.3" cy="893.6" r="5"/><circle cx="813.5" cy="890.3" r="5"/><circle cx="820.9" cy="890.3" r="5"/><circle cx="808.6" cy="903.4" r="5"/><circle cx="820.1" cy="898.5" r="5"/><circle cx="810.2" cy="916.6" r="5"/><circle cx="820.1" cy="926.4" r="5"/><circle cx="820.1" cy="937.9" r="5"/><circle cx="820.1" cy="952.7" r="5"/><circle cx="830.0" cy="962.6" r="5"/><circle cx="836.5" cy="960.9" r="5"/><circle cx="820.1" cy="970.8" r="5"/><circle cx="833.3" cy="979.0" r="5"/><circle cx="855.1" cy="853.0" r="5"/><circle cx="820.5" cy="890.3" r="5"/><circle cx="854.2" cy="887.0" r="5"/><circle cx="849.3" cy="894.4" r="5"/><circle cx="874.0" cy="887.8" r="5"/><circle cx="867.4" cy="896.8" r="5"/><circle cx="866.6" cy="906.7" r="5"/><circle cx="819.7" cy="926.4" r="5"/><circle cx="820.5" cy="937.9" r="5"/><circle cx="849.3" cy="918.2" r="5"/><circle cx="854.2" cy="914.9" r="5"/><circle cx="846.0" cy="937.9" r="5"/><circle cx="869.0" cy="918.2" r="5"/><circle cx="874.0" cy="929.7" r="5"/><circle cx="819.7" cy="954.4" r="5"/><circle cx="836.2" cy="960.9" r="5"/></g>
<g fill="#fff"><ellipse cx="819.2" cy="978.9" rx="0.6" ry="0.9"/><ellipse cx="825.6" cy="989.6" rx="1.2" ry="2.0"/><ellipse cx="821.8" cy="989.9" rx="1.2" ry="1.9"/><ellipse cx="810.0" cy="943.3" rx="1.4" ry="1.9"/><ellipse cx="842.2" cy="956.0" rx="1.4" ry="2.3"/><ellipse cx="841.9" cy="958.1" rx="1.0" ry="1.1"/><ellipse cx="843.9" cy="948.5" rx="0.9" ry="1.2"/><ellipse cx="823.4" cy="996.3" rx="1.3" ry="2.3"/><ellipse cx="838.2" cy="975.0" rx="0.7" ry="1.0"/><ellipse cx="856.4" cy="949.7" rx="0.9" ry="1.1"/><ellipse cx="870.0" cy="943.5" rx="1.2" ry="1.6"/><ellipse cx="816.5" cy="980.8" rx="1.0" ry="1.7"/><ellipse cx="851.3" cy="947.9" rx="1.1" ry="1.9"/><ellipse cx="817.8" cy="976.3" rx="1.1" ry="1.7"/><ellipse cx="821.4" cy="989.2" rx="1.2" ry="2.0"/><ellipse cx="851.5" cy="934.2" rx="1.0" ry="1.8"/><ellipse cx="849.8" cy="952.2" rx="0.7" ry="1.2"/><ellipse cx="810.2" cy="936.0" rx="1.1" ry="1.2"/></g>
<path d="M881.5,1113.8L881.5,952.5L881.5,952.5L888.8,954.1L891.2,978.8L892.0,992.2L896.2,1003.7L898.6,987.3L905.2,982.4L913.4,965.7L918.3,962.4L924.9,955.8L931.5,952.5L938.1,945.9L941.5,937.7L941.5,937.7L941.5,1113.8Z" fill="#228B22" stroke="#228B22" stroke-width="6.0" stroke-linejoin="round"/>
<g fill="#228B22"><circle cx="908.4" cy="972.8" r="5"/><circle cx="935.1" cy="950.5" r="5"/><circle cx="913.8" cy="960.2" r="5"/><circle cx="890.5" cy="963.1" r="5"/><circle cx="939.4" cy="942.9" r="5"/><circle cx="895.9" cy="1004.4" r="5"/><circle cx="896.6" cy="1000.6" r="5"/><circle cx="925.6" cy="945.0" r="5"/><circle cx="916.7" cy="952.4" r="5"/><circle cx="908.9" cy="972.0" r="5"/><circle cx="883.5" cy="952.5" r="5"/><circle cx="884.9" cy="954.6" r="5"/><circle cx="931.6" cy="953.8" r="5"/><circle cx="901.3" cy="983.9" r="5"/><circle cx="914.8" cy="966.6" r="5"/><circle cx="890.1" cy="964.2" r="5"/><circle cx="907.6" cy="979.1" r="5"/><circle cx="912.0" cy="968.5" r="5"/><circle cx="943.0" cy="939.5" r="5"/><circle cx="894.2" cy="1000.0" r="5"/><circle cx="916.3" cy="952.7" r="5"/><circle cx="929.8" cy="954.8" r="5"/><circle cx="915.6" cy="964.2" r="5"/><circle cx="941.6" cy="934.2" r="5"/><circle cx="919.4" cy="961.9" r="5"/><circle cx="909.5" cy="972.3" r="5"/><circle cx="906.0" cy="978.9" r="5"/><circle cx="888.9" cy="954.7" r="5"/><circle cx="942.2" cy="937.4" r="5"/><circle cx="913.6" cy="961.2" r="5"/><circle cx="931.8" cy="948.2" r="5"/><circle cx="906.2" cy="976.8" r="5"/><circle cx="895.4" cy="999.3" r="5"/><circle cx="884.4" cy="954.2" r="5"/><circle cx="893.9" cy="997.5" r="5"/><circle cx="927.4" cy="956.4" r="5"/><circle cx="935.6" cy="949.9" r="5"/><circle cx="940.0" cy="930.2" r="5"/><circle cx="920.1" cy="954.4" r="5"/><circle cx="939.5" cy="941.9" r="5"/><circle cx="934.4" cy="951.4" r="5"/><circle cx="930.0" cy="950.6" r="5"/><circle cx="929.7" cy="954.7" r="5"/><circle cx="888.5" cy="952.7" r="5"/><circle cx="919.6" cy="957.9" r="5"/><circle cx="894.2" cy="996.4" r="5"/><circle cx="941.1" cy="939.2" r="5"/><circle cx="932.3" cy="940.7" r="5"/><circle cx="923.5" cy="956.6" r="5"/><circle cx="908.4" cy="975.0" r="5"/><circle cx="890.9" cy="977.4" r="5"/><circle cx="900.1" cy="987.3" r="5"/><circle cx="937.0" cy="947.0" r="5"/><circle cx="935.6" cy="946.7" r="5"/><circle cx="936.9" cy="938.9" r="5"/><circle cx="925.8" cy="954.7" r="5"/><circle cx="898.0" cy="989.7" r="5"/><circle cx="902.0" cy="978.8" r="5"/><circle cx="886.0" cy="951.0" r="5"/><circle cx="903.7" cy="983.1" r="5"/><circle cx="915.8" cy="953.1" r="5"/><circle cx="942.6" cy="937.7" r="5"/><circle cx="940.5" cy="929.2" r="5"/><circle cx="914.8" cy="963.0" r="5"/><circle cx="895.3" cy="996.2" r="5"/><circle cx="912.4" cy="963.3" r="5"/><circle cx="938.4" cy="942.9" r="5"/><circle cx="924.9" cy="954.3" r="5"/><circle cx="891.3" cy="979.2" r="5"/><circle cx="887.2" cy="954.9" r="5"/><circle cx="941.8" cy="937.6" r="5"/><circle cx="891.5" cy="983.4" r="5"/><circle cx="887.1" cy="951.6" r="5"/><circle cx="897.1" cy="998.4" r="5"/><circle cx="921.4" cy="949.6" r="5"/><circle cx="884.3" cy="949.5" r="5"/><circle cx="918.1" cy="961.5" r="5"/><circle cx="908.6" cy="977.5" r="5"/><circle cx="904.4" cy="981.6" r="5"/><circle cx="903.5" cy="972.7" r="5"/><circle cx="903.7" cy="977.1" r="5"/><circle cx="931.7" cy="947.1" r="5"/><circle cx="883.0" cy="882.0" r="5"/><circle cx="922.9" cy="885.0" r="5"/><circle cx="881.4" cy="912.5" r="5"/><circle cx="885.5" cy="922.3" r="5"/><circle cx="885.5" cy="930.5" r="5"/><circle cx="915.9" cy="904.2" r="5"/><circle cx="915.9" cy="910.8" r="5"/><circle cx="929.0" cy="914.9" r="5"/><circle cx="913.4" cy="926.4" r="5"/><circle cx="943.8" cy="907.5" r="5"/><circle cx="939.7" cy="914.9" r="5"/><circle cx="939.7" cy="924.8" r="5"/><circle cx="932.3" cy="933.0" r="5"/><circle cx="920.8" cy="936.3" r="5"/><circle cx="896.2" cy="944.5" r="5"/><circle cx="896.2" cy="951.1" r="5"/><circle cx="902.7" cy="959.3" r="5"/><circle cx="896.2" cy="967.5" r="5"/><circle cx="905.2" cy="972.4" r="5"/><circle cx="885.5" cy="944.5" r="5"/><circle cx="915.1" cy="954.4" r="5"/><circle cx="933.1" cy="942.9" r="5"/><circle cx="896.2" cy="967.0" r="5"/><circle cx="905.2" cy="973.6" r="5"/></g>
<g fill="#fff"><ellipse cx="911.1" cy="976.4" rx="1.4" ry="1.5"/><ellipse cx="896.6" cy="1001.6" rx="1.0" ry="1.5"/><ellipse cx="936.1" cy="958.3" rx="1.0" ry="1.4"/><ellipse cx="890.2" cy="976.8" rx="1.1" ry="1.2"/><ellipse cx="931.9" cy="953.6" rx="0.8" ry="1.1"/><ellipse cx="938.3" cy="948.0" rx="0.8" ry="1.4"/><ellipse cx="902.7" cy="994.6" rx="0.6" ry="0.7"/><ellipse cx="901.2" cy="994.8" rx="0.7" ry="1.1"/><ellipse cx="932.4" cy="962.4" rx="1.3" ry="1.4"/><ellipse cx="910.6" cy="974.6" rx="0.7" ry="0.9"/><ellipse cx="924.2" cy="963.3" rx="0.7" ry="0.9"/><ellipse cx="888.1" cy="964.3" rx="1.3" ry="1.8"/><ellipse cx="936.4" cy="958.7" rx="0.8" ry="1.0"/><ellipse cx="894.8" cy="1007.3" rx="1.1" ry="1.7"/><ellipse cx="926.3" cy="961.4" rx="0.9" ry="1.4"/><ellipse cx="935.8" cy="949.7" rx="1.0" ry="1.2"/></g>
<path d="M947.5,1113.8L947.5,945.9L947.5,945.9L951.2,954.1L954.5,978.8L956.1,987.3L960.3,1003.7L964.4,1030.0L969.3,1020.2L971.8,995.5L974.2,984.0L980.8,982.4L985.7,983.7L990.7,972.2L997.2,970.6L1003.8,962.4L1008.5,962.4L1008.5,962.4L1008.5,1113.8Z" fill="#CD5555" stroke="#CD5555" stroke-width="6.0" stroke-linejoin="round"/>
<g fill="#CD5555"><circle cx="992.1" cy="971.3" r="5"/><circle cx="997.3" cy="967.5" r="5"/><circle cx="1004.2" cy="960.5" r="5"/><circle cx="983.5" cy="972.1" r="5"/><circle cx="995.3" cy="971.2" r="5"/><circle cx="955.4" cy="974.0" r="5"/><circle cx="953.1" cy="958.9" r="5"/><circle cx="1002.7" cy="960.9" r="5"/><circle cx="1003.6" cy="960.4" r="5"/><circle cx="992.0" cy="969.8" r="5"/><circle cx="962.2" cy="1017.7" r="5"/><circle cx="991.9" cy="971.2" r="5"/><circle cx="956.6" cy="987.5" r="5"/><circle cx="964.6" cy="1030.2" r="5"/><circle cx="999.4" cy="965.5" r="5"/><circle cx="992.1" cy="966.2" r="5"/><circle cx="974.4" cy="983.3" r="5"/><circle cx="974.1" cy="984.5" r="5"/><circle cx="993.9" cy="963.7" r="5"/><circle cx="966.5" cy="1022.2" r="5"/><circle cx="961.8" cy="1015.4" r="5"/><circle cx="988.6" cy="972.4" r="5"/><circle cx="968.3" cy="1011.2" r="5"/><circle cx="990.5" cy="972.9" r="5"/><circle cx="992.8" cy="965.3" r="5"/><circle cx="957.5" cy="983.8" r="5"/><circle cx="974.3" cy="984.6" r="5"/><circle cx="971.0" cy="1001.5" r="5"/><circle cx="979.6" cy="983.1" r="5"/><circle cx="952.9" cy="964.5" r="5"/><circle cx="990.4" cy="969.5" r="5"/><circle cx="972.1" cy="987.2" r="5"/><circle cx="950.5" cy="953.9" r="5"/><circle cx="950.5" cy="951.0" r="5"/><circle cx="979.3" cy="983.6" r="5"/><circle cx="979.5" cy="984.7" r="5"/><circle cx="951.6" cy="945.7" r="5"/><circle cx="1000.0" cy="968.8" r="5"/><circle cx="986.9" cy="979.9" r="5"/><circle cx="980.2" cy="976.3" r="5"/><circle cx="986.1" cy="972.3" r="5"/><circle cx="988.4" cy="968.5" r="5"/><circle cx="956.1" cy="981.5" r="5"/><circle cx="967.7" cy="1013.9" r="5"/><circle cx="994.6" cy="960.2" r="5"/><circle cx="992.6" cy="971.5" r="5"/><circle cx="979.4" cy="977.9" r="5"/><circle cx="952.8" cy="964.6" r="5"/><circle cx="981.9" cy="979.0" r="5"/><circle cx="969.0" cy="1018.6" r="5"/><circle cx="991.5" cy="971.9" r="5"/><circle cx="988.4" cy="969.1" r="5"/><circle cx="970.6" cy="1006.2" r="5"/><circle cx="977.1" cy="977.1" r="5"/><circle cx="964.9" cy="1029.5" r="5"/><circle cx="971.9" cy="992.3" r="5"/><circle cx="958.3" cy="984.9" r="5"/><circle cx="978.2" cy="979.1" r="5"/><circle cx="973.0" cy="991.6" r="5"/><circle cx="971.5" cy="996.6" r="5"/><circle cx="954.7" cy="968.6" r="5"/><circle cx="983.0" cy="982.2" r="5"/><circle cx="951.1" cy="954.7" r="5"/><circle cx="968.7" cy="1018.6" r="5"/><circle cx="959.4" cy="999.4" r="5"/><circle cx="964.9" cy="1027.2" r="5"/><circle cx="988.7" cy="975.5" r="5"/><circle cx="992.3" cy="969.4" r="5"/><circle cx="954.3" cy="974.2" r="5"/><circle cx="977.1" cy="978.9" r="5"/><circle cx="1002.9" cy="963.5" r="5"/><circle cx="998.0" cy="970.5" r="5"/><circle cx="986.6" cy="983.8" r="5"/><circle cx="996.5" cy="970.1" r="5"/><circle cx="975.4" cy="982.6" r="5"/><circle cx="970.7" cy="1006.7" r="5"/><circle cx="989.0" cy="973.8" r="5"/><circle cx="952.6" cy="965.1" r="5"/><circle cx="1002.6" cy="964.4" r="5"/><circle cx="966.2" cy="1024.4" r="5"/><circle cx="970.7" cy="994.7" r="5"/><circle cx="1005.5" cy="963.7" r="5"/><circle cx="962.3" cy="1018.1" r="5"/><circle cx="994.0" cy="829.4" r="5"/><circle cx="948.8" cy="859.9" r="5"/><circle cx="994.0" cy="897.7" r="5"/><circle cx="994.0" cy="903.4" r="5"/><circle cx="948.8" cy="913.3" r="5"/><circle cx="954.5" cy="919.8" r="5"/><circle cx="980.0" cy="917.4" r="5"/><circle cx="983.3" cy="924.0" r="5"/><circle cx="993.1" cy="921.5" r="5"/><circle cx="1006.3" cy="923.1" r="5"/><circle cx="1006.3" cy="933.0" r="5"/><circle cx="974.2" cy="936.3" r="5"/><circle cx="980.8" cy="936.3" r="5"/><circle cx="994.8" cy="936.3" r="5"/><circle cx="1008.7" cy="939.6" r="5"/><circle cx="958.6" cy="951.1" r="5"/><circle cx="980.0" cy="950.3" r="5"/><circle cx="992.3" cy="950.3" r="5"/><circle cx="974.2" cy="957.7" r="5"/><circle cx="972.6" cy="966.7" r="5"/><circle cx="947.9" cy="934.6" r="5"/><circle cx="951.2" cy="946.1" r="5"/><circle cx="952.9" cy="959.3" r="5"/><circle cx="954.5" cy="970.8" r="5"/><circle cx="1006.3" cy="946.1" r="5"/><circle cx="1006.3" cy="957.7" r="5"/><circle cx="958.6" cy="951.4" r="5"/><circle cx="974.2" cy="957.9" r="5"/><circle cx="972.6" cy="967.0" r="5"/><circle cx="964.4" cy="1004.0" r="5"/></g>
<g fill="#fff"><ellipse cx="975.0" cy="987.7" rx="1.2" ry="2.2"/><ellipse cx="954.4" cy="979.5" rx="0.7" ry="0.9"/><ellipse cx="957.9" cy="999.5" rx="0.9" ry="1.5"/><ellipse cx="1003.7" cy="973.3" rx="1.0" ry="1.5"/><ellipse cx="957.8" cy="1000.9" rx="1.4" ry="2.5"/><ellipse cx="958.2" cy="998.2" rx="1.4" ry="2.3"/><ellipse cx="992.4" cy="973.5" rx="1.2" ry="1.2"/><ellipse cx="991.0" cy="981.1" rx="0.9" ry="0.9"/><ellipse cx="990.8" cy="983.2" rx="1.2" ry="1.5"/><ellipse cx="968.6" cy="1030.7" rx="1.5" ry="2.0"/><ellipse cx="962.7" cy="1030.1" rx="1.0" ry="1.4"/><ellipse cx="967.6" cy="1031.8" rx="1.5" ry="2.1"/><ellipse cx="997.5" cy="975.2" rx="1.0" ry="1.7"/><ellipse cx="1003.9" cy="970.9" rx="1.2" ry="2.2"/><ellipse cx="1001.1" cy="976.3" rx="1.1" ry="1.5"/><ellipse cx="950.9" cy="959.7" rx="0.9" ry="0.9"/></g></g>
<line x1="99.3" x2="1034.2" y1="827.8" y2="827.8" stroke="#FF0000" stroke-width="5" stroke-dasharray="15.4 5.3"/>
<path d="M95.1,788.0 H1044.2 V1126.4" fill="none" stroke="#8a8a8a" stroke-width="2.2" stroke-linejoin="round"/><path d="M95.1,788.0 V1126.4 H1044.2" fill="none" stroke="#444" stroke-width="1.6" stroke-linejoin="round"/>
<text transform="translate(76.2,824.7) rotate(-90) scale(1,1.00)" text-anchor="middle" font-family="Liberation Sans, Arial, sans-serif" font-size="20.5" fill="#1c1c1c">5</text><text transform="translate(76.2,882.6) rotate(-90) scale(1,1.00)" text-anchor="middle" font-family="Liberation Sans, Arial, sans-serif" font-size="20.5" fill="#1c1c1c">4</text><text transform="translate(76.2,940.5) rotate(-90) scale(1,1.00)" text-anchor="middle" font-family="Liberation Sans, Arial, sans-serif" font-size="20.5" fill="#1c1c1c">3</text><text transform="translate(76.2,998.4) rotate(-90) scale(1,1.00)" text-anchor="middle" font-family="Liberation Sans, Arial, sans-serif" font-size="20.5" fill="#1c1c1c">2</text><text transform="translate(76.2,1057.6) rotate(-90) scale(1,1.00)" text-anchor="middle" font-family="Liberation Sans, Arial, sans-serif" font-size="20.5" fill="#1c1c1c">1</text>
<text transform="translate(36.9,1014.3) rotate(-90)" font-family="Liberation Sans, Arial, sans-serif" fill="#1c1c1c" font-size="26.5"><tspan x="-1.33" y="1.59" font-size="28.4">−</tspan><tspan x="17.60 24.67 41.39" y="0">log</tspan><tspan x="56.96" y="7.16" font-size="15.9">10</tspan><tspan x="73.88" y="0.79" font-size="31.3">(</tspan><tspan x="88.64" y="0" font-style="italic">p</tspan><tspan x="103.95" y="0.79" font-size="31.3">)</tspan></text>
<text x="196.4" y="1156.5" text-anchor="middle" font-family="Liberation Sans, Arial, sans-serif" font-size="19.3" fill="#1c1c1c">1</text><text x="309.6" y="1156.5" text-anchor="middle" font-family="Liberation Sans, Arial, sans-serif" font-size="19.3" fill="#1c1c1c">2</text><text x="417.0" y="1156.5" text-anchor="middle" font-family="Liberation Sans, Arial, sans-serif" font-size="19.3" fill="#1c1c1c">3</text><text x="517.7" y="1156.5" text-anchor="middle" font-family="Liberation Sans, Arial, sans-serif" font-size="19.3" fill="#1c1c1c">4</text><text x="608.0" y="1156.5" text-anchor="middle" font-family="Liberation Sans, Arial, sans-serif" font-size="19.3" fill="#1c1c1c">5</text><text x="702.3" y="1156.5" text-anchor="middle" font-family="Liberation Sans, Arial, sans-serif" font-size="19.3" fill="#1c1c1c">6</text><text x="772.0" y="1156.5" text-anchor="middle" font-family="Liberation Sans, Arial, sans-serif" font-size="19.3" fill="#1c1c1c">7</text><text x="848.0" y="1156.5" text-anchor="middle" font-family="Liberation Sans, Arial, sans-serif" font-size="19.3" fill="#1c1c1c">8</text><text x="917.6" y="1156.5" text-anchor="middle" font-family="Liberation Sans, Arial, sans-serif" font-size="19.3" fill="#1c1c1c">9</text><text x="983.2" y="1156.5" text-anchor="middle" font-family="Liberation Sans, Arial, sans-serif" font-size="19.3" fill="#1c1c1c">10</text>
<text x="4.7" y="816.2" font-family="Liberation Serif, Times New Roman, serif" font-size="62.0" fill="#000">e</text>
<text x="414.5" y="1200.2" font-family="Liberation Serif, Times New Roman, serif" font-size="38.7" fill="#111">Chromosome</text>
<polygon points="1467.1,16.5 1503.8,16.5 1503.8,30.3 1453.0,70.0 1420.0,95.0 1392.0,117.0 1388.0,121.0 1395.0,108.5 1440.0,53.3" fill="#c9c9c9"/><line x1="1165.7" y1="346.2" x2="1492.3" y2="16.4" stroke="#F01818" stroke-width="2"/><g stroke="#727272" stroke-width="1.9" fill="none"><path d="M1165.7,16.4 V345.7 H1516.6"/><path d="M1178.2,345.7 v11.8"/><path d="M1234.7,345.7 v11.8"/><path d="M1291.5,345.7 v11.8"/><path d="M1348.0,345.7 v11.8"/><path d="M1404.9,345.7 v11.8"/><path d="M1461.8,345.7 v11.8"/><path d="M1165.7,333.6 h-11.8"/><path d="M1165.7,276.0 h-11.8"/><path d="M1165.7,218.5 h-11.8"/><path d="M1165.7,161.4 h-11.8"/><path d="M1165.7,104.2 h-11.8"/><path d="M1165.7,46.7 h-11.8"/></g><polyline points="1178.6,333.2 1304.9,205.4 1319.7,189.8 1334.5,175.8 1346.4,165.9 1355.2,159.0 1364.1,153.1 1374.0,146.2 1383.8,139.3 1391.7,131.4 1398.6,125.5 1402.4,119.2 1409.8,112.8 1414.7,106.8 1418.7,99.4 1424.6,96.5 1429.5,90.6 1433.5,83.7 1439.4,80.7 1444.3,76.3 1446.8,71.3 1449.7,68.4" fill="none" stroke="#000" stroke-width="8.8" stroke-linecap="round" stroke-linejoin="round"/><g fill="#000"><circle cx="1504.1" cy="28.8" r="3.7"/><circle cx="1486.9" cy="28.5" r="3.7"/><circle cx="1477.0" cy="28.2" r="3.7"/><circle cx="1469.2" cy="30.8" r="3.7"/><circle cx="1464.0" cy="31.4" r="3.7"/><circle cx="1459.3" cy="31.4" r="3.7"/><circle cx="1456.2" cy="43.4" r="3.7"/><circle cx="1452.5" cy="55.1" r="3.7"/><circle cx="1448.9" cy="68.9" r="3.7"/></g><text x="1178.2" y="385.4" text-anchor="middle" font-family="Liberation Sans, Arial, sans-serif" font-size="20.0" fill="#1c1c1c">0</text><text x="1234.7" y="385.4" text-anchor="middle" font-family="Liberation Sans, Arial, sans-serif" font-size="20.0" fill="#1c1c1c">1</text><text x="1291.5" y="385.4" text-anchor="middle" font-family="Liberation Sans, Arial, sans-serif" font-size="20.0" fill="#1c1c1c">2</text><text x="1348.0" y="385.4" text-anchor="middle" font-family="Liberation Sans, Arial, sans-serif" font-size="20.0" fill="#1c1c1c">3</text><text x="1404.9" y="385.4" text-anchor="middle" font-family="Liberation Sans, Arial, sans-serif" font-size="20.0" fill="#1c1c1c">4</text><text x="1461.8" y="385.4" text-anchor="middle" font-family="Liberation Sans, Arial, sans-serif" font-size="20.0" fill="#1c1c1c">5</text><text transform="translate(1139.3,333.6) rotate(-90) scale(1,1.08)" text-anchor="middle" font-family="Liberation Sans, Arial, sans-serif" font-size="19.4" fill="#1c1c1c">0</text><text transform="translate(1139.3,276.0) rotate(-90) scale(1,1.08)" text-anchor="middle" font-family="Liberation Sans, Arial, sans-serif" font-size="19.4" fill="#1c1c1c">1</text><text transform="translate(1139.3,218.5) rotate(-90) scale(1,1.08)" text-anchor="middle" font-family="Liberation Sans, Arial, sans-serif" font-size="19.4" fill="#1c1c1c">2</text><text transform="translate(1139.3,161.4) rotate(-90) scale(1,1.08)" text-anchor="middle" font-family="Liberation Sans, Arial, sans-serif" font-size="19.4" fill="#1c1c1c">3</text><text transform="translate(1139.3,104.2) rotate(-90) scale(1,1.08)" text-anchor="middle" font-family="Liberation Sans, Arial, sans-serif" font-size="19.4" fill="#1c1c1c">4</text><text transform="translate(1139.3,46.7) rotate(-90) scale(1,1.08)" text-anchor="middle" font-family="Liberation Sans, Arial, sans-serif" font-size="19.4" fill="#1c1c1c">5</text><text transform="translate(1088.7,291.4) rotate(-90) scale(1,1.06)" font-family="Liberation Sans, Arial, sans-serif" fill="#1c1c1c" font-size="24.3"><tspan x="-1.09" y="0">Observed </tspan><tspan x="116.18" y="1.46" font-size="26.0">−</tspan><tspan x="133.46 139.85 154.58" y="0">log</tspan><tspan x="168.30" y="6.56" font-size="14.6">10</tspan><tspan x="183.69" y="0.73" font-size="28.7">(</tspan><tspan x="195.89" y="0" font-style="italic">p</tspan><tspan x="209.32" y="0.73" font-size="28.7">)</tspan></text>
<text x="1073.1" y="57.2" font-family="Liberation Serif, Times New Roman, serif" font-size="62.0" fill="#000">b</text>
<polygon points="1454.5,406.5 1496.5,406.5 1453.2,438.6 1411.0,469.5 1435.0,434.4" fill="#c9c9c9"/><line x1="1175.9" y1="722.9" x2="1472.6" y2="406.3" stroke="#F01818" stroke-width="2"/><g stroke="#727272" stroke-width="1.9" fill="none"><path d="M1175.9,406.3 V722.4 H1513.4"/><path d="M1188.0,722.4 v10.4"/><path d="M1242.9,722.4 v10.4"/><path d="M1297.1,722.4 v10.4"/><path d="M1351.7,722.4 v10.4"/><path d="M1406.2,722.4 v10.4"/><path d="M1460.8,722.4 v10.4"/><path d="M1175.9,710.3 h-10.4"/><path d="M1175.9,652.1 h-10.4"/><path d="M1175.9,594.3 h-10.4"/><path d="M1175.9,535.8 h-10.4"/><path d="M1175.9,477.3 h-10.4"/><path d="M1175.9,419.4 h-10.4"/></g><polyline points="1188.4,709.9 1351.7,535.2 1365.0,519.3 1378.9,503.0 1395.0,484.4 1402.4,477.0 1409.8,472.0 1417.2,465.6 1424.6,459.7 1432.0,452.8 1439.4,446.4 1444.3,442.5" fill="none" stroke="#000" stroke-width="8.8" stroke-linecap="round" stroke-linejoin="round"/><g fill="#000"><circle cx="1501.2" cy="418.3" r="3.7"/><circle cx="1484.5" cy="420.6" r="3.7"/><circle cx="1475.1" cy="421.5" r="3.7"/><circle cx="1468.1" cy="423.4" r="3.7"/><circle cx="1462.9" cy="428.4" r="3.7"/><circle cx="1458.4" cy="433.4" r="3.7"/><circle cx="1453.8" cy="433.1" r="3.7"/><circle cx="1449.1" cy="433.4" r="3.7"/><circle cx="1447.0" cy="441.7" r="3.7"/><circle cx="1441.8" cy="444.3" r="3.7"/></g><text x="1188.0" y="760.4" text-anchor="middle" font-family="Liberation Sans, Arial, sans-serif" font-size="19.0" fill="#1c1c1c">0</text><text x="1242.9" y="760.4" text-anchor="middle" font-family="Liberation Sans, Arial, sans-serif" font-size="19.0" fill="#1c1c1c">1</text><text x="1297.1" y="760.4" text-anchor="middle" font-family="Liberation Sans, Arial, sans-serif" font-size="19.0" fill="#1c1c1c">2</text><text x="1351.7" y="760.4" text-anchor="middle" font-family="Liberation Sans, Arial, sans-serif" font-size="19.0" fill="#1c1c1c">3</text><text x="1406.2" y="760.4" text-anchor="middle" font-family="Liberation Sans, Arial, sans-serif" font-size="19.0" fill="#1c1c1c">4</text><text x="1460.8" y="760.4" text-anchor="middle" font-family="Liberation Sans, Arial, sans-serif" font-size="19.0" fill="#1c1c1c">5</text><text transform="translate(1150.7,710.3) rotate(-90) scale(1,1.08)" text-anchor="middle" font-family="Liberation Sans, Arial, sans-serif" font-size="18.4" fill="#1c1c1c">0</text><text transform="translate(1150.7,652.1) rotate(-90) scale(1,1.08)" text-anchor="middle" font-family="Liberation Sans, Arial, sans-serif" font-size="18.4" fill="#1c1c1c">1</text><text transform="translate(1150.7,594.3) rotate(-90) scale(1,1.08)" text-anchor="middle" font-family="Liberation Sans, Arial, sans-serif" font-size="18.4" fill="#1c1c1c">2</text><text transform="translate(1150.7,535.8) rotate(-90) scale(1,1.08)" text-anchor="middle" font-family="Liberation Sans, Arial, sans-serif" font-size="18.4" fill="#1c1c1c">3</text><text transform="translate(1150.7,477.3) rotate(-90) scale(1,1.08)" text-anchor="middle" font-family="Liberation Sans, Arial, sans-serif" font-size="18.4" fill="#1c1c1c">4</text><text transform="translate(1150.7,419.4) rotate(-90) scale(1,1.08)" text-anchor="middle" font-family="Liberation Sans, Arial, sans-serif" font-size="18.4" fill="#1c1c1c">5</text><text transform="translate(1103.9,670.0) rotate(-90) scale(1,1.06)" font-family="Liberation Sans, Arial, sans-serif" fill="#1c1c1c" font-size="23.4"><tspan x="-1.05" y="0">Observed </tspan><tspan x="111.88" y="1.40" font-size="25.0">−</tspan><tspan x="128.52 134.67 148.85" y="0">log</tspan><tspan x="162.07" y="6.32" font-size="14.0">10</tspan><tspan x="176.89" y="0.70" font-size="27.6">(</tspan><tspan x="188.63" y="0" font-style="italic">p</tspan><tspan x="201.57" y="0.70" font-size="27.6">)</tspan></text>
<text x="1089.6" y="439.6" font-family="Liberation Serif, Times New Roman, serif" font-size="62.0" fill="#000">d</text>
<polygon points="1476.0,801.0 1508.3,801.0 1508.3,821.0 1460.8,855.0 1408.0,895.5 1440.0,851.3" fill="#c9c9c9"/><line x1="1183.5" y1="1118.0" x2="1503.0" y2="800.9" stroke="#F01818" stroke-width="2"/><g stroke="#727272" stroke-width="1.9" fill="none"><path d="M1183.5,801.5 V1117.5 H1521.0"/><path d="M1195.0,1117.5 v11.0"/><path d="M1250.0,1117.5 v11.0"/><path d="M1304.2,1117.5 v11.0"/><path d="M1358.7,1117.5 v11.0"/><path d="M1413.7,1117.5 v11.0"/><path d="M1468.2,1117.5 v11.0"/><path d="M1183.5,1105.6 h-11.0"/><path d="M1183.5,1051.4 h-11.0"/><path d="M1183.5,997.2 h-11.0"/><path d="M1183.5,943.7 h-11.0"/><path d="M1183.5,889.5 h-11.0"/><path d="M1183.5,834.9 h-11.0"/></g><polyline points="1196.1,1105.0 1290.0,1011.8 1332.8,966.4 1347.6,951.6 1358.7,940.7 1371.3,927.9 1379.2,922.5 1387.1,915.1 1397.5,905.2 1404.9,899.8 1412.3,896.8 1419.7,892.4 1427.0,887.0 1432.0,881.6 1436.9,877.6 1441.8,871.2 1446.8,866.3 1451.7,860.8 1455.0,855.9" fill="none" stroke="#000" stroke-width="8.8" stroke-linecap="round" stroke-linejoin="round"/><g fill="#000"><circle cx="1508.8" cy="813.2" r="3.7"/><circle cx="1492.1" cy="817.4" r="3.7"/><circle cx="1482.7" cy="828.9" r="3.7"/><circle cx="1476.0" cy="834.1" r="3.7"/><circle cx="1470.7" cy="838.3" r="3.7"/><circle cx="1466.1" cy="840.3" r="3.7"/><circle cx="1461.9" cy="839.3" r="3.7"/><circle cx="1458.8" cy="843.5" r="3.7"/><circle cx="1455.6" cy="853.4" r="3.7"/></g><text x="1195.0" y="1155.5" text-anchor="middle" font-family="Liberation Sans, Arial, sans-serif" font-size="18.7" fill="#1c1c1c">0</text><text x="1250.0" y="1155.5" text-anchor="middle" font-family="Liberation Sans, Arial, sans-serif" font-size="18.7" fill="#1c1c1c">1</text><text x="1304.2" y="1155.5" text-anchor="middle" font-family="Liberation Sans, Arial, sans-serif" font-size="18.7" fill="#1c1c1c">2</text><text x="1358.7" y="1155.5" text-anchor="middle" font-family="Liberation Sans, Arial, sans-serif" font-size="18.7" fill="#1c1c1c">3</text><text x="1413.7" y="1155.5" text-anchor="middle" font-family="Liberation Sans, Arial, sans-serif" font-size="18.7" fill="#1c1c1c">4</text><text x="1468.2" y="1155.5" text-anchor="middle" font-family="Liberation Sans, Arial, sans-serif" font-size="18.7" fill="#1c1c1c">5</text><text transform="translate(1158.6,1105.6) rotate(-90) scale(1,1.08)" text-anchor="middle" font-family="Liberation Sans, Arial, sans-serif" font-size="18.1" fill="#1c1c1c">0</text><text transform="translate(1158.6,1051.4) rotate(-90) scale(1,1.08)" text-anchor="middle" font-family="Liberation Sans, Arial, sans-serif" font-size="18.1" fill="#1c1c1c">1</text><text transform="translate(1158.6,997.2) rotate(-90) scale(1,1.08)" text-anchor="middle" font-family="Liberation Sans, Arial, sans-serif" font-size="18.1" fill="#1c1c1c">2</text><text transform="translate(1158.6,943.7) rotate(-90) scale(1,1.08)" text-anchor="middle" font-family="Liberation Sans, Arial, sans-serif" font-size="18.1" fill="#1c1c1c">3</text><text transform="translate(1158.6,889.5) rotate(-90) scale(1,1.08)" text-anchor="middle" font-family="Liberation Sans, Arial, sans-serif" font-size="18.1" fill="#1c1c1c">4</text><text transform="translate(1158.6,834.9) rotate(-90) scale(1,1.08)" text-anchor="middle" font-family="Liberation Sans, Arial, sans-serif" font-size="18.1" fill="#1c1c1c">5</text><text transform="translate(1111.0,1064.8) rotate(-90) scale(1,1.06)" font-family="Liberation Sans, Arial, sans-serif" fill="#1c1c1c" font-size="23.2"><tspan x="-1.04" y="0">Observed </tspan><tspan x="110.92" y="1.39" font-size="24.8">−</tspan><tspan x="127.42 133.52 147.58" y="0">log</tspan><tspan x="160.68" y="6.26" font-size="13.9">10</tspan><tspan x="175.38" y="0.70" font-size="27.4">(</tspan><tspan x="187.02" y="0" font-style="italic">p</tspan><tspan x="199.85" y="0.70" font-size="27.4">)</tspan></text>
<text x="1090.4" y="826.6" font-family="Liberation Serif, Times New Roman, serif" font-size="62.0" fill="#000">f</text>
<text x="1199" y="1200.6" font-family="Liberation Serif, Times New Roman, serif" font-size="39.2" fill="#111">Expected-log<tspan font-size="23">10</tspan>(<tspan font-style="italic">p</tspan>)</text>
</svg></body></html>
